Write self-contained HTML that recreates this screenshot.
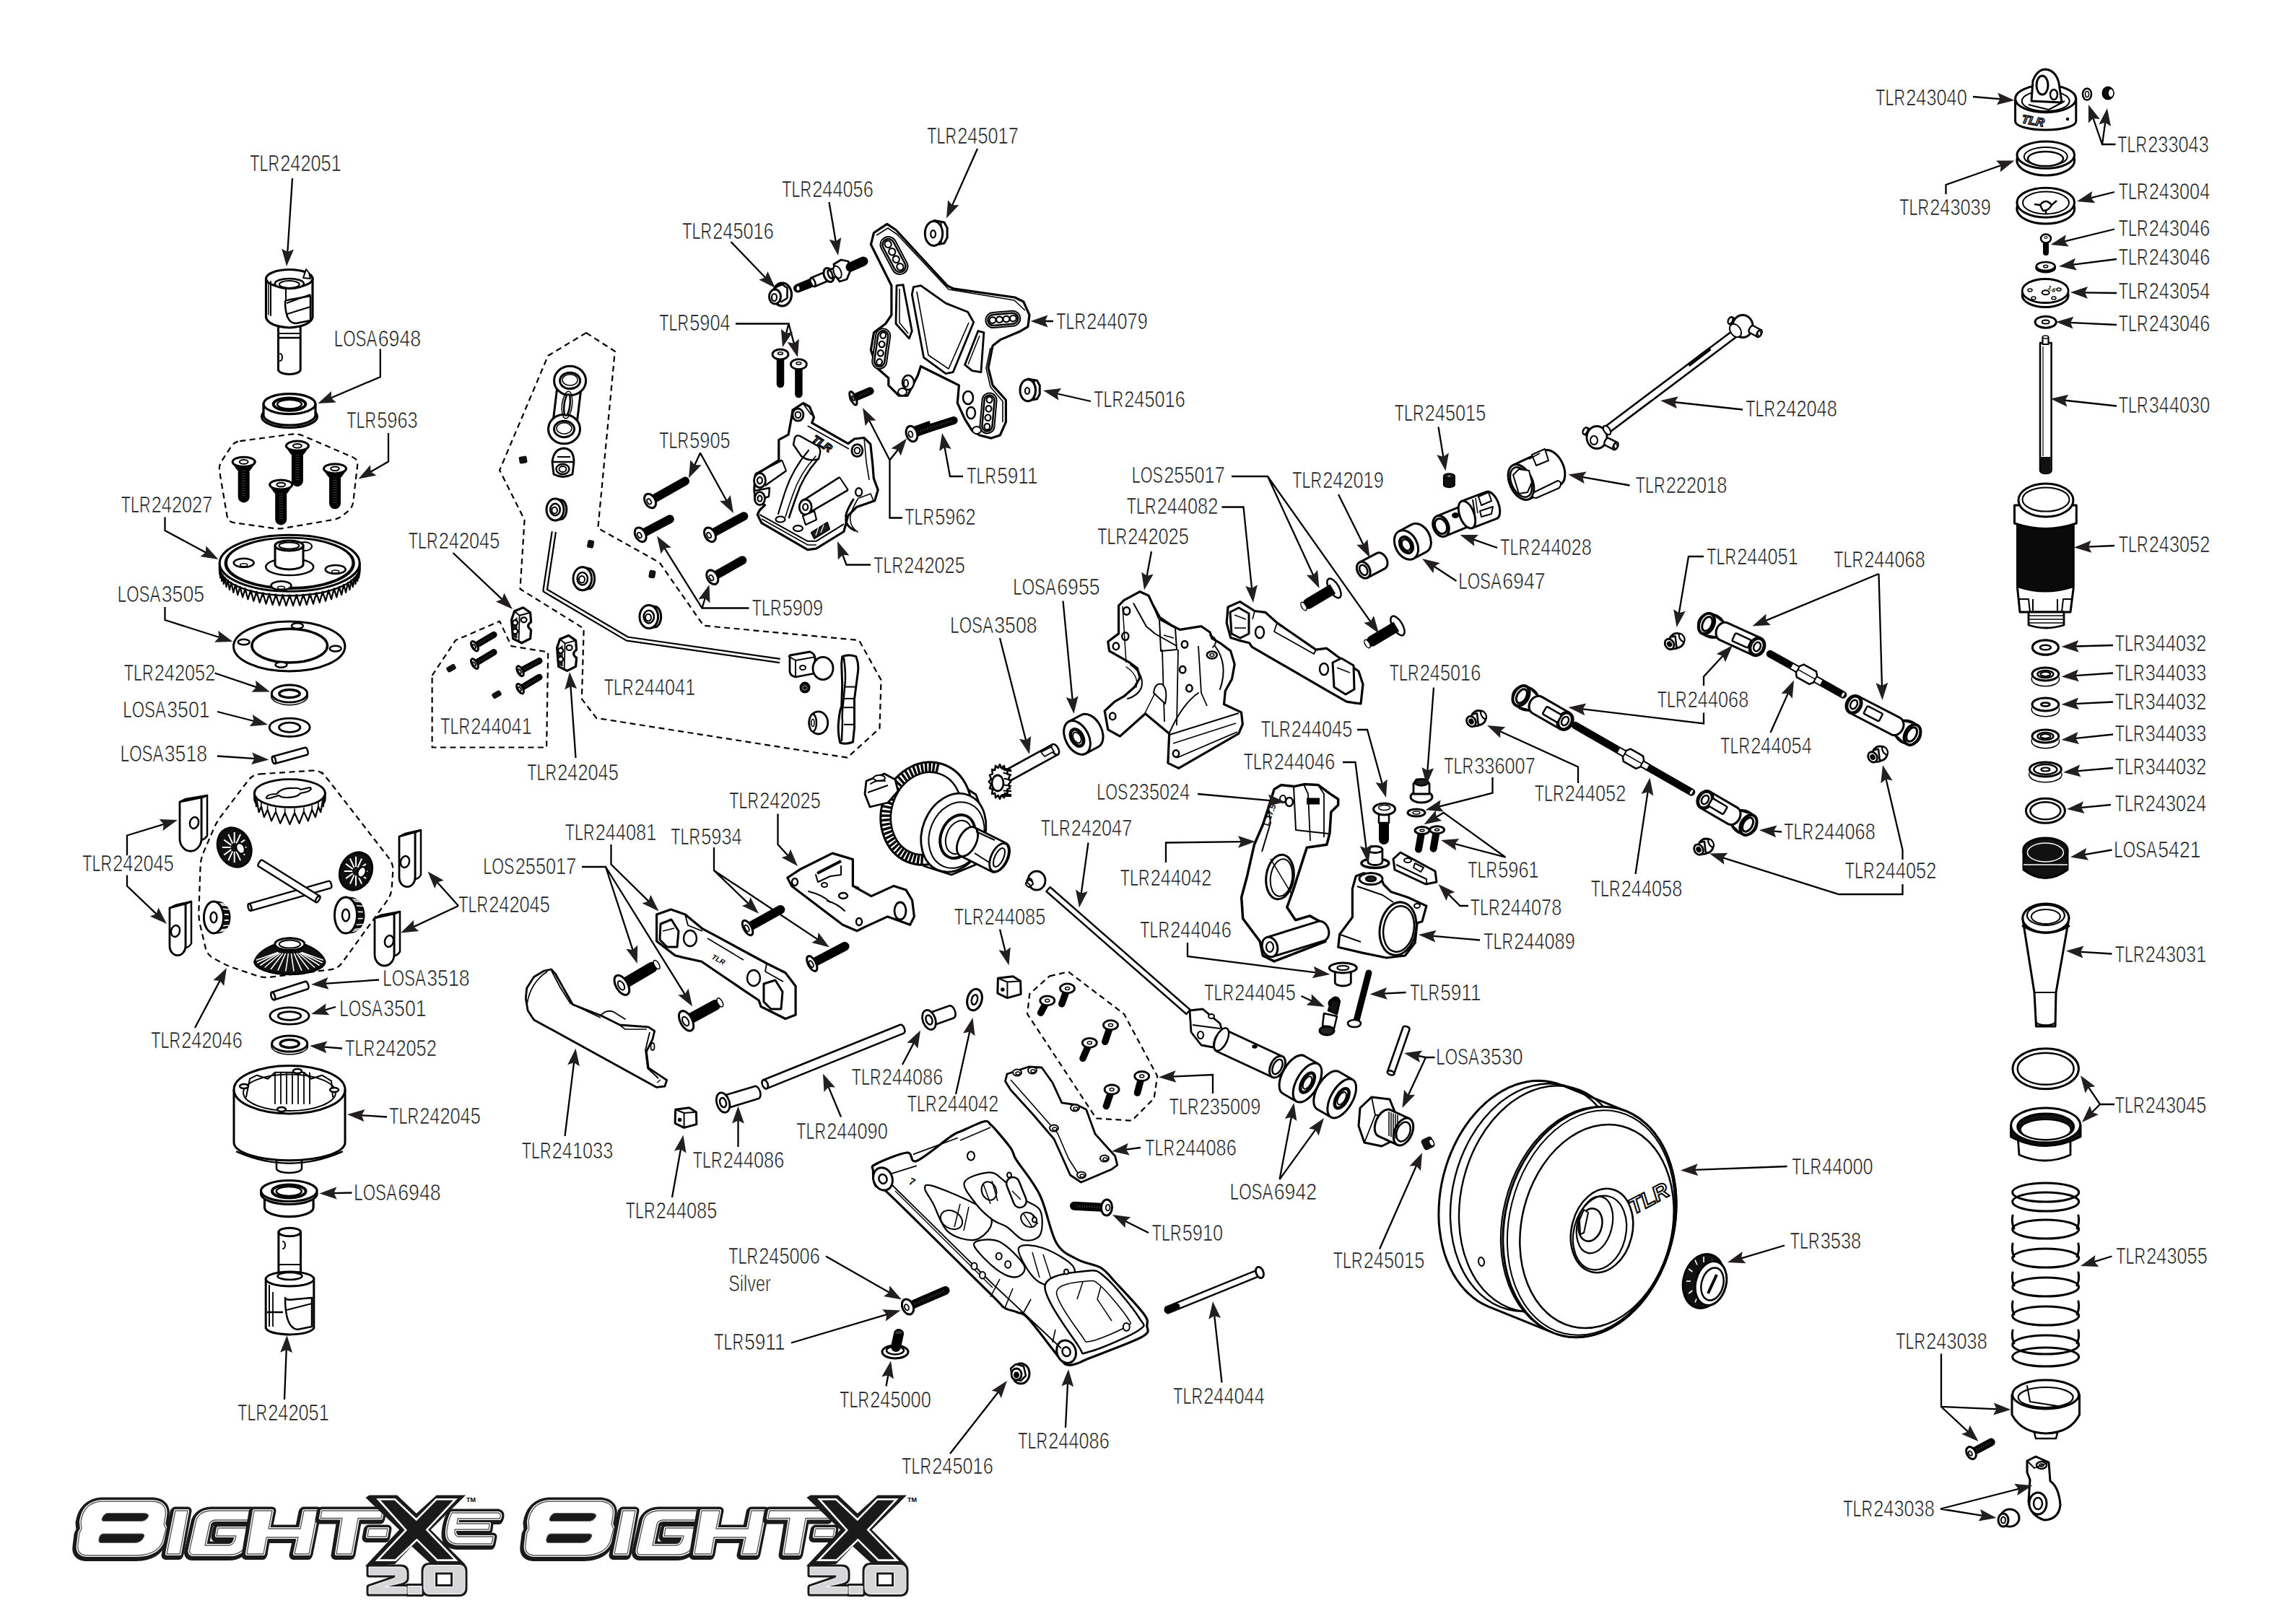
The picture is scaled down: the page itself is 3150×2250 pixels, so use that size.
<!DOCTYPE html><html><head><meta charset="utf-8"><style>html,body{margin:0;padding:0;background:#fff;}svg{display:block}</style></head><body>
<svg xmlns="http://www.w3.org/2000/svg" width="3150" height="2250" viewBox="0 0 3150 2250">
<rect width="3150" height="2250" fill="#fff"/>
<path d="M385.5,452L385.5,512A15.3,6.5 0 0 0 416.2,512L416.2,452Z" fill="#fff" stroke="#000" stroke-width="3" stroke-linejoin="round" stroke-linecap="round"/>
<path d="M386,462L416,462" fill="none" stroke="#000" stroke-width="2" stroke-linejoin="round" stroke-linecap="butt"/>
<path d="M386,468L416,468" fill="none" stroke="#000" stroke-width="2.5" stroke-linejoin="round" stroke-linecap="butt"/>
<path d="M388,490 a3,5 0 0 1 0,10" fill="none" stroke="#000" stroke-width="2" stroke-linejoin="round" stroke-linecap="round"/>
<path d="M368.5,386L368.5,440Q372,452 400.8,454Q429,452 433,440L433,386Z" fill="#fff" stroke="#000" stroke-width="3.2" stroke-linejoin="round" stroke-linecap="round"/>
<ellipse cx="400.8" cy="386" rx="32.3" ry="12.5" fill="#fff" stroke="#000" stroke-width="3.2"/>
<ellipse cx="400.8" cy="393" rx="20" ry="7" fill="#fff" stroke="#000" stroke-width="2.5"/>
<ellipse cx="400.8" cy="394" rx="14" ry="5" fill="#fff" stroke="#000" stroke-width="2"/>
<path d="M375,390L375,437" fill="none" stroke="#000" stroke-width="2" stroke-linejoin="round" stroke-linecap="round"/>
<path d="M372,391L372,436" fill="none" stroke="#000" stroke-width="1.5" stroke-linejoin="round" stroke-linecap="round"/>
<path d="M396,400L396,430" fill="none" stroke="#000" stroke-width="2" stroke-linejoin="round" stroke-linecap="round"/>
<path d="M395,417Q395,448 410,448L430,444L430,410L408,414Q395,416 395,417Z" fill="#fff" stroke="#000" stroke-width="2.5" stroke-linejoin="round" stroke-linecap="round"/>
<path d="M397,420L430,408" fill="none" stroke="#000" stroke-width="2" stroke-linejoin="round" stroke-linecap="butt"/>
<path d="M398,435L430,425" fill="none" stroke="#000" stroke-width="2" stroke-linejoin="round" stroke-linecap="butt"/>
<path d="M420,385L424,373L428,378L430,386Z" fill="#fff" stroke="#000" stroke-width="2" stroke-linejoin="round" stroke-linecap="round"/>
<ellipse cx="401" cy="577" rx="38.5" ry="15.5" fill="#fff" stroke="#000" stroke-width="3.2"/>
<path d="M365,559.6L365,575.0A36,14 0 0 0 437,575.0L437,559.6Z" fill="#fff" stroke="#000" stroke-width="3.2" stroke-linejoin="round" stroke-linecap="round"/>
<ellipse cx="401" cy="559.6" rx="36" ry="14" fill="#fff" stroke="#000" stroke-width="3.2"/>
<ellipse cx="401" cy="560.1" rx="22.3" ry="8.7" fill="#fff" stroke="#000" stroke-width="4"/>
<ellipse cx="401" cy="560.1" rx="16.9" ry="6.3" fill="#fff" stroke="#000" stroke-width="2.5"/>
<path d="M332.3,611.1L404,601.6Q411.9,600.5 419.3,603.6L488.7,633.4Q496.1,636.5 495.2,644.4L489.3,695.1Q488.4,703 482.2,708.1L475.7,713.5Q469.5,718.6 461.6,720L394.3,731.6Q386.4,733 378.5,731.9L323.9,724.1Q316,723 314.6,715.1L304.1,653.3Q302.7,645.4 307.1,638.7L320,618.9Q324.4,612.2 332.3,611.1" fill="none" stroke="#000" stroke-width="2.2" stroke-dasharray="8 5.5"/>
<line x1="411.9" y1="621.7" x2="411.9" y2="666.2" stroke="#000" stroke-width="16" stroke-linecap="round"/>
<line x1="411.9" y1="629.7" x2="411.9" y2="666.2" stroke="#333" stroke-width="5.6" stroke-dasharray="1.2 2.2"/>
<path d="M396.4,617.7L403.9,628.3L419.9,628.3L427.4,617.7Z" fill="#000" stroke="#000" stroke-width="3" stroke-linejoin="round" stroke-linecap="round"/>
<ellipse cx="411.9" cy="617.7" rx="15.5" ry="6.6" fill="#fff" stroke="#000" stroke-width="3"/>
<ellipse cx="411.9" cy="617.7" rx="5.9" ry="2.8" fill="#fff" stroke="#000" stroke-width="2"/>
<line x1="337.7" y1="643.9" x2="337.7" y2="688.4" stroke="#000" stroke-width="16" stroke-linecap="round"/>
<line x1="337.7" y1="651.9" x2="337.7" y2="688.4" stroke="#333" stroke-width="5.6" stroke-dasharray="1.2 2.2"/>
<path d="M322.2,639.9L329.7,650.5L345.7,650.5L353.2,639.9Z" fill="#000" stroke="#000" stroke-width="3" stroke-linejoin="round" stroke-linecap="round"/>
<ellipse cx="337.7" cy="639.9" rx="15.5" ry="6.6" fill="#fff" stroke="#000" stroke-width="3"/>
<ellipse cx="337.7" cy="639.9" rx="5.9" ry="2.8" fill="#fff" stroke="#000" stroke-width="2"/>
<line x1="464" y1="653.3" x2="464" y2="697.3" stroke="#000" stroke-width="16" stroke-linecap="round"/>
<line x1="464" y1="661.3" x2="464" y2="697.3" stroke="#333" stroke-width="5.6" stroke-dasharray="1.2 2.2"/>
<path d="M448.5,649.3L456,659.9L472,659.9L479.5,649.3Z" fill="#000" stroke="#000" stroke-width="3" stroke-linejoin="round" stroke-linecap="round"/>
<ellipse cx="464" cy="649.3" rx="15.5" ry="6.6" fill="#fff" stroke="#000" stroke-width="3"/>
<ellipse cx="464" cy="649.3" rx="5.9" ry="2.8" fill="#fff" stroke="#000" stroke-width="2"/>
<line x1="389.2" y1="675.5" x2="389.2" y2="719.4" stroke="#000" stroke-width="16" stroke-linecap="round"/>
<line x1="389.2" y1="683.5" x2="389.2" y2="719.4" stroke="#333" stroke-width="5.6" stroke-dasharray="1.2 2.2"/>
<path d="M373.7,671.5L381.2,682.1L397.2,682.1L404.7,671.5Z" fill="#000" stroke="#000" stroke-width="3" stroke-linejoin="round" stroke-linecap="round"/>
<ellipse cx="389.2" cy="671.5" rx="15.5" ry="6.6" fill="#fff" stroke="#000" stroke-width="3"/>
<ellipse cx="389.2" cy="671.5" rx="5.9" ry="2.8" fill="#fff" stroke="#000" stroke-width="2"/>
<path d="M304.2,780.3L304.2,789.3A97,39 0 0 0 498.2,789.3L498.2,780.3Z" fill="#fff" stroke="#000" stroke-width="3" stroke-linejoin="round" stroke-linecap="round"/>
<path d="M304.2,785.3L304.3,795.9L304.7,789.1L305.2,800.4L306.1,792.9L307.1,804.8L308.4,796.6L309.9,809.1L311.6,800.2L313.5,813.2L315.7,803.7L318.0,817.1L320.5,807.0L323.3,820.9L326.2,810.0L329.3,824.3L332.6,812.9L336.1,827.5L339.7,815.4L343.4,830.3L347.3,817.7L351.3,832.8L355.5,819.7L359.7,834.9L364.1,821.3L368.5,836.6L373.0,822.6L377.6,837.9L382.3,823.6L387.0,838.8L391.7,824.1L396.4,839.2L401.2,824.3L406.0,839.2L410.7,824.1L415.4,838.8L420.1,823.6L424.8,837.9L429.4,822.6L433.9,836.6L438.3,821.3L442.7,834.9L446.9,819.7L451.1,832.8L455.1,817.7L459.0,830.3L462.7,815.4L466.3,827.5L469.8,812.9L473.1,824.3L476.2,810.0L479.1,820.9L481.9,807.0L484.4,817.1L486.7,803.7L488.9,813.2L490.8,800.2L492.5,809.1L494.0,796.6L495.3,804.8L496.3,792.9L497.2,800.4L497.7,789.1L498.1,795.9L498.2,785.3L498.2,780.3L304.2,780.3Z" fill="#fff" stroke="#000" stroke-width="2.2" stroke-linejoin="round" stroke-linecap="round"/>
<path d="M304.2,786.3L304.3,788.2L304.7,790.1L305.2,792L306.1,793.9L307.1,795.8L308.4,797.6L309.9,799.4L311.6,801.2L313.5,803L315.7,804.7L318,806.4L320.5,808L323.3,809.5L326.2,811L329.3,812.5L332.6,813.9L336.1,815.2L339.7,816.4L343.4,817.6L347.3,818.7L351.3,819.8L355.5,820.7L359.7,821.6L364.1,822.3L368.5,823L373,823.6L377.6,824.1L382.3,824.6L387,824.9L391.7,825.1L396.4,825.3L401.2,825.3L406,825.3L410.7,825.1L415.4,824.9L420.1,824.6L424.8,824.1L429.4,823.6L433.9,823L438.3,822.3L442.7,821.6L446.9,820.7L451.1,819.8L455.1,818.7L459,817.6L462.7,816.4L466.3,815.2L469.8,813.9L473.1,812.5L476.2,811L479.1,809.5L481.9,808L484.4,806.4L486.7,804.7L488.9,803L490.8,801.2L492.5,799.4L494,797.6L495.3,795.8L496.3,793.9L497.2,792L497.7,790.1L498.1,788.2L498.2,786.3" fill="none" stroke="#000" stroke-width="2.5" stroke-linejoin="round" stroke-linecap="butt"/>
<ellipse cx="401.2" cy="780.3" rx="97" ry="39" fill="#fff" stroke="#000" stroke-width="3"/>
<ellipse cx="401.2" cy="780.3" rx="89" ry="35" fill="#fff" stroke="#000" stroke-width="3.2"/>
<ellipse cx="401.2" cy="779.8" rx="87" ry="34" fill="#fff" stroke="#000" stroke-width="1.5"/>
<ellipse cx="337.7" cy="779.8" rx="14" ry="6" fill="#fff" stroke="#000" stroke-width="2.5"/>
<ellipse cx="337.7" cy="782.8" rx="5" ry="2" fill="#fff" stroke="#000" stroke-width="1.5"/>
<ellipse cx="464.7" cy="788.9" rx="14" ry="6" fill="#fff" stroke="#000" stroke-width="2.5"/>
<ellipse cx="464.7" cy="791.9" rx="5" ry="2" fill="#fff" stroke="#000" stroke-width="1.5"/>
<ellipse cx="389.5" cy="811.3" rx="14" ry="6" fill="#fff" stroke="#000" stroke-width="2.5"/>
<ellipse cx="389.5" cy="814.3" rx="5" ry="2" fill="#fff" stroke="#000" stroke-width="1.5"/>
<ellipse cx="422" cy="757" rx="10" ry="6" fill="#fff" stroke="#000" stroke-width="2"/>
<ellipse cx="401.2" cy="785.4" rx="33" ry="11.7" fill="#fff" stroke="#000" stroke-width="2.5"/>
<path d="M381,756L381,782A19.5,7 0 0 0 420,782L420,756Z" fill="#fff" stroke="#000" stroke-width="3" stroke-linejoin="round" stroke-linecap="round"/>
<ellipse cx="400.5" cy="756" rx="19.5" ry="7" fill="#fff" stroke="#000" stroke-width="3.2"/>
<ellipse cx="400.5" cy="756" rx="14" ry="4.5" fill="#fff" stroke="#000" stroke-width="2"/>
<ellipse cx="400.7" cy="895.5" rx="77.2" ry="34.5" fill="#fff" stroke="#000" stroke-width="3"/>
<ellipse cx="401.2" cy="894.6" rx="52.3" ry="23.4" fill="#fff" stroke="#000" stroke-width="3.5"/>
<ellipse cx="411.9" cy="867.1" rx="8" ry="3.8" fill="#fff" stroke="#000" stroke-width="2.5"/>
<ellipse cx="337.7" cy="889.5" rx="8" ry="3.8" fill="#fff" stroke="#000" stroke-width="2.5"/>
<ellipse cx="464.7" cy="898.6" rx="8" ry="3.8" fill="#fff" stroke="#000" stroke-width="2.5"/>
<ellipse cx="389.5" cy="921" rx="8" ry="3.8" fill="#fff" stroke="#000" stroke-width="2.5"/>
<ellipse cx="401" cy="964" rx="24.7" ry="12" fill="#fff" stroke="#000" stroke-width="3"/>
<path d="M376.3,961L376.3,964A24.7,12 0 0 0 425.7,964L425.7,961Z" fill="#fff" stroke="none" stroke-width="0" stroke-linejoin="round" stroke-linecap="round"/>
<ellipse cx="401" cy="961" rx="24.7" ry="12" fill="#fff" stroke="#000" stroke-width="3"/>
<ellipse cx="401" cy="961" rx="14.2" ry="5.6" fill="#fff" stroke="#000" stroke-width="3.5"/>
<ellipse cx="401.2" cy="1007.8" rx="28" ry="12.7" fill="#fff" stroke="#000" stroke-width="2.8"/>
<ellipse cx="401.2" cy="1007.8" rx="14.7" ry="6.6" fill="#fff" stroke="#000" stroke-width="2.8"/>
<path d="M380.8,1058L425.5,1045.8A2.3,5.2 -15.3 0 0 422.7,1035.8L378,1048Z" fill="#fff" stroke="#000" stroke-width="2.5" stroke-linejoin="round" stroke-linecap="round"/>
<ellipse cx="379.4" cy="1053" rx="2.3" ry="5.2" fill="#fff" stroke="#000" stroke-width="2.5" transform="rotate(-15.265964014212235 379.4 1053)"/>
<path d="M360,1072.4L433,1067.6Q443,1067 449.7,1074.4L445.3,1069.6Q452,1077 458.1,1084.9L538.9,1189.1Q545,1197 544.3,1207L542.7,1230Q542,1240 536.1,1248.1L473.9,1333.9Q468,1342 458.1,1343.3L374.9,1353.7Q365,1355 355.5,1351.8L324.5,1341.2Q315,1338 306.2,1333.3L295.8,1327.7Q287,1323 284.7,1313.3L277.3,1281.7Q275,1272 275.4,1262L277.6,1200Q278,1190 282,1180.8L296,1148.2Q300,1139 306,1131L344,1081Q350,1073 360,1072.4" fill="none" stroke="#000" stroke-width="2.2" stroke-dasharray="8 5.5"/>
<path d="M279,1105L287,1102L287,1158.0A15.0,17.25 0 0 1 279,1164.0Z" fill="#fff" stroke="#000" stroke-width="2.5" stroke-linejoin="round" stroke-linecap="round"/>
<path d="M249,1111L257,1107L287,1102L279,1105Z" fill="#fff" stroke="#000" stroke-width="2.5" stroke-linejoin="round" stroke-linecap="round"/>
<path d="M249,1111L249,1162.0A15.0,17.25 0 0 0 279,1162.0L279,1105Z" fill="#fff" stroke="#000" stroke-width="2.8" stroke-linejoin="round" stroke-linecap="round"/>
<ellipse cx="269" cy="1140" rx="6" ry="8" fill="#fff" stroke="#000" stroke-width="2.5" transform="rotate(15 269 1140)"/>
<path d="M257,1252L265,1249L265,1307.0A11.0,12.649999999999999 0 0 1 257,1313.0Z" fill="#fff" stroke="#000" stroke-width="2.5" stroke-linejoin="round" stroke-linecap="round"/>
<path d="M235,1258L243,1254L265,1249L257,1252Z" fill="#fff" stroke="#000" stroke-width="2.5" stroke-linejoin="round" stroke-linecap="round"/>
<path d="M235,1258L235,1311.0A11.0,12.649999999999999 0 0 0 257,1311.0L257,1252Z" fill="#fff" stroke="#000" stroke-width="2.8" stroke-linejoin="round" stroke-linecap="round"/>
<ellipse cx="243" cy="1290" rx="6" ry="8" fill="#fff" stroke="#000" stroke-width="2.5" transform="rotate(15 243 1290)"/>
<path d="M575,1153L583,1150L583,1212.0A11.0,12.649999999999999 0 0 1 575,1218.0Z" fill="#fff" stroke="#000" stroke-width="2.5" stroke-linejoin="round" stroke-linecap="round"/>
<path d="M553,1159L561,1155L583,1150L575,1153Z" fill="#fff" stroke="#000" stroke-width="2.5" stroke-linejoin="round" stroke-linecap="round"/>
<path d="M553,1159L553,1216.0A11.0,12.649999999999999 0 0 0 575,1216.0L575,1153Z" fill="#fff" stroke="#000" stroke-width="2.8" stroke-linejoin="round" stroke-linecap="round"/>
<ellipse cx="561" cy="1194" rx="6" ry="8" fill="#fff" stroke="#000" stroke-width="2.5" transform="rotate(15 561 1194)"/>
<path d="M546,1266L554,1263L554,1318.5A13.5,15.524999999999999 0 0 1 546,1324.5Z" fill="#fff" stroke="#000" stroke-width="2.5" stroke-linejoin="round" stroke-linecap="round"/>
<path d="M519,1272L527,1268L554,1263L546,1266Z" fill="#fff" stroke="#000" stroke-width="2.5" stroke-linejoin="round" stroke-linecap="round"/>
<path d="M519,1272L519,1322.5A13.5,15.524999999999999 0 0 0 546,1322.5L546,1266Z" fill="#fff" stroke="#000" stroke-width="2.8" stroke-linejoin="round" stroke-linecap="round"/>
<ellipse cx="539" cy="1304" rx="6" ry="8" fill="#fff" stroke="#000" stroke-width="2.5" transform="rotate(15 539 1304)"/>
<path d="M352.4,1099L352.4,1107A49,19.4 0 0 0 450.4,1107L450.4,1099Z" fill="#fff" stroke="#000" stroke-width="2.5" stroke-linejoin="round" stroke-linecap="round"/>
<path d="M354.4,1107.0L354.9,1117.3L356.3,1112.5L358.6,1125.2L361.9,1117.5L365.9,1132.1L370.6,1121.7L376.0,1137.4L381.9,1124.6L388.2,1140.8L394.7,1126.2L401.4,1142.0L408.1,1126.2L414.6,1140.8L420.9,1124.6L426.8,1137.4L432.2,1121.7L436.9,1132.1L440.9,1117.5L444.2,1125.2L446.5,1112.5L447.9,1117.3L448.4,1107.0L450.4,1099L352.4,1099Z" fill="#fff" stroke="#000" stroke-width="2.2" stroke-linejoin="round" stroke-linecap="round"/>
<path d="M354.4,1101L354.4,1107" fill="none" stroke="#000" stroke-width="1.6" stroke-linejoin="round" stroke-linecap="butt"/>
<path d="M356.3,1106.5L356.3,1112.5" fill="none" stroke="#000" stroke-width="1.6" stroke-linejoin="round" stroke-linecap="butt"/>
<path d="M361.9,1111.5L361.9,1117.5" fill="none" stroke="#000" stroke-width="1.6" stroke-linejoin="round" stroke-linecap="butt"/>
<path d="M370.6,1115.7L370.6,1121.7" fill="none" stroke="#000" stroke-width="1.6" stroke-linejoin="round" stroke-linecap="butt"/>
<path d="M381.9,1118.6L381.9,1124.6" fill="none" stroke="#000" stroke-width="1.6" stroke-linejoin="round" stroke-linecap="butt"/>
<path d="M394.7,1120.2L394.7,1126.2" fill="none" stroke="#000" stroke-width="1.6" stroke-linejoin="round" stroke-linecap="butt"/>
<path d="M408.1,1120.2L408.1,1126.2" fill="none" stroke="#000" stroke-width="1.6" stroke-linejoin="round" stroke-linecap="butt"/>
<path d="M420.9,1118.6L420.9,1124.6" fill="none" stroke="#000" stroke-width="1.6" stroke-linejoin="round" stroke-linecap="butt"/>
<path d="M432.2,1115.7L432.2,1121.7" fill="none" stroke="#000" stroke-width="1.6" stroke-linejoin="round" stroke-linecap="butt"/>
<path d="M440.9,1111.5L440.9,1117.5" fill="none" stroke="#000" stroke-width="1.6" stroke-linejoin="round" stroke-linecap="butt"/>
<path d="M446.5,1106.5L446.5,1112.5" fill="none" stroke="#000" stroke-width="1.6" stroke-linejoin="round" stroke-linecap="butt"/>
<path d="M448.4,1101L448.4,1107" fill="none" stroke="#000" stroke-width="1.6" stroke-linejoin="round" stroke-linecap="butt"/>
<ellipse cx="401.4" cy="1099" rx="49" ry="19.4" fill="#fff" stroke="#000" stroke-width="2.8"/>
<path d="M369.4,1104Q371.4,1100 383.4,1100Q389.4,1091 406.4,1092Q413.4,1091 416.4,1094L429.4,1091Q433.4,1094 425.4,1097L416.4,1099Q411.4,1105 396.4,1105Q389.4,1105 386.4,1102L373.4,1106Q367.4,1107 369.4,1104Z" fill="#fff" stroke="#000" stroke-width="2.2" stroke-linejoin="round" stroke-linecap="round"/>
<ellipse cx="324.7" cy="1174" rx="22.4" ry="28" fill="#111" stroke="#000" stroke-width="3" transform="rotate(-25 324.7 1174)"/>
<path d="M329.7,1174L341.5,1174" fill="none" stroke="#fff" stroke-width="2" stroke-linejoin="round" stroke-linecap="butt"/>
<path d="M329.1,1177.1L339.2,1184.5" fill="none" stroke="#fff" stroke-width="2" stroke-linejoin="round" stroke-linecap="butt"/>
<path d="M327.2,1179.3L333.1,1192.2" fill="none" stroke="#fff" stroke-width="2" stroke-linejoin="round" stroke-linecap="butt"/>
<path d="M324.7,1180.2L324.7,1195" fill="none" stroke="#fff" stroke-width="2" stroke-linejoin="round" stroke-linecap="butt"/>
<path d="M322.2,1179.3L316.3,1192.2" fill="none" stroke="#fff" stroke-width="2" stroke-linejoin="round" stroke-linecap="butt"/>
<path d="M320.3,1177.1L310.2,1184.5" fill="none" stroke="#fff" stroke-width="2" stroke-linejoin="round" stroke-linecap="butt"/>
<path d="M319.7,1174L307.9,1174" fill="none" stroke="#fff" stroke-width="2" stroke-linejoin="round" stroke-linecap="butt"/>
<path d="M320.3,1170.9L310.2,1163.5" fill="none" stroke="#fff" stroke-width="2" stroke-linejoin="round" stroke-linecap="butt"/>
<path d="M322.2,1168.7L316.3,1155.8" fill="none" stroke="#fff" stroke-width="2" stroke-linejoin="round" stroke-linecap="butt"/>
<path d="M324.7,1167.8L324.7,1153" fill="none" stroke="#fff" stroke-width="2" stroke-linejoin="round" stroke-linecap="butt"/>
<path d="M327.2,1168.7L333.1,1155.8" fill="none" stroke="#fff" stroke-width="2" stroke-linejoin="round" stroke-linecap="butt"/>
<path d="M329.1,1170.9L339.2,1163.5" fill="none" stroke="#fff" stroke-width="2" stroke-linejoin="round" stroke-linecap="butt"/>
<ellipse cx="333.1" cy="1175.4" rx="5.6" ry="7.8" fill="#fff" stroke="#000" stroke-width="2.5" transform="rotate(-25 333.1 1175.4)"/>
<ellipse cx="493" cy="1207" rx="21.6" ry="27" fill="#111" stroke="#000" stroke-width="3" transform="rotate(25 493 1207)"/>
<path d="M497.9,1207L509.2,1207" fill="none" stroke="#fff" stroke-width="2" stroke-linejoin="round" stroke-linecap="butt"/>
<path d="M497.2,1210L507,1217.1" fill="none" stroke="#fff" stroke-width="2" stroke-linejoin="round" stroke-linecap="butt"/>
<path d="M495.4,1212.1L501.1,1224.5" fill="none" stroke="#fff" stroke-width="2" stroke-linejoin="round" stroke-linecap="butt"/>
<path d="M493,1212.9L493,1227.2" fill="none" stroke="#fff" stroke-width="2" stroke-linejoin="round" stroke-linecap="butt"/>
<path d="M490.6,1212.1L484.9,1224.5" fill="none" stroke="#fff" stroke-width="2" stroke-linejoin="round" stroke-linecap="butt"/>
<path d="M488.8,1210L479,1217.1" fill="none" stroke="#fff" stroke-width="2" stroke-linejoin="round" stroke-linecap="butt"/>
<path d="M488.1,1207L476.8,1207" fill="none" stroke="#fff" stroke-width="2" stroke-linejoin="round" stroke-linecap="butt"/>
<path d="M488.8,1204L479,1196.9" fill="none" stroke="#fff" stroke-width="2" stroke-linejoin="round" stroke-linecap="butt"/>
<path d="M490.6,1201.9L484.9,1189.5" fill="none" stroke="#fff" stroke-width="2" stroke-linejoin="round" stroke-linecap="butt"/>
<path d="M493,1201.1L493,1186.8" fill="none" stroke="#fff" stroke-width="2" stroke-linejoin="round" stroke-linecap="butt"/>
<path d="M495.4,1201.9L501.1,1189.5" fill="none" stroke="#fff" stroke-width="2" stroke-linejoin="round" stroke-linecap="butt"/>
<path d="M497.2,1204L507,1196.9" fill="none" stroke="#fff" stroke-width="2" stroke-linejoin="round" stroke-linecap="butt"/>
<ellipse cx="501.1" cy="1208.3" rx="5.4" ry="7.6" fill="#fff" stroke="#000" stroke-width="2.5" transform="rotate(25 501.1 1208.3)"/>
<ellipse cx="301.5" cy="1271" rx="16.5" ry="20.9" fill="#111" stroke="#000" stroke-width="3"/>
<path d="M302.6,1251.2L316.9,1253.4" fill="none" stroke="#fff" stroke-width="1.6" stroke-linejoin="round" stroke-linecap="butt"/>
<path d="M302.6,1253.2L316.9,1255.1" fill="none" stroke="#fff" stroke-width="1.6" stroke-linejoin="round" stroke-linecap="butt"/>
<path d="M302.6,1258.7L316.9,1260" fill="none" stroke="#fff" stroke-width="1.6" stroke-linejoin="round" stroke-linecap="butt"/>
<path d="M302.6,1266.6L316.9,1267.1" fill="none" stroke="#fff" stroke-width="1.6" stroke-linejoin="round" stroke-linecap="butt"/>
<path d="M302.6,1275.4L316.9,1274.9" fill="none" stroke="#fff" stroke-width="1.6" stroke-linejoin="round" stroke-linecap="butt"/>
<path d="M302.6,1283.3L316.9,1282" fill="none" stroke="#fff" stroke-width="1.6" stroke-linejoin="round" stroke-linecap="butt"/>
<path d="M302.6,1288.8L316.9,1286.9" fill="none" stroke="#fff" stroke-width="1.6" stroke-linejoin="round" stroke-linecap="butt"/>
<path d="M302.6,1290.8L316.9,1288.6" fill="none" stroke="#fff" stroke-width="1.6" stroke-linejoin="round" stroke-linecap="butt"/>
<ellipse cx="296" cy="1271" rx="13.6" ry="22" fill="#fff" stroke="#000" stroke-width="3"/>
<ellipse cx="296" cy="1271" rx="4.4" ry="7.3" fill="#fff" stroke="#000" stroke-width="2.5"/>
<ellipse cx="485.2" cy="1268" rx="18.8" ry="23.8" fill="#111" stroke="#000" stroke-width="3"/>
<path d="M486.5,1245.5L502.8,1248" fill="none" stroke="#fff" stroke-width="1.6" stroke-linejoin="round" stroke-linecap="butt"/>
<path d="M486.5,1247.7L502.8,1250" fill="none" stroke="#fff" stroke-width="1.6" stroke-linejoin="round" stroke-linecap="butt"/>
<path d="M486.5,1254L502.8,1255.5" fill="none" stroke="#fff" stroke-width="1.6" stroke-linejoin="round" stroke-linecap="butt"/>
<path d="M486.5,1263L502.8,1263.5" fill="none" stroke="#fff" stroke-width="1.6" stroke-linejoin="round" stroke-linecap="butt"/>
<path d="M486.5,1273L502.8,1272.5" fill="none" stroke="#fff" stroke-width="1.6" stroke-linejoin="round" stroke-linecap="butt"/>
<path d="M486.5,1282L502.8,1280.5" fill="none" stroke="#fff" stroke-width="1.6" stroke-linejoin="round" stroke-linecap="butt"/>
<path d="M486.5,1288.3L502.8,1286" fill="none" stroke="#fff" stroke-width="1.6" stroke-linejoin="round" stroke-linecap="butt"/>
<path d="M486.5,1290.5L502.8,1288" fill="none" stroke="#fff" stroke-width="1.6" stroke-linejoin="round" stroke-linecap="butt"/>
<ellipse cx="479" cy="1268" rx="15.5" ry="25" fill="#fff" stroke="#000" stroke-width="3"/>
<ellipse cx="479" cy="1268" rx="5" ry="8.2" fill="#fff" stroke="#000" stroke-width="2.5"/>
<path d="M352.4,1332.3Q357.29999999999995,1318 379.34999999999997,1309.2L423.45,1309.2Q445.5,1318 450.4,1332.3A49,17.6 0 0 1 352.4,1332.3Z" fill="#111" stroke="#000" stroke-width="2.5" stroke-linejoin="round" stroke-linecap="round"/>
<path d="M385.1,1319.4L354.8,1330.3" fill="none" stroke="#fff" stroke-width="1.6" stroke-linejoin="round" stroke-linecap="butt"/>
<path d="M385.6,1319.8L356.2,1334" fill="none" stroke="#fff" stroke-width="1.6" stroke-linejoin="round" stroke-linecap="butt"/>
<path d="M387,1320.1L360.2,1337.5" fill="none" stroke="#fff" stroke-width="1.6" stroke-linejoin="round" stroke-linecap="butt"/>
<path d="M389.2,1320.5L366.6,1340.5" fill="none" stroke="#fff" stroke-width="1.6" stroke-linejoin="round" stroke-linecap="butt"/>
<path d="M392.1,1320.7L375,1343" fill="none" stroke="#fff" stroke-width="1.6" stroke-linejoin="round" stroke-linecap="butt"/>
<path d="M395.6,1320.9L384.9,1344.7" fill="none" stroke="#fff" stroke-width="1.6" stroke-linejoin="round" stroke-linecap="butt"/>
<path d="M399.4,1321L395.8,1345.6" fill="none" stroke="#fff" stroke-width="1.6" stroke-linejoin="round" stroke-linecap="butt"/>
<path d="M403.4,1321L407,1345.6" fill="none" stroke="#fff" stroke-width="1.6" stroke-linejoin="round" stroke-linecap="butt"/>
<path d="M407.2,1320.9L417.9,1344.7" fill="none" stroke="#fff" stroke-width="1.6" stroke-linejoin="round" stroke-linecap="butt"/>
<path d="M410.7,1320.7L427.8,1343" fill="none" stroke="#fff" stroke-width="1.6" stroke-linejoin="round" stroke-linecap="butt"/>
<path d="M413.6,1320.5L436.2,1340.5" fill="none" stroke="#fff" stroke-width="1.6" stroke-linejoin="round" stroke-linecap="butt"/>
<path d="M415.8,1320.1L442.6,1337.5" fill="none" stroke="#fff" stroke-width="1.6" stroke-linejoin="round" stroke-linecap="butt"/>
<path d="M417.2,1319.8L446.6,1334" fill="none" stroke="#fff" stroke-width="1.6" stroke-linejoin="round" stroke-linecap="butt"/>
<path d="M417.7,1319.4L447.9,1330.3" fill="none" stroke="#fff" stroke-width="1.6" stroke-linejoin="round" stroke-linecap="butt"/>
<ellipse cx="401.4" cy="1308.1" rx="20.6" ry="8.4" fill="#fff" stroke="#000" stroke-width="3"/>
<ellipse cx="401.4" cy="1308.1" rx="14.7" ry="5.5" fill="#fff" stroke="#000" stroke-width="2"/>
<path d="M347.4,1261.8L458.2,1230.3A2.2,5 -15.9 0 0 455.4,1220.7L344.6,1252.2Z" fill="#fff" stroke="#000" stroke-width="2.4" stroke-linejoin="round" stroke-linecap="round"/>
<ellipse cx="346" cy="1257" rx="2.2" ry="5" fill="#fff" stroke="#000" stroke-width="2.4" transform="rotate(-15.870240497491375 346 1257)"/>
<path d="M442.9,1241.6L363.4,1191.8A2.2,5 -147.9 0 0 358,1200.2L437.5,1250Z" fill="#fff" stroke="#000" stroke-width="2.4" stroke-linejoin="round" stroke-linecap="round"/>
<ellipse cx="440.2" cy="1245.8" rx="2.2" ry="5" fill="#fff" stroke="#000" stroke-width="2.4" transform="rotate(-147.9363499175827 440.2 1245.8)"/>
<path d="M379.9,1385.2L426.5,1370.2A2.5,5.5 -17.8 0 0 423.1,1359.8L376.5,1374.8Z" fill="#fff" stroke="#000" stroke-width="2.5" stroke-linejoin="round" stroke-linecap="round"/>
<ellipse cx="378.2" cy="1380" rx="2.5" ry="5.5" fill="#fff" stroke="#000" stroke-width="2.5" transform="rotate(-17.842765470792994 378.2 1380)"/>
<ellipse cx="401" cy="1407.5" rx="27.1" ry="11.6" fill="#fff" stroke="#000" stroke-width="2.8"/>
<ellipse cx="401" cy="1407.5" rx="15.8" ry="5.8" fill="#fff" stroke="#000" stroke-width="2.8"/>
<ellipse cx="401.2" cy="1449" rx="24.6" ry="11" fill="#fff" stroke="#000" stroke-width="3"/>
<path d="M376.59999999999997,1446L376.59999999999997,1449A24.6,11 0 0 0 425.8,1449L425.8,1446Z" fill="#fff" stroke="none" stroke-width="0" stroke-linejoin="round" stroke-linecap="round"/>
<ellipse cx="401.2" cy="1446" rx="24.6" ry="11" fill="#fff" stroke="#000" stroke-width="3"/>
<ellipse cx="401.2" cy="1446" rx="13" ry="5.5" fill="#fff" stroke="#000" stroke-width="3.5"/>
<path d="M383,1600L383,1619A17.5,6 0 0 0 418,1619L418,1600Z" fill="#fff" stroke="#000" stroke-width="2.5" stroke-linejoin="round" stroke-linecap="round"/>
<path d="M324,1509.7L324,1582.7A77,24.974999999999998 0 0 0 478,1582.7L478,1509.7Z" fill="#fff" stroke="#000" stroke-width="3" stroke-linejoin="round" stroke-linecap="round"/>
<path d="M328,1595.7Q401,1627.7 474,1595.7" fill="none" stroke="#000" stroke-width="2.5" stroke-linejoin="round" stroke-linecap="round"/>
<ellipse cx="401" cy="1509.7" rx="77" ry="33.3" fill="#fff" stroke="#000" stroke-width="3"/>
<ellipse cx="401" cy="1513.7" rx="64" ry="25.3" fill="#fff" stroke="#000" stroke-width="2"/>
<path d="M341,1519.7L346,1494.7L356,1489.7L371,1494.7L381,1485.7L421,1485.7L431,1494.7L446,1489.7L459,1497.7L461,1519.7" fill="none" stroke="#000" stroke-width="2" stroke-linejoin="round" stroke-linecap="round"/>
<path d="M381,1485.7L381,1529.7" fill="none" stroke="#000" stroke-width="1.8" stroke-linejoin="round" stroke-linecap="butt"/>
<path d="M389,1485.7L389,1529.7" fill="none" stroke="#000" stroke-width="1.8" stroke-linejoin="round" stroke-linecap="butt"/>
<path d="M397,1485.7L397,1529.7" fill="none" stroke="#000" stroke-width="1.8" stroke-linejoin="round" stroke-linecap="butt"/>
<path d="M405,1485.7L405,1529.7" fill="none" stroke="#000" stroke-width="1.8" stroke-linejoin="round" stroke-linecap="butt"/>
<path d="M413,1485.7L413,1529.7" fill="none" stroke="#000" stroke-width="1.8" stroke-linejoin="round" stroke-linecap="butt"/>
<path d="M421,1485.7L421,1529.7" fill="none" stroke="#000" stroke-width="1.8" stroke-linejoin="round" stroke-linecap="butt"/>
<path d="M429,1485.7L429,1529.7" fill="none" stroke="#000" stroke-width="1.8" stroke-linejoin="round" stroke-linecap="butt"/>
<ellipse cx="338" cy="1505" rx="6" ry="3" fill="#fff" stroke="#000" stroke-width="2.5"/>
<ellipse cx="463" cy="1510" rx="6" ry="3" fill="#fff" stroke="#000" stroke-width="2.5"/>
<ellipse cx="412" cy="1484" rx="6" ry="3" fill="#fff" stroke="#000" stroke-width="2.5"/>
<ellipse cx="390" cy="1537" rx="6" ry="3" fill="#fff" stroke="#000" stroke-width="2.5"/>
<path d="M366.5,1650L366.5,1673.3A33.8,12.325 0 0 0 434.1,1673.3L434.1,1650Z" fill="#fff" stroke="#000" stroke-width="3.2" stroke-linejoin="round" stroke-linecap="round"/>
<ellipse cx="400.3" cy="1654" rx="38.8" ry="14.5" fill="#fff" stroke="#000" stroke-width="3.2"/>
<ellipse cx="400.3" cy="1650" rx="38.8" ry="14.5" fill="#fff" stroke="#000" stroke-width="3.2"/>
<ellipse cx="400.3" cy="1650.5" rx="23.3" ry="9" fill="#fff" stroke="#000" stroke-width="4"/>
<ellipse cx="400.3" cy="1650.5" rx="17.5" ry="6.5" fill="#fff" stroke="#000" stroke-width="2.5"/>
<path d="M385.9,1707L385.9,1762A15.3,5.8 0 0 0 416.5,1762L416.5,1707Z" fill="#fff" stroke="#000" stroke-width="3" stroke-linejoin="round" stroke-linecap="round"/>
<ellipse cx="401.2" cy="1707" rx="15.3" ry="5.8" fill="#fff" stroke="#000" stroke-width="3"/>
<path d="M386,1752L416,1752" fill="none" stroke="#000" stroke-width="2" stroke-linejoin="round" stroke-linecap="butt"/>
<path d="M392,1720 a3,5 0 0 1 0,10" fill="none" stroke="#000" stroke-width="2" stroke-linejoin="round" stroke-linecap="round"/>
<path d="M368.2,1772L368.2,1840Q372,1848 401,1849Q430,1848 434.8,1840L434.8,1772Z" fill="#fff" stroke="#000" stroke-width="3" stroke-linejoin="round" stroke-linecap="round"/>
<ellipse cx="401.5" cy="1772" rx="33.3" ry="10" fill="#fff" stroke="#000" stroke-width="3"/>
<ellipse cx="401.5" cy="1768" rx="17" ry="5" fill="#fff" stroke="#000" stroke-width="2.5"/>
<path d="M373,1780L373,1838" fill="none" stroke="#000" stroke-width="2" stroke-linejoin="round" stroke-linecap="butt"/>
<path d="M378,1790L378,1838" fill="none" stroke="#000" stroke-width="1.8" stroke-linejoin="round" stroke-linecap="butt"/>
<path d="M395,1798Q395,1840 412,1842L432,1838L432,1798L410,1800Q395,1802 395,1798Z" fill="#fff" stroke="#000" stroke-width="2.5" stroke-linejoin="round" stroke-linecap="round"/>
<path d="M397,1815L432,1806" fill="none" stroke="#000" stroke-width="2" stroke-linejoin="round" stroke-linecap="butt"/>
<path d="M370,1818L392,1818" fill="none" stroke="#000" stroke-width="2.5" stroke-linejoin="round" stroke-linecap="butt"/>
<path d="M812,461.1L851.8,486.7L828.3,731.8L913.6,779.4L974.6,866.8L1190,887.1L1220.5,942L1218.5,1009L1173.7,1049.7L826.2,994.8L805.9,968.4L808.7,870.8L720.5,816L726.6,720.4L692.1,651.4L759.2,492.8Z" fill="none" stroke="#000" stroke-width="2.2" stroke-linejoin="round" stroke-linecap="butt" stroke-dasharray="8 5.5"/>
<path d="M598.6,935.9L631.1,887.1L692.1,860.7L708.4,895.2L759.2,903.4L757.1,1035.5L598.6,1035.5Z" fill="none" stroke="#000" stroke-width="2.2" stroke-linejoin="round" stroke-linecap="butt" stroke-dasharray="8 5.5"/>
<path d="M773.2,525.4L765.1,592.5L797.9,596.5L806.0,529.4Z" fill="#fff" stroke="#000" stroke-width="3" stroke-linejoin="round" stroke-linecap="round"/>
<ellipse cx="789.6" cy="527.4" rx="22" ry="20.2" fill="#fff" stroke="#000" stroke-width="3"/>
<ellipse cx="789.6" cy="527.4" rx="14" ry="11.2" fill="#fff" stroke="#000" stroke-width="3"/>
<ellipse cx="789.6" cy="526.4" rx="10.5" ry="7.7" fill="#fff" stroke="#000" stroke-width="1.5"/>
<ellipse cx="781.5" cy="594.5" rx="22" ry="20.2" fill="#fff" stroke="#000" stroke-width="3"/>
<ellipse cx="781.5" cy="594.5" rx="14" ry="11.2" fill="#fff" stroke="#000" stroke-width="3"/>
<ellipse cx="781.5" cy="593.5" rx="10.5" ry="7.7" fill="#fff" stroke="#000" stroke-width="1.5"/>
<ellipse cx="785.5" cy="561" rx="4" ry="14.9" fill="#fff" stroke="#000" stroke-width="2.5" transform="rotate(6.883174707742214 785.5 561)"/>
<ellipse cx="785.5" cy="561" rx="7" ry="18.9" fill="none" stroke="#000" stroke-width="1.5" transform="rotate(6.883174707742214 785.5 561)"/>
<rect x="719.1" y="632.1" width="11" height="10" rx="2.5" fill="#111" transform="rotate(-10 724.6 637.1)"/>
<path d="M765,640Q767,622 781,621Q795,622 795,640L793,657Q780,664 767,657Z" fill="#fff" stroke="#000" stroke-width="2.8" stroke-linejoin="round" stroke-linecap="round"/>
<path d="M766,640L794,640" fill="none" stroke="#000" stroke-width="2.5" stroke-linejoin="round" stroke-linecap="butt"/>
<path d="M772,633L790,633" fill="none" stroke="#000" stroke-width="2" stroke-linejoin="round" stroke-linecap="butt"/>
<ellipse cx="779.5" cy="650" rx="9" ry="7" fill="#fff" stroke="#000" stroke-width="2.5"/>
<ellipse cx="779.5" cy="650" rx="5" ry="4" fill="#fff" stroke="#000" stroke-width="2"/>
<path d="M769.0,691L779.5,693.25A11.25,15 0 0 1 779.5,718.75L769.0,721Z" fill="#fff" stroke="#000" stroke-width="3" stroke-linejoin="round" stroke-linecap="round"/>
<ellipse cx="769" cy="706" rx="12" ry="15" fill="#fff" stroke="#000" stroke-width="3"/>
<ellipse cx="769" cy="706" rx="6.8" ry="8.2" fill="#fff" stroke="#000" stroke-width="2.5"/>
<ellipse cx="768.2" cy="707" rx="3.8" ry="4.5" fill="#fff" stroke="#000" stroke-width="2"/>
<path d="M767.3,736.7L755.1,818L868.9,885.1L1080.3,915.5" fill="none" stroke="#000" stroke-width="7.5" stroke-linejoin="round" stroke-linecap="butt"/>
<path d="M767.3,736.7L755.1,818L868.9,885.1L1080.3,915.5" fill="none" stroke="#fff" stroke-width="3" stroke-linejoin="round" stroke-linecap="butt"/>
<rect x="813.6" y="748.3" width="9" height="11" rx="2.5" fill="#111" transform="rotate(10 818.1 753.8)"/>
<rect x="898.9" y="790.1" width="9" height="11" rx="2.5" fill="#111" transform="rotate(10 903.4 795.6)"/>
<path d="M806.8,785.7L818.0,788.1A12.0,16 0 0 1 818.0,815.3000000000001L806.8,817.7Z" fill="#fff" stroke="#000" stroke-width="3" stroke-linejoin="round" stroke-linecap="round"/>
<ellipse cx="806.8" cy="801.7" rx="12.8" ry="16" fill="#fff" stroke="#000" stroke-width="3"/>
<ellipse cx="806.8" cy="801.7" rx="7.2" ry="8.8" fill="#fff" stroke="#000" stroke-width="2.5"/>
<ellipse cx="806" cy="802.7" rx="4" ry="4.8" fill="#fff" stroke="#000" stroke-width="2"/>
<path d="M898.8,838.6L910.0,841.0A12.0,16 0 0 1 910.0,868.2L898.8,870.6Z" fill="#fff" stroke="#000" stroke-width="3" stroke-linejoin="round" stroke-linecap="round"/>
<ellipse cx="898.8" cy="854.6" rx="12.8" ry="16" fill="#fff" stroke="#000" stroke-width="3"/>
<ellipse cx="898.8" cy="854.6" rx="7.2" ry="8.8" fill="#fff" stroke="#000" stroke-width="2.5"/>
<ellipse cx="898" cy="855.6" rx="4" ry="4.8" fill="#fff" stroke="#000" stroke-width="2"/>
<path d="M1094,908L1122,903Q1130,906 1129,915L1128,933L1102,938Q1094,936 1094,930Z" fill="#fff" stroke="#000" stroke-width="2.8" stroke-linejoin="round" stroke-linecap="round"/>
<path d="M1092,909L1102,915L1130,910" fill="none" stroke="#000" stroke-width="2" stroke-linejoin="round" stroke-linecap="butt"/>
<path d="M1102,915L1102,939" fill="none" stroke="#000" stroke-width="2" stroke-linejoin="round" stroke-linecap="butt"/>
<ellipse cx="1112" cy="925" rx="4" ry="3" fill="#fff" stroke="#000" stroke-width="2"/>
<ellipse cx="1140" cy="926" rx="14" ry="15.6" fill="#fff" stroke="#000" stroke-width="2.8"/>
<ellipse cx="1115" cy="952.6" rx="6.5" ry="7" fill="#111" stroke="#000" stroke-width="2"/>
<ellipse cx="1115" cy="953" rx="3" ry="3" fill="none" stroke="#888" stroke-width="1"/>
<ellipse cx="1133.7" cy="1001.4" rx="13" ry="15.6" fill="#fff" stroke="#000" stroke-width="2.8"/>
<ellipse cx="1126" cy="1001.4" rx="5" ry="12" fill="#fff" stroke="#000" stroke-width="2.5"/>
<ellipse cx="1126" cy="1001.4" rx="2" ry="5" fill="#fff" stroke="#000" stroke-width="1.5"/>
<path d="M1166.7,909.7Q1176,906 1185.9,909.7Q1190,920 1188.4,931.4L1183.5,968.8L1183.5,1008.3L1181.5,1028Q1172,1032 1163.8,1029Q1160,1015 1161.8,998.4Q1163,985 1165.7,978.7L1166.7,949.1L1165.7,919.6Z" fill="#fff" stroke="#000" stroke-width="3" stroke-linejoin="round" stroke-linecap="round"/>
<path d="M1169,912Q1172,935 1170.5,948L1168,975Q1166,990 1167,1000L1166,1026" fill="none" stroke="#000" stroke-width="2.5" stroke-linejoin="round" stroke-linecap="round"/>
<path d="M1169,951.6L1185,951.6" fill="none" stroke="#000" stroke-width="2" stroke-linejoin="round" stroke-linecap="butt"/>
<path d="M1169,967.9L1185,967.9" fill="none" stroke="#000" stroke-width="2" stroke-linejoin="round" stroke-linecap="butt"/>
<path d="M1169,980.2L1185,980.2" fill="none" stroke="#000" stroke-width="2" stroke-linejoin="round" stroke-linecap="butt"/>
<path d="M1169,1003.8L1185,1003.8" fill="none" stroke="#000" stroke-width="2" stroke-linejoin="round" stroke-linecap="butt"/>
<path d="M712.6,846.8L724.6,841.8L734.6,848.8L735.6,861.8Q727.6,866.8 735.6,872.8L734.6,884.8L722.6,890.8L710.6,884.8L708.6,858.8Z" fill="#fff" stroke="#000" stroke-width="3.2" stroke-linejoin="round" stroke-linecap="round"/>
<path d="M712.6,846.8L719.6,852.8L734.6,848.8" fill="none" stroke="#000" stroke-width="2" stroke-linejoin="round" stroke-linecap="round"/>
<path d="M719.6,852.8L718.6,888.8" fill="none" stroke="#000" stroke-width="1.8" stroke-linejoin="round" stroke-linecap="round"/>
<path d="M709.6,860.8L716.6,854.8L716.6,884.8L710.6,882.8Z" fill="#222"/>
<ellipse cx="713.6" cy="862.8" rx="3.5" ry="3.5" fill="#fff" stroke="#000" stroke-width="2.2"/>
<ellipse cx="713.6" cy="874.8" rx="3.5" ry="3.5" fill="#fff" stroke="#000" stroke-width="2.2"/>
<ellipse cx="725.6" cy="858.8" rx="4" ry="3.5" fill="#fff" stroke="#000" stroke-width="2.2"/>
<path d="M775.6,885.4L787.6,880.4L797.6,887.4L798.6,900.4Q790.6,905.4 798.6,911.4L797.6,923.4L785.6,929.4L773.6,923.4L771.6,897.4Z" fill="#fff" stroke="#000" stroke-width="3.2" stroke-linejoin="round" stroke-linecap="round"/>
<path d="M775.6,885.4L782.6,891.4L797.6,887.4" fill="none" stroke="#000" stroke-width="2" stroke-linejoin="round" stroke-linecap="round"/>
<path d="M782.6,891.4L781.6,927.4" fill="none" stroke="#000" stroke-width="1.8" stroke-linejoin="round" stroke-linecap="round"/>
<path d="M772.6,899.4L779.6,893.4L779.6,923.4L773.6,921.4Z" fill="#222"/>
<ellipse cx="776.6" cy="901.4" rx="3.5" ry="3.5" fill="#fff" stroke="#000" stroke-width="2.2"/>
<ellipse cx="776.6" cy="913.4" rx="3.5" ry="3.5" fill="#fff" stroke="#000" stroke-width="2.2"/>
<ellipse cx="788.6" cy="897.4" rx="4" ry="3.5" fill="#fff" stroke="#000" stroke-width="2.2"/>
<line x1="657.5" y1="895.2" x2="684.1" y2="879.3" stroke="#000" stroke-width="9" stroke-linecap="round"/>
<line x1="663.7" y1="891.5" x2="683.4" y2="879.8" stroke="#3a3a3a" stroke-width="2.7" stroke-dasharray="1.2 2.2"/>
<ellipse cx="657.5" cy="895.2" rx="3.6" ry="7.6" fill="#fff" stroke="#000" stroke-width="3" transform="rotate(-30.825428023644267 657.5 895.2)"/>
<ellipse cx="656.8" cy="895.6" rx="1.6" ry="3.2" fill="#fff" stroke="#000" stroke-width="1.8" transform="rotate(-30.825428023644267 656.8 895.6)"/>
<line x1="657.5" y1="919.6" x2="684.1" y2="903.6" stroke="#000" stroke-width="9" stroke-linecap="round"/>
<line x1="663.7" y1="915.9" x2="683.4" y2="904.1" stroke="#3a3a3a" stroke-width="2.7" stroke-dasharray="1.2 2.2"/>
<ellipse cx="657.5" cy="919.6" rx="3.6" ry="7.6" fill="#fff" stroke="#000" stroke-width="3" transform="rotate(-30.963756532073617 657.5 919.6)"/>
<ellipse cx="656.8" cy="920" rx="1.6" ry="3.2" fill="#fff" stroke="#000" stroke-width="1.8" transform="rotate(-30.963756532073617 656.8 920)"/>
<line x1="720.5" y1="929.8" x2="747" y2="915.6" stroke="#000" stroke-width="9" stroke-linecap="round"/>
<line x1="726.9" y1="926.4" x2="746.2" y2="916" stroke="#3a3a3a" stroke-width="2.7" stroke-dasharray="1.2 2.2"/>
<ellipse cx="720.5" cy="929.8" rx="3.6" ry="7.6" fill="#fff" stroke="#000" stroke-width="3" transform="rotate(-28.121216112327303 720.5 929.8)"/>
<ellipse cx="719.8" cy="930.2" rx="1.6" ry="3.2" fill="#fff" stroke="#000" stroke-width="1.8" transform="rotate(-28.121216112327303 719.8 930.2)"/>
<line x1="720.5" y1="954.2" x2="747.1" y2="938.2" stroke="#000" stroke-width="9" stroke-linecap="round"/>
<line x1="726.7" y1="950.5" x2="746.4" y2="938.7" stroke="#3a3a3a" stroke-width="2.7" stroke-dasharray="1.2 2.2"/>
<ellipse cx="720.5" cy="954.2" rx="3.6" ry="7.6" fill="#fff" stroke="#000" stroke-width="3" transform="rotate(-30.963756532073617 720.5 954.2)"/>
<ellipse cx="719.8" cy="954.6" rx="1.6" ry="3.2" fill="#fff" stroke="#000" stroke-width="1.8" transform="rotate(-30.963756532073617 719.8 954.6)"/>
<rect x="618.5" y="921.7" width="13" height="8" rx="2.5" fill="#111" transform="rotate(-30 625 925.7)"/>
<rect x="681.5" y="958.3" width="13" height="8" rx="2.5" fill="#111" transform="rotate(-30 688 962.3)"/>
<path d="M1210.5,322.5L1228.8,310.3L1241.0,318.5L1312.1,395.7L1320.2,399.8L1405.6,412.0L1417.8,418.0L1426.0,436.3L1423.9,452.6L1413.7,458.7L1385.3,470.9L1375.1,479.0L1369.0,509.5L1375.1,533.9L1393.4,554.2L1393.4,584.7L1385.3,603.0L1373.1,607.1L1356.8,603.0L1346.7,596.9L1336.5,580.7L1326.3,558.3L1328.4,533.9L1320.2,529.8L1275.5,507.5L1271.5,519.7L1257.2,548.1L1245.0,548.1L1230.8,533.9L1230.8,523.7L1214.6,509.5L1206.4,485.1L1210.5,460.7L1226.7,448.5L1234.9,436.3L1234.9,395.7L1206.4,338.8Z" fill="#fff" stroke="#000" stroke-width="3.2" stroke-linejoin="round" stroke-linecap="round"/>
<path d="M1214,326L1230,316L1243,325L1314,401L1405,416L1420,430" fill="none" stroke="#000" stroke-width="1.6" stroke-linejoin="round" stroke-linecap="butt"/>
<path d="M1372,482L1366,510L1372,536L1389,556L1389,585" fill="none" stroke="#000" stroke-width="1.6" stroke-linejoin="round" stroke-linecap="butt"/>
<path d="M1265.4,397.7L1275.5,395.7L1310.1,420.1L1340.6,432.3L1348.7,446.5L1320.2,515.6L1310.1,517.6L1279.6,495.3L1263.3,407.9Z" fill="#fff" stroke="#000" stroke-width="2.8" stroke-linejoin="round" stroke-linecap="round"/>
<path d="M1270,404L1286,492L1314,511L1342,447" fill="none" stroke="#000" stroke-width="1.6" stroke-linejoin="round" stroke-linecap="butt"/>
<path d="M1242.0,395.7L1251.1,394.7L1263.3,458.7L1259.3,468.9L1241.0,448.5Z" fill="#fff" stroke="#000" stroke-width="2.8" stroke-linejoin="round" stroke-linecap="round"/>
<path d="M1246,400L1246,447L1258,462" fill="none" stroke="#000" stroke-width="1.5" stroke-linejoin="round" stroke-linecap="butt"/>
<path d="M1354.8,458.7L1362.9,460.7L1358.9,515.6L1346.7,513.6L1336.5,505.4Z" fill="#fff" stroke="#000" stroke-width="2.8" stroke-linejoin="round" stroke-linecap="round"/>
<path d="M1357,465L1341,505" fill="none" stroke="#000" stroke-width="1.5" stroke-linejoin="round" stroke-linecap="butt"/>
<g transform="rotate(-28 1238.5 354)">
<rect x="1227.5" y="326.0" width="22.0" height="56.0" rx="11.0" fill="#fff" stroke="#000" stroke-width="2"/>
<rect x="1230.5" y="329.0" width="16.0" height="50.0" rx="8.0" fill="#fff" stroke="#000" stroke-width="2.5"/>
<ellipse cx="1238.5" cy="336.2" rx="4.5" ry="4.8" fill="#fff" stroke="#000" stroke-width="2.2"/>
<ellipse cx="1238.5" cy="348.1" rx="4.5" ry="4.8" fill="#fff" stroke="#000" stroke-width="2.2"/>
<ellipse cx="1238.5" cy="359.9" rx="4.5" ry="4.8" fill="#fff" stroke="#000" stroke-width="2.2"/>
<ellipse cx="1238.5" cy="371.8" rx="4.5" ry="4.8" fill="#fff" stroke="#000" stroke-width="2.2"/>
</g>
<g transform="rotate(8 1220.7 483.1)">
<rect x="1210.7" y="455.1" width="20.0" height="56.0" rx="10.0" fill="#fff" stroke="#000" stroke-width="2"/>
<rect x="1213.7" y="458.1" width="14.0" height="50.0" rx="7.0" fill="#fff" stroke="#000" stroke-width="2.5"/>
<ellipse cx="1220.7" cy="464.4" rx="3.9" ry="4.2" fill="#fff" stroke="#000" stroke-width="2.2"/>
<ellipse cx="1220.7" cy="476.9" rx="3.9" ry="4.2" fill="#fff" stroke="#000" stroke-width="2.2"/>
<ellipse cx="1220.7" cy="489.3" rx="3.9" ry="4.2" fill="#fff" stroke="#000" stroke-width="2.2"/>
<ellipse cx="1220.7" cy="501.8" rx="3.9" ry="4.2" fill="#fff" stroke="#000" stroke-width="2.2"/>
</g>
<g transform="rotate(-95 1389.3 442.4)">
<rect x="1378.8" y="418.4" width="21.0" height="48.0" rx="10.5" fill="#fff" stroke="#000" stroke-width="2"/>
<rect x="1381.8" y="421.4" width="15.0" height="42.0" rx="7.5" fill="#fff" stroke="#000" stroke-width="2.5"/>
<ellipse cx="1389.3" cy="428.1" rx="4.2" ry="4.5" fill="#fff" stroke="#000" stroke-width="2.2"/>
<ellipse cx="1389.3" cy="437.6" rx="4.2" ry="4.5" fill="#fff" stroke="#000" stroke-width="2.2"/>
<ellipse cx="1389.3" cy="447.1" rx="4.2" ry="4.5" fill="#fff" stroke="#000" stroke-width="2.2"/>
<ellipse cx="1389.3" cy="456.6" rx="4.2" ry="4.5" fill="#fff" stroke="#000" stroke-width="2.2"/>
</g>
<g transform="rotate(5 1369 572.5)">
<rect x="1359.0" y="544.5" width="20.0" height="56.0" rx="10.0" fill="#fff" stroke="#000" stroke-width="2"/>
<rect x="1362.0" y="547.5" width="14.0" height="50.0" rx="7.0" fill="#fff" stroke="#000" stroke-width="2.5"/>
<ellipse cx="1369.0" cy="553.8" rx="3.9" ry="4.2" fill="#fff" stroke="#000" stroke-width="2.2"/>
<ellipse cx="1369.0" cy="566.3" rx="3.9" ry="4.2" fill="#fff" stroke="#000" stroke-width="2.2"/>
<ellipse cx="1369.0" cy="578.7" rx="3.9" ry="4.2" fill="#fff" stroke="#000" stroke-width="2.2"/>
<ellipse cx="1369.0" cy="591.2" rx="3.9" ry="4.2" fill="#fff" stroke="#000" stroke-width="2.2"/>
</g>
<ellipse cx="1258" cy="530" rx="8" ry="10" fill="#fff" stroke="#000" stroke-width="2.5"/>
<ellipse cx="1255" cy="531" rx="3" ry="5" fill="#fff" stroke="#000" stroke-width="2"/>
<ellipse cx="1250" cy="543" rx="6" ry="5" fill="#fff" stroke="#000" stroke-width="2"/>
<ellipse cx="1341" cy="551" rx="7" ry="9" fill="#fff" stroke="#000" stroke-width="2.5"/>
<ellipse cx="1345" cy="572" rx="6" ry="8" fill="#fff" stroke="#000" stroke-width="2.5"/>
<ellipse cx="1353" cy="596" rx="6" ry="5" fill="#fff" stroke="#000" stroke-width="2"/>
<path d="M1294,305.5L1307.9,308.05L1312.15,315.7L1312.15,329.3L1307.9,336.95L1294,339.5Z" fill="#fff" stroke="#000" stroke-width="3" stroke-linejoin="round" stroke-linecap="round"/>
<path d="M1303.7,307.2L1303.7,337.8" fill="none" stroke="#000" stroke-width="1.8" stroke-linejoin="round" stroke-linecap="butt"/>
<ellipse cx="1293.5" cy="323.4" rx="12.2" ry="17" fill="#fff" stroke="#000" stroke-width="3"/>
<ellipse cx="1292.6" cy="324.2" rx="3.4" ry="5.1" fill="#fff" stroke="#000" stroke-width="2.2"/>
<path d="M1424,525L1436.5,527.25L1440.25,534.0L1440.25,546.0L1436.5,552.75L1424,555Z" fill="#fff" stroke="#000" stroke-width="3" stroke-linejoin="round" stroke-linecap="round"/>
<path d="M1432.8,526.5L1432.8,553.5" fill="none" stroke="#000" stroke-width="1.8" stroke-linejoin="round" stroke-linecap="butt"/>
<ellipse cx="1423.8" cy="540.8" rx="10.8" ry="15" fill="#fff" stroke="#000" stroke-width="3"/>
<ellipse cx="1423" cy="541.5" rx="3" ry="4.5" fill="#fff" stroke="#000" stroke-width="2.2"/>
<path d="M1098.0,568.1L1112.7,558.5L1121.6,563.6L1127.5,578.4L1124.6,585.8L1174.8,614.6L1183.7,608.0L1197.0,606.5L1205.8,615.4L1208.8,643.4L1210.3,662.6L1216.2,678.9L1211.7,693.7L1186.6,702.5L1174.8,714.4L1168.9,736.5L1130.5,760.2L1118.7,761.6L1055.1,724.7L1049.2,712.9L1052.2,707.0L1059.6,699.6L1046.3,693.7L1044.8,677.4L1046.3,658.2L1078.8,637.5L1078.8,609.4L1092.1,602.1L1096.5,578.4Z" fill="#fff" stroke="#000" stroke-width="3.2" stroke-linejoin="round" stroke-linecap="round"/>
<ellipse cx="1105.4" cy="574.7" rx="7.5" ry="8.5" fill="#fff" stroke="#000" stroke-width="2.8"/>
<ellipse cx="1105.4" cy="574.7" rx="3.8" ry="4.3" fill="#fff" stroke="#000" stroke-width="2"/>
<ellipse cx="1187.4" cy="624.2" rx="7.5" ry="8.5" fill="#fff" stroke="#000" stroke-width="2.8"/>
<ellipse cx="1187.4" cy="624.2" rx="3.8" ry="4.3" fill="#fff" stroke="#000" stroke-width="2"/>
<path d="M1113,560L1124,575" fill="none" stroke="#000" stroke-width="1.6" stroke-linejoin="round" stroke-linecap="butt"/>
<path d="M1118.7,590L1176,622" fill="none" stroke="#000" stroke-width="1.8" stroke-linejoin="round" stroke-linecap="butt"/>
<path d="M1197,607L1200,640L1204,665" fill="none" stroke="#000" stroke-width="1.6" stroke-linejoin="round" stroke-linecap="butt"/>
<path d="M1101,606.5Q1103,602 1108,604L1133,618Q1137,622 1136,628L1134,636Q1120,640 1110,632L1099,616Z" fill="#fff" stroke="#000" stroke-width="2.4" stroke-linejoin="round" stroke-linecap="round"/>
<path d="M1133,636Q1112,660 1103,688Q1097,705 1093,717" fill="none" stroke="#000" stroke-width="2.6" stroke-linejoin="round" stroke-linecap="round"/>
<path d="M1130,632Q1108,656 1098,686Q1092,703 1088,716" fill="none" stroke="#000" stroke-width="1.6" stroke-linejoin="round" stroke-linecap="round"/>
<path d="M1120,624Q1098,650 1088,680Q1080,705 1078,712" fill="none" stroke="#000" stroke-width="2.2" stroke-linejoin="round" stroke-linecap="round"/>
<path d="M1046.3,656.7L1083.2,637.5" fill="none" stroke="#000" stroke-width="2.6" stroke-linejoin="round" stroke-linecap="butt"/>
<path d="M1059.6,673L1089.1,652.3" fill="none" stroke="#000" stroke-width="2.6" stroke-linejoin="round" stroke-linecap="butt"/>
<path d="M1083.2,637.5L1089.1,652.3" fill="none" stroke="#000" stroke-width="2" stroke-linejoin="round" stroke-linecap="butt"/>
<ellipse cx="1052.5" cy="665.6" rx="8" ry="10" fill="#fff" stroke="#000" stroke-width="2.8"/>
<ellipse cx="1052.5" cy="665.6" rx="3.5" ry="4.5" fill="#fff" stroke="#000" stroke-width="2.2"/>
<path d="M1045,680L1066,676L1065,688L1046,694Z" fill="#fff" stroke="#000" stroke-width="2.4" stroke-linejoin="round" stroke-linecap="round"/>
<ellipse cx="1052.5" cy="690.7" rx="7" ry="9" fill="#fff" stroke="#000" stroke-width="2.8"/>
<ellipse cx="1052.5" cy="690.7" rx="3" ry="4" fill="#fff" stroke="#000" stroke-width="2.2"/>
<path d="M1109.8,695.1L1163,661.2" fill="none" stroke="#000" stroke-width="2.6" stroke-linejoin="round" stroke-linecap="butt"/>
<path d="M1121.6,709.9L1174.8,678.9" fill="none" stroke="#000" stroke-width="2.6" stroke-linejoin="round" stroke-linecap="butt"/>
<path d="M1163,661.2L1174.8,678.9" fill="none" stroke="#000" stroke-width="2" stroke-linejoin="round" stroke-linecap="butt"/>
<ellipse cx="1115.7" cy="702.5" rx="8.5" ry="10.5" fill="#fff" stroke="#000" stroke-width="2.8"/>
<ellipse cx="1115.7" cy="702.5" rx="3.5" ry="4.5" fill="#fff" stroke="#000" stroke-width="2.2"/>
<path d="M1112,715L1128,708L1131,720L1116,727Z" fill="#fff" stroke="#000" stroke-width="2.2" stroke-linejoin="round" stroke-linecap="round"/>
<path d="M1182,692Q1170,712 1172,717Q1170,728 1184,735" fill="none" stroke="#000" stroke-width="3" stroke-linejoin="round" stroke-linecap="round"/>
<path d="M1189,690Q1176,712 1178,720Q1178,730 1188,737" fill="none" stroke="#000" stroke-width="1.6" stroke-linejoin="round" stroke-linecap="round"/>
<ellipse cx="1189.6" cy="681.8" rx="4.5" ry="5.5" fill="#fff" stroke="#000" stroke-width="2.4"/>
<path d="M1190,690L1206,684L1210,694" fill="none" stroke="#000" stroke-width="1.6" stroke-linejoin="round" stroke-linecap="butt"/>
<path d="M1052.2,712.9L1118.7,749.8L1130.5,749.8L1168.9,726.2" fill="none" stroke="#000" stroke-width="2" stroke-linejoin="round" stroke-linecap="butt"/>
<path d="M1055,719L1119,755L1131,755" fill="none" stroke="#000" stroke-width="1.5" stroke-linejoin="round" stroke-linecap="butt"/>
<ellipse cx="1081" cy="719.5" rx="6.5" ry="4" fill="#fff" stroke="#000" stroke-width="2.2"/>
<ellipse cx="1105.4" cy="732.1" rx="6.5" ry="4" fill="#fff" stroke="#000" stroke-width="2.2"/>
<path d="M1124,738L1146,724L1149,733L1128,746Z" fill="#222" stroke="#000" stroke-width="2.2" stroke-linejoin="round" stroke-linecap="round"/>
<path d="M1130,742L1134,730" fill="none" stroke="#fff" stroke-width="1.2" stroke-linejoin="round" stroke-linecap="butt"/>
<path d="M1137,738L1141,727" fill="none" stroke="#fff" stroke-width="1.2" stroke-linejoin="round" stroke-linecap="butt"/>
<text x="1124" y="611" font-family="Liberation Sans" font-weight="bold" font-style="italic" font-size="15" transform="rotate(33 1124 611)" fill="#fff" stroke="#000" stroke-width="1.6">TLR</text>
<line x1="1106" y1="399" x2="1121.4" y2="393.1" stroke="#000" stroke-width="12" stroke-linecap="round"/>
<line x1="1105" y1="399.5" x2="1125" y2="391" stroke="#000" stroke-width="12" stroke-linecap="round"/>
<path d="M1128.5,397L1147.5,389A2.9,6.5 -22.8 0 0 1142.5,377L1123.5,385Z" fill="#fff" stroke="#000" stroke-width="2.5" stroke-linejoin="round" stroke-linecap="round"/>
<ellipse cx="1126" cy="391" rx="2.9" ry="6.5" fill="#fff" stroke="#000" stroke-width="2.5" transform="rotate(-22.833654177917545 1126 391)"/>
<ellipse cx="1148" cy="381" rx="6.5" ry="10" fill="#fff" stroke="#000" stroke-width="3" transform="rotate(-22 1148 381)"/>
<path d="M1152.3,385.5L1164.3,380.5A2.7,6 -22.6 0 0 1159.7,369.5L1147.7,374.5Z" fill="#fff" stroke="#000" stroke-width="2.5" stroke-linejoin="round" stroke-linecap="round"/>
<ellipse cx="1150" cy="380" rx="2.7" ry="6" fill="#fff" stroke="#000" stroke-width="2.5" transform="rotate(-22.619864948040426 1150 380)"/>
<path d="M1155,366L1165,360L1175,362L1178,375L1173,387L1163,390L1158,383Z" fill="#fff" stroke="#000" stroke-width="2.8" stroke-linejoin="round" stroke-linecap="round"/>
<ellipse cx="1160" cy="377" rx="5" ry="9" fill="#fff" stroke="#000" stroke-width="2" transform="rotate(-22 1160 377)"/>
<line x1="1178" y1="370" x2="1196" y2="362" stroke="#000" stroke-width="13" stroke-linecap="round"/>
<ellipse cx="1105.5" cy="399.5" rx="2" ry="3" fill="#fff"/>
<ellipse cx="1083.5" cy="408" rx="13" ry="16" fill="#fff" stroke="#000" stroke-width="3.2"/>
<path d="M1074.5,398L1083.5,394L1090.5,399L1090.5,413L1082.5,418L1074.5,414Z" fill="#fff" stroke="#000" stroke-width="2.5" stroke-linejoin="round" stroke-linecap="round"/>
<ellipse cx="1073.5" cy="411" rx="8" ry="10" fill="#fff" stroke="#000" stroke-width="3"/>
<ellipse cx="1072.5" cy="412" rx="3.5" ry="5" fill="#fff" stroke="#000" stroke-width="2.2"/>
<line x1="1081" y1="491" x2="1081" y2="532" stroke="#000" stroke-width="10.5" stroke-linecap="round"/>
<ellipse cx="1081" cy="491" rx="11" ry="7" fill="#fff" stroke="#000" stroke-width="2.8"/>
<ellipse cx="1081" cy="489.5" rx="3.5" ry="1.8" fill="#fff" stroke="#000" stroke-width="1.5"/>
<line x1="1106.4" y1="504.7" x2="1106.4" y2="546" stroke="#000" stroke-width="10.5" stroke-linecap="round"/>
<ellipse cx="1106.4" cy="504.7" rx="11" ry="7" fill="#fff" stroke="#000" stroke-width="2.8"/>
<ellipse cx="1106.4" cy="503.2" rx="3.5" ry="1.8" fill="#fff" stroke="#000" stroke-width="1.5"/>
<line x1="1181.9" y1="551.8" x2="1205.2" y2="541.8" stroke="#000" stroke-width="11" stroke-linecap="round"/>
<line x1="1190" y1="548.3" x2="1204.2" y2="542.2" stroke="#3a3a3a" stroke-width="3.3" stroke-dasharray="1.2 2.2"/>
<ellipse cx="1181.9" cy="551.8" rx="3.6" ry="9.9" fill="#fff" stroke="#000" stroke-width="3" transform="rotate(-23.24727000874313 1181.9 551.8)"/>
<ellipse cx="1181.9" cy="551.8" rx="1.3" ry="3.6" fill="#fff" stroke="#000" stroke-width="1.8" transform="rotate(-23.24727000874313 1181.9 551.8)"/>
<line x1="1265" y1="599" x2="1290" y2="590" stroke="#000" stroke-width="15"/>
<line x1="1263" y1="601" x2="1321.1" y2="582.4" stroke="#000" stroke-width="11" stroke-linecap="round"/>
<line x1="1271.4" y1="598.3" x2="1320" y2="582.7" stroke="#3a3a3a" stroke-width="3.3" stroke-dasharray="1.2 2.2"/>
<ellipse cx="1263" cy="601" rx="7.5" ry="11" fill="#fff" stroke="#000" stroke-width="3" transform="rotate(-17.780791373532647 1263 601)"/>
<ellipse cx="1261.4" cy="601.5" rx="2.8" ry="4.2" fill="#fff" stroke="#000" stroke-width="1.8" transform="rotate(-17.780791373532647 1261.4 601.5)"/>
<line x1="900.6" y1="694" x2="949.1" y2="666.6" stroke="#000" stroke-width="12" stroke-linecap="round"/>
<ellipse cx="900.6" cy="694" rx="7.1" ry="10.5" fill="#fff" stroke="#000" stroke-width="3" transform="rotate(-29.514547745747315 900.6 694)"/>
<ellipse cx="899.2" cy="694.8" rx="2.6" ry="4" fill="#fff" stroke="#000" stroke-width="1.8" transform="rotate(-29.514547745747315 899.2 694.8)"/>
<line x1="887.2" y1="740.8" x2="927.8" y2="719.2" stroke="#000" stroke-width="12" stroke-linecap="round"/>
<ellipse cx="887.2" cy="740.8" rx="7.1" ry="10.5" fill="#fff" stroke="#000" stroke-width="3" transform="rotate(-27.99468350351712 887.2 740.8)"/>
<ellipse cx="885.8" cy="741.5" rx="2.6" ry="4" fill="#fff" stroke="#000" stroke-width="1.8" transform="rotate(-27.99468350351712 885.8 741.5)"/>
<line x1="983.5" y1="740.8" x2="1030.3" y2="715.2" stroke="#000" stroke-width="12" stroke-linecap="round"/>
<ellipse cx="983.5" cy="740.8" rx="7.1" ry="10.5" fill="#fff" stroke="#000" stroke-width="3" transform="rotate(-28.679759728343903 983.5 740.8)"/>
<ellipse cx="982.1" cy="741.6" rx="2.6" ry="4" fill="#fff" stroke="#000" stroke-width="1.8" transform="rotate(-28.679759728343903 982.1 741.6)"/>
<line x1="986.8" y1="799.7" x2="1028.3" y2="776.3" stroke="#000" stroke-width="12" stroke-linecap="round"/>
<ellipse cx="986.8" cy="799.7" rx="7.1" ry="10.5" fill="#fff" stroke="#000" stroke-width="3" transform="rotate(-29.47993160392442 986.8 799.7)"/>
<ellipse cx="985.4" cy="800.5" rx="2.6" ry="4" fill="#fff" stroke="#000" stroke-width="1.8" transform="rotate(-29.47993160392442 985.4 800.5)"/>
<path d="M1549.6,839.1L1556.9,831.7L1579.1,819.7L1591.1,825.3L1597.6,839.1L1606.8,855.7L1623.4,866.8L1634.5,872.4L1664.1,867.7L1676.1,876.0L1678.8,884.4L1689.9,890.8L1704.7,901.9L1710.2,920.4L1706.5,940.7L1697.3,957.3L1695.5,975.8L1719.5,986.9L1721.3,1003.5L1715.8,1016.4L1632.7,1064.4L1617.9,1057.1L1619.7,1016.4L1586.5,988.7L1551.4,1020.1L1534.8,1010.9L1530.2,985.0L1544.0,972.1L1557.0,964.7L1571.7,951.8L1579.1,938.8L1575.4,925.9L1564.3,917.6L1536.6,901.9L1534.8,889.0L1549.6,877.9Z" fill="#fff" stroke="#000" stroke-width="3.2" stroke-linejoin="round" stroke-linecap="round"/>
<ellipse cx="1560.6" cy="846.5" rx="4.6" ry="5.3" fill="#fff" stroke="#000" stroke-width="2.5"/>
<ellipse cx="1558.8" cy="881.6" rx="4.6" ry="5.3" fill="#fff" stroke="#000" stroke-width="2.5"/>
<ellipse cx="1545.9" cy="895.4" rx="4.2" ry="4.8" fill="#fff" stroke="#000" stroke-width="2.5"/>
<ellipse cx="1641" cy="892.7" rx="4.2" ry="4.8" fill="#fff" stroke="#000" stroke-width="2.5"/>
<ellipse cx="1638.2" cy="927.8" rx="4.2" ry="4.8" fill="#fff" stroke="#000" stroke-width="2.5"/>
<ellipse cx="1647.4" cy="953.6" rx="4.2" ry="4.8" fill="#fff" stroke="#000" stroke-width="2.5"/>
<ellipse cx="1541.2" cy="992.4" rx="4.2" ry="4.8" fill="#fff" stroke="#000" stroke-width="2.5"/>
<ellipse cx="1629" cy="1044.1" rx="4.2" ry="4.8" fill="#fff" stroke="#000" stroke-width="2.5"/>
<ellipse cx="1678.8" cy="907.4" rx="7" ry="5" fill="#fff" stroke="#000" stroke-width="2.5"/>
<ellipse cx="1678.8" cy="907.4" rx="3" ry="2" fill="#fff" stroke="#000" stroke-width="1.5"/>
<path d="M1569.9,835.4L1588,868L1600,878L1630,895" fill="none" stroke="#000" stroke-width="2" stroke-linejoin="round" stroke-linecap="butt"/>
<path d="M1592,826L1605,858" fill="none" stroke="#000" stroke-width="1.6" stroke-linejoin="round" stroke-linecap="butt"/>
<path d="M1555,840L1560,918" fill="none" stroke="#000" stroke-width="1.5" stroke-linejoin="round" stroke-linecap="butt"/>
<path d="M1566,921Q1586,935 1581,953Q1576,964 1562,968" fill="none" stroke="#000" stroke-width="2" stroke-linejoin="round" stroke-linecap="round"/>
<path d="M1560,924Q1578,936 1574,952" fill="none" stroke="#000" stroke-width="1.4" stroke-linejoin="round" stroke-linecap="round"/>
<path d="M1606,858L1628,870L1630,900L1608,902L1606,858" fill="none" stroke="#000" stroke-width="2" stroke-linejoin="round" stroke-linecap="butt"/>
<path d="M1612,880L1626,884" fill="none" stroke="#000" stroke-width="1.6" stroke-linejoin="round" stroke-linecap="butt"/>
<path d="M1610,900L1613,1000" fill="none" stroke="#000" stroke-width="1.8" stroke-linejoin="round" stroke-linecap="butt"/>
<path d="M1632,900L1630,1005" fill="none" stroke="#000" stroke-width="1.8" stroke-linejoin="round" stroke-linecap="butt"/>
<path d="M1683,895Q1702,920 1690,955" fill="none" stroke="#000" stroke-width="2" stroke-linejoin="round" stroke-linecap="round"/>
<path d="M1676,880Q1690,885 1680,897" fill="none" stroke="#000" stroke-width="1.8" stroke-linejoin="round" stroke-linecap="round"/>
<path d="M1660,895L1664,960L1672,978" fill="none" stroke="#000" stroke-width="1.8" stroke-linejoin="round" stroke-linecap="butt"/>
<path d="M1620,1018L1716,988" fill="none" stroke="#000" stroke-width="2" stroke-linejoin="round" stroke-linecap="butt"/>
<path d="M1625,1030L1712,1002" fill="none" stroke="#000" stroke-width="1.6" stroke-linejoin="round" stroke-linecap="butt"/>
<path d="M1630,1050L1714,1014" fill="none" stroke="#000" stroke-width="1.8" stroke-linejoin="round" stroke-linecap="butt"/>
<path d="M1620,1015Q1638,975 1660,960" fill="none" stroke="#000" stroke-width="2" stroke-linejoin="round" stroke-linecap="round"/>
<path d="M1598,960Q1600,945 1610,948Q1618,955 1614,975Z" fill="#fff" stroke="#000" stroke-width="2" stroke-linejoin="round" stroke-linecap="round"/>
<path d="M1586,988L1600,960" fill="none" stroke="#000" stroke-width="1.6" stroke-linejoin="round" stroke-linecap="butt"/>
<path d="M1701.0,841.0L1717.6,833.6L1738.0,846.5L1752.7,848.3L1769.3,863.1L1822.9,900.1L1837.7,898.2L1852.5,909.3L1882.0,930.0L1888.0,948.0L1885.0,975.0L1876.5,973.9L1865.4,972.1L1839.5,957.3L1734.3,896.4L1730.6,890.8L1715.8,887.1L1704.7,883.4L1699.2,863.1Z" fill="#fff" stroke="#000" stroke-width="3.2" stroke-linejoin="round" stroke-linecap="round"/>
<path d="M1704,848L1716,842L1730,850L1730,878L1718,884L1706,878Z" fill="#fff" stroke="#000" stroke-width="3" stroke-linejoin="round" stroke-linecap="round"/>
<path d="M1710,852L1726,858" fill="none" stroke="#000" stroke-width="1.6" stroke-linejoin="round" stroke-linecap="butt"/>
<path d="M1710,870L1726,870" fill="none" stroke="#000" stroke-width="1.6" stroke-linejoin="round" stroke-linecap="butt"/>
<path d="M1846,918L1858,912L1875,922L1876,955L1864,962L1848,952Z" fill="#fff" stroke="#000" stroke-width="3" stroke-linejoin="round" stroke-linecap="round"/>
<path d="M1852,925L1870,932" fill="none" stroke="#000" stroke-width="1.6" stroke-linejoin="round" stroke-linecap="butt"/>
<ellipse cx="1745" cy="876" rx="6" ry="8" fill="#fff" stroke="#000" stroke-width="2.5"/>
<ellipse cx="1834" cy="927" rx="6" ry="8" fill="#fff" stroke="#000" stroke-width="2.5"/>
<path d="M1769,863L1765,875L1820,906L1823,900" fill="none" stroke="#000" stroke-width="1.8" stroke-linejoin="round" stroke-linecap="butt"/>
<path d="M1738,846.5L1735,858" fill="none" stroke="#000" stroke-width="1.6" stroke-linejoin="round" stroke-linecap="butt"/>
<line x1="1848.0" y1="815.0" x2="1812.4" y2="836.2" stroke="#000" stroke-width="15" stroke-linecap="round"/>
<ellipse cx="1806" cy="840" rx="3" ry="6.3" fill="#fff" stroke="#000" stroke-width="1.5" transform="rotate(149.2372804657611 1806 840)"/>
<ellipse cx="1848" cy="815" rx="6.8" ry="15" fill="#fff" stroke="#000" stroke-width="2.5" transform="rotate(149.2372804657611 1848 815)"/>
<line x1="1846.3" y1="816.0" x2="1840.3" y2="819.6" stroke="#000" stroke-width="15"/>
<line x1="1936.0" y1="867.0" x2="1900.4" y2="888.2" stroke="#000" stroke-width="15" stroke-linecap="round"/>
<ellipse cx="1894" cy="892" rx="3" ry="6.3" fill="#fff" stroke="#000" stroke-width="1.5" transform="rotate(149.2372804657611 1894 892)"/>
<ellipse cx="1936" cy="867" rx="6.8" ry="15" fill="#fff" stroke="#000" stroke-width="2.5" transform="rotate(149.2372804657611 1936 867)"/>
<line x1="1934.3" y1="868.0" x2="1928.3" y2="871.6" stroke="#000" stroke-width="15"/>
<path d="M1999.9,659.7L1999.9,671.7A7.5,3.5 0 0 0 2014.9,671.7L2014.9,659.7Z" fill="#111" stroke="#000" stroke-width="2" stroke-linejoin="round" stroke-linecap="round"/>
<ellipse cx="2007.4" cy="659.7" rx="7.5" ry="3.5" fill="#222" stroke="#000" stroke-width="2"/>
<ellipse cx="2007.4" cy="659.7" rx="2" ry="1.2" fill="#fff" stroke="#000" stroke-width="1"/>
<path d="M1894.4,800.3L1918.6,787.6A8.6,12 -27.7 0 0 1907.4,766.4L1883.2,779.1Z" fill="#fff" stroke="#000" stroke-width="3" stroke-linejoin="round" stroke-linecap="round"/>
<ellipse cx="1888.8" cy="789.7" rx="8.6" ry="12" fill="#fff" stroke="#000" stroke-width="3" transform="rotate(-27.690191884913876 1888.8 789.7)"/>
<ellipse cx="1888.8" cy="789.7" rx="5" ry="7.5" fill="#fff" stroke="#000" stroke-width="2.5" transform="rotate(-28 1888.8 789.7)"/>
<path d="M1958.1,774L1975.8,764.6A15,21.5 -28 0 0 1955.6,726.6L1937.9,736Z" fill="#fff" stroke="#000" stroke-width="3" stroke-linejoin="round" stroke-linecap="round"/>
<ellipse cx="1948" cy="755" rx="15" ry="21.5" fill="#fff" stroke="#000" stroke-width="3" transform="rotate(-27.99999999999982 1948 755)"/>
<ellipse cx="1948" cy="755" rx="8.2" ry="11.8" fill="#fff" stroke="#000" stroke-width="4" transform="rotate(-28 1948 755)"/>
<ellipse cx="1948" cy="755" rx="5.7" ry="8.2" fill="#fff" stroke="#000" stroke-width="2.5" transform="rotate(-28 1948 755)"/>
<path d="M2001.7,742.9L2045.7,724.9A10.5,15 -22.2 0 0 2034.3,697.1L1990.3,715.1Z" fill="#fff" stroke="#000" stroke-width="3" stroke-linejoin="round" stroke-linecap="round"/>
<ellipse cx="1996" cy="729" rx="10.5" ry="15" fill="#fff" stroke="#000" stroke-width="3" transform="rotate(-22.249023657212366 1996 729)"/>
<ellipse cx="1996" cy="729" rx="8" ry="11" fill="#fff" stroke="#000" stroke-width="3" transform="rotate(-25 1996 729)"/>
<path d="M2039.1,731.7L2073.1,718.7A10,20 -20.9 0 0 2058.9,681.3L2024.9,694.3Z" fill="#fff" stroke="#000" stroke-width="3" stroke-linejoin="round" stroke-linecap="round"/>
<ellipse cx="2032" cy="713" rx="10" ry="20" fill="#fff" stroke="#000" stroke-width="3" transform="rotate(-20.924501744921166 2032 713)"/>
<path d="M2040,692L2043,712" fill="none" stroke="#000" stroke-width="2" stroke-linejoin="round" stroke-linecap="butt"/>
<path d="M2044,690L2047,711" fill="none" stroke="#000" stroke-width="1.6" stroke-linejoin="round" stroke-linecap="butt"/>
<path d="M2048,688L2062,682L2066,694L2052,700Z" fill="#fff" stroke="#000" stroke-width="2" stroke-linejoin="round" stroke-linecap="round"/>
<path d="M2050,708L2068,702L2066,712L2052,716Z" fill="#fff" stroke="#000" stroke-width="2" stroke-linejoin="round" stroke-linecap="round"/>
<ellipse cx="2016" cy="714" rx="4" ry="3" fill="#000" stroke="#000" stroke-width="2"/>
<path d="M2118,691.6L2161,671.6A15.6,26 -24.9 0 0 2139,624.4L2096,644.4Z" fill="#fff" stroke="#000" stroke-width="3" stroke-linejoin="round" stroke-linecap="round"/>
<ellipse cx="2107" cy="668" rx="15.6" ry="26" fill="#fff" stroke="#000" stroke-width="3" transform="rotate(-24.94390526342458 2107 668)"/>
<ellipse cx="2107" cy="668" rx="13" ry="22" fill="#fff" stroke="#000" stroke-width="2.5" transform="rotate(-25 2107 668)"/>
<path d="M2096,658L2104,650L2118,652L2122,668L2116,682L2104,684Z" fill="#fff" stroke="#000" stroke-width="2" stroke-linejoin="round" stroke-linecap="round"/>
<path d="M2122,630L2140,622L2145,638L2128,645Z" fill="#fff" stroke="#000" stroke-width="2" stroke-linejoin="round" stroke-linecap="round"/>
<path d="M2125,682Q2120,690 2128,690L2160,676Q2165,668 2158,666Z" fill="#fff" stroke="#000" stroke-width="2" stroke-linejoin="round" stroke-linecap="round"/>
<path d="M2118,636L2133,628" fill="none" stroke="#000" stroke-width="1.5" stroke-linejoin="round" stroke-linecap="butt"/>
<path d="M2229.9,598.7L2404.6,467.3L2398.6,459.3L2223.9,590.7Z" fill="#fff" stroke="#000" stroke-width="2.6" stroke-linejoin="round" stroke-linecap="round"/>
<line x1="2339" y1="506" x2="2369" y2="483" stroke="#000" stroke-width="5"/>
<path d="M2193.8,601.5L2203.8,606.5A3,5 26.6 0 0 2208.2,597.5L2198.2,592.5Z" fill="#fff" stroke="#000" stroke-width="2.4" stroke-linejoin="round" stroke-linecap="round"/>
<ellipse cx="2196" cy="597" rx="3" ry="5" fill="#fff" stroke="#000" stroke-width="2.4" transform="rotate(26.56505117707799 2196 597)"/>
<ellipse cx="2212" cy="606" rx="14" ry="15.5" fill="#fff" stroke="#000" stroke-width="2.8"/>
<ellipse cx="2208" cy="610" rx="5" ry="6" fill="#fff" stroke="#000" stroke-width="2"/>
<path d="M2240.5,613.1L2228.5,607.1A3,5.5 -153.4 0 0 2223.5,616.9L2235.5,622.9Z" fill="#fff" stroke="#000" stroke-width="2.4" stroke-linejoin="round" stroke-linecap="round"/>
<ellipse cx="2238" cy="618" rx="3" ry="5.5" fill="#fff" stroke="#000" stroke-width="2.4" transform="rotate(-153.434948822922 2238 618)"/>
<ellipse cx="2238" cy="618" rx="2.2" ry="3.5" fill="#fff" stroke="#000" stroke-width="1.5"/>
<ellipse cx="2226" cy="596" rx="4" ry="7" fill="#fff" stroke="#000" stroke-width="2.2" transform="rotate(-35 2226 596)"/>
<path d="M2395,448.6L2404,452.6A3,5 24 0 0 2408,443.4L2399,439.4Z" fill="#fff" stroke="#000" stroke-width="2.4" stroke-linejoin="round" stroke-linecap="round"/>
<ellipse cx="2397" cy="444" rx="3" ry="5" fill="#fff" stroke="#000" stroke-width="2.4" transform="rotate(23.962488974578186 2397 444)"/>
<ellipse cx="2414" cy="452" rx="14" ry="15.5" fill="#fff" stroke="#000" stroke-width="2.8"/>
<ellipse cx="2404" cy="458" rx="7" ry="10" fill="#fff" stroke="#000" stroke-width="2" transform="rotate(-35 2404 458)"/>
<path d="M2439.6,457.2L2428.6,451.2A3,5.5 -151.4 0 0 2423.4,460.8L2434.4,466.8Z" fill="#fff" stroke="#000" stroke-width="2.4" stroke-linejoin="round" stroke-linecap="round"/>
<ellipse cx="2437" cy="462" rx="3" ry="5.5" fill="#fff" stroke="#000" stroke-width="2.4" transform="rotate(-151.3895403340348 2437 462)"/>
<ellipse cx="2437" cy="462" rx="2.2" ry="3.5" fill="#fff" stroke="#000" stroke-width="1.5"/>
<ellipse cx="2370.8" cy="867.1" rx="18.8" ry="15.8" fill="#fff" stroke="#000" stroke-width="3" transform="rotate(24.567171320601314 2370.8 867.1)"/>
<path d="M2365.2,879.4L2382.9,884.1L2391.5,865.1L2376.4,854.8Z" fill="#fff" stroke="none" stroke-width="0" stroke-linejoin="round" stroke-linecap="round"/>
<path d="M2364.6,880.8L2382.9,884.1" fill="none" stroke="#000" stroke-width="3" stroke-linejoin="round" stroke-linecap="butt"/>
<path d="M2377.1,853.5L2391.5,865.1" fill="none" stroke="#000" stroke-width="3" stroke-linejoin="round" stroke-linecap="butt"/>
<ellipse cx="2364" cy="864" rx="10.2" ry="15" fill="#fff" stroke="#000" stroke-width="4" transform="rotate(24.567171320601314 2364 864)"/>
<ellipse cx="2364.9" cy="864.4" rx="6.3" ry="10.5" fill="#fff" stroke="#000" stroke-width="3" transform="rotate(24.567171320601314 2364.9 864.4)"/>
<path d="M2439.4,884.2L2392.6,862.8A10.4,13 -155.4 0 0 2381.8,886.4L2428.6,907.8Z" fill="#fff" stroke="#000" stroke-width="3" stroke-linejoin="round" stroke-linecap="round"/>
<ellipse cx="2434" cy="896" rx="10.4" ry="13" fill="#fff" stroke="#000" stroke-width="3" transform="rotate(-155.43282867939882 2434 896)"/>
<ellipse cx="2434" cy="896" rx="8.1" ry="11" fill="#fff" stroke="#000" stroke-width="2" transform="rotate(24.567171320601314 2434 896)"/>
<ellipse cx="2434" cy="896" rx="4.5" ry="6.5" fill="#fff" stroke="#000" stroke-width="2.5" transform="rotate(24.567171320601314 2434 896)"/>
<rect x="2400.9" y="881.4" width="24" height="12" rx="2" fill="#fff" stroke="#000" stroke-width="2.5" transform="rotate(24.6 2412.9 886.4)"/>
<line x1="2452" y1="906" x2="2553" y2="962.5" stroke="#000" stroke-width="10.5" stroke-linecap="round"/>
<g transform="rotate(29.2 2502.5 934.2)"><path d="M2488.5,929.25L2492.5,924.25L2512.5,924.25L2516.5,929.25L2516.5,939.25L2512.5,944.25L2492.5,944.25L2488.5,939.25Z" fill="#fff" stroke="#000" stroke-width="2.5"/><line x1="2488.5" y1="934.25" x2="2516.5" y2="934.25" stroke="#000" stroke-width="1.5"/><rect x="2516.5" y="930.2" width="10" height="8" fill="#fff" stroke="#000" stroke-width="1.5"/><rect x="2478.5" y="930.2" width="10" height="8" fill="#fff" stroke="#000" stroke-width="1.5"/></g>
<ellipse cx="2553" cy="962.5" rx="2.2" ry="4" fill="#fff" stroke="#000" stroke-width="1.2" transform="rotate(29.222908464590517 2553 962.5)"/>
<ellipse cx="2642.3" cy="1014.5" rx="18.8" ry="15.8" fill="#fff" stroke="#000" stroke-width="3" transform="rotate(-152.5924245621816 2642.3 1014.5)"/>
<path d="M2648.6,1002.6L2631.1,997.0L2621.6,1015.5L2636.1,1026.5Z" fill="#fff" stroke="none" stroke-width="0" stroke-linejoin="round" stroke-linecap="round"/>
<path d="M2649.2,1001.2L2631.1,997" fill="none" stroke="#000" stroke-width="3" stroke-linejoin="round" stroke-linecap="butt"/>
<path d="M2635.4,1027.9L2621.6,1015.5" fill="none" stroke="#000" stroke-width="3" stroke-linejoin="round" stroke-linecap="butt"/>
<ellipse cx="2649" cy="1018" rx="10.2" ry="15" fill="#fff" stroke="#000" stroke-width="4" transform="rotate(-152.5924245621816 2649 1018)"/>
<ellipse cx="2648.1" cy="1017.5" rx="6.3" ry="10.5" fill="#fff" stroke="#000" stroke-width="3" transform="rotate(-152.5924245621816 2648.1 1017.5)"/>
<path d="M2562,987.5L2620.4,1017.8A10.4,13 27.4 0 0 2632.3,994.7L2574,964.5Z" fill="#fff" stroke="#000" stroke-width="3" stroke-linejoin="round" stroke-linecap="round"/>
<ellipse cx="2568" cy="976" rx="10.4" ry="13" fill="#fff" stroke="#000" stroke-width="3" transform="rotate(27.407575437818455 2568 976)"/>
<ellipse cx="2568" cy="976" rx="8.1" ry="11" fill="#fff" stroke="#000" stroke-width="2" transform="rotate(-152.5924245621816 2568 976)"/>
<ellipse cx="2568" cy="976" rx="4.5" ry="6.5" fill="#fff" stroke="#000" stroke-width="2.5" transform="rotate(-152.5924245621816 2568 976)"/>
<rect x="2582.3" y="984.6" width="24" height="12" rx="2" fill="#fff" stroke="#000" stroke-width="2.5" transform="rotate(-152.6 2594.3 989.6)"/>
<ellipse cx="2322.8" cy="887.4" rx="10" ry="10" fill="#fff" stroke="#000" stroke-width="2.8"/>
<ellipse cx="2329.7" cy="883.4" rx="3" ry="6" fill="#fff" stroke="#000" stroke-width="2.2" transform="rotate(-30 2329.7 883.4)"/>
<path d="M2313.6,882.4L2320.6,881.4L2322.6,898.4L2314.6,899.4Z" fill="#fff" stroke="#000" stroke-width="2.5" stroke-linejoin="round" stroke-linecap="round"/>
<ellipse cx="2312.6" cy="892.4" rx="6" ry="7.5" fill="#fff" stroke="#000" stroke-width="2.8" transform="rotate(-30 2312.6 892.4)"/>
<ellipse cx="2312.6" cy="892.4" rx="2.5" ry="3.2" fill="#000" stroke="#000" stroke-width="2" transform="rotate(-30 2312.6 892.4)"/>
<ellipse cx="2604.2" cy="1043.9" rx="10" ry="10" fill="#fff" stroke="#000" stroke-width="2.8"/>
<ellipse cx="2611.1" cy="1039.9" rx="3" ry="6" fill="#fff" stroke="#000" stroke-width="2.2" transform="rotate(-30 2611.1 1039.9)"/>
<path d="M2595,1038.9L2602,1037.9L2604,1054.9L2596,1055.9Z" fill="#fff" stroke="#000" stroke-width="2.5" stroke-linejoin="round" stroke-linecap="round"/>
<ellipse cx="2594" cy="1048.9" rx="6" ry="7.5" fill="#fff" stroke="#000" stroke-width="2.8" transform="rotate(-30 2594 1048.9)"/>
<ellipse cx="2594" cy="1048.9" rx="2.5" ry="3.2" fill="#000" stroke="#000" stroke-width="2" transform="rotate(-30 2594 1048.9)"/>
<ellipse cx="2113.5" cy="967.7" rx="18.8" ry="15.8" fill="#fff" stroke="#000" stroke-width="3" transform="rotate(29.8459319496874 2113.5 967.7)"/>
<path d="M2106.8,979.4L2123.9,985.7L2134.3,967.7L2120.2,956.0Z" fill="#fff" stroke="none" stroke-width="0" stroke-linejoin="round" stroke-linecap="round"/>
<path d="M2106,980.7L2123.9,985.7" fill="none" stroke="#000" stroke-width="3" stroke-linejoin="round" stroke-linecap="butt"/>
<path d="M2121,954.7L2134.3,967.7" fill="none" stroke="#000" stroke-width="3" stroke-linejoin="round" stroke-linecap="butt"/>
<ellipse cx="2107" cy="964" rx="10.2" ry="15" fill="#fff" stroke="#000" stroke-width="4" transform="rotate(29.8459319496874 2107 964)"/>
<ellipse cx="2107.9" cy="964.5" rx="6.3" ry="10.5" fill="#fff" stroke="#000" stroke-width="3" transform="rotate(29.8459319496874 2107.9 964.5)"/>
<path d="M2174.5,987.7L2135.6,965.4A10.4,13 -150.2 0 0 2122.6,988L2161.5,1010.3Z" fill="#fff" stroke="#000" stroke-width="3" stroke-linejoin="round" stroke-linecap="round"/>
<ellipse cx="2168" cy="999" rx="10.4" ry="13" fill="#fff" stroke="#000" stroke-width="3" transform="rotate(-150.15406805031245 2168 999)"/>
<ellipse cx="2168" cy="999" rx="8.1" ry="11" fill="#fff" stroke="#000" stroke-width="2" transform="rotate(29.8459319496874 2168 999)"/>
<ellipse cx="2168" cy="999" rx="4.5" ry="6.5" fill="#fff" stroke="#000" stroke-width="2.5" transform="rotate(29.8459319496874 2168 999)"/>
<rect x="2138.5" y="984.0" width="24" height="12" rx="2" fill="#fff" stroke="#000" stroke-width="2.5" transform="rotate(29.8 2150.5 989.0)"/>
<line x1="2182" y1="1005" x2="2343" y2="1097.5" stroke="#000" stroke-width="10.5" stroke-linecap="round"/>
<g transform="rotate(29.9 2262.5 1051.2)"><path d="M2248.5,1046.25L2252.5,1041.25L2272.5,1041.25L2276.5,1046.25L2276.5,1056.25L2272.5,1061.25L2252.5,1061.25L2248.5,1056.25Z" fill="#fff" stroke="#000" stroke-width="2.5"/><line x1="2248.5" y1="1051.25" x2="2276.5" y2="1051.25" stroke="#000" stroke-width="1.5"/><rect x="2276.5" y="1047.2" width="10" height="8" fill="#fff" stroke="#000" stroke-width="1.5"/><rect x="2238.5" y="1047.2" width="10" height="8" fill="#fff" stroke="#000" stroke-width="1.5"/></g>
<ellipse cx="2343" cy="1097.5" rx="2.2" ry="4" fill="#fff" stroke="#000" stroke-width="1.2" transform="rotate(29.878839121192435 2343 1097.5)"/>
<ellipse cx="2415.5" cy="1139.2" rx="18.8" ry="15.8" fill="#fff" stroke="#000" stroke-width="3" transform="rotate(-149.74356283647072 2415.5 1139.2)"/>
<path d="M2422.3,1127.6L2405.2,1121.2L2394.7,1139.1L2408.7,1150.9Z" fill="#fff" stroke="none" stroke-width="0" stroke-linejoin="round" stroke-linecap="round"/>
<path d="M2423.1,1126.3L2405.2,1121.2" fill="none" stroke="#000" stroke-width="3" stroke-linejoin="round" stroke-linecap="butt"/>
<path d="M2408,1152.2L2394.7,1139.1" fill="none" stroke="#000" stroke-width="3" stroke-linejoin="round" stroke-linecap="butt"/>
<ellipse cx="2422" cy="1143" rx="10.2" ry="15" fill="#fff" stroke="#000" stroke-width="4" transform="rotate(-149.74356283647072 2422 1143)"/>
<ellipse cx="2421.1" cy="1142.5" rx="6.3" ry="10.5" fill="#fff" stroke="#000" stroke-width="3" transform="rotate(-149.74356283647072 2421.1 1142.5)"/>
<path d="M2355.4,1119.2L2393.4,1141.4A10.4,13 30.3 0 0 2406.5,1118.9L2368.6,1096.8Z" fill="#fff" stroke="#000" stroke-width="3" stroke-linejoin="round" stroke-linecap="round"/>
<ellipse cx="2362" cy="1108" rx="10.4" ry="13" fill="#fff" stroke="#000" stroke-width="3" transform="rotate(30.25643716352922 2362 1108)"/>
<ellipse cx="2362" cy="1108" rx="8.1" ry="11" fill="#fff" stroke="#000" stroke-width="2" transform="rotate(-149.74356283647072 2362 1108)"/>
<ellipse cx="2362" cy="1108" rx="4.5" ry="6.5" fill="#fff" stroke="#000" stroke-width="2.5" transform="rotate(-149.74356283647072 2362 1108)"/>
<rect x="2367.1" y="1113.0" width="24" height="12" rx="2" fill="#fff" stroke="#000" stroke-width="2.5" transform="rotate(-149.7 2379.1 1118.0)"/>
<ellipse cx="2048.2" cy="994.5" rx="10" ry="10" fill="#fff" stroke="#000" stroke-width="2.8"/>
<ellipse cx="2055.1" cy="990.5" rx="3" ry="6" fill="#fff" stroke="#000" stroke-width="2.2" transform="rotate(-30 2055.1 990.5)"/>
<path d="M2039,989.5L2046,988.5L2048,1005.5L2040,1006.5Z" fill="#fff" stroke="#000" stroke-width="2.5" stroke-linejoin="round" stroke-linecap="round"/>
<ellipse cx="2038" cy="999.5" rx="6" ry="7.5" fill="#fff" stroke="#000" stroke-width="2.8" transform="rotate(-30 2038 999.5)"/>
<ellipse cx="2038" cy="999.5" rx="2.5" ry="3.2" fill="#000" stroke="#000" stroke-width="2" transform="rotate(-30 2038 999.5)"/>
<ellipse cx="2363.2" cy="1172" rx="10" ry="10" fill="#fff" stroke="#000" stroke-width="2.8"/>
<ellipse cx="2370.1" cy="1168" rx="3" ry="6" fill="#fff" stroke="#000" stroke-width="2.2" transform="rotate(-30 2370.1 1168)"/>
<path d="M2354,1167L2361,1166L2363,1183L2355,1184Z" fill="#fff" stroke="#000" stroke-width="2.5" stroke-linejoin="round" stroke-linecap="round"/>
<ellipse cx="2353" cy="1177" rx="6" ry="7.5" fill="#fff" stroke="#000" stroke-width="2.8" transform="rotate(-30 2353 1177)"/>
<ellipse cx="2353" cy="1177" rx="2.5" ry="3.2" fill="#000" stroke="#000" stroke-width="2" transform="rotate(-30 2353 1177)"/>
<path d="M1765.0,1093.5L1774.9,1087.6L1792.6,1089.6L1806.4,1086.6L1826.1,1087.6L1841.9,1099.4L1853.7,1107.3L1853.7,1115.2L1843.8,1125.0L1841.9,1154.6L1837.9,1170.3L1810.3,1174.3L1806.4,1186.1L1792.6,1229.5L1782.8,1257.0L1794.6,1274.8L1814.3,1268.9L1836.0,1280.7L1836.0,1304.3L1765.0,1331.9L1749.3,1324.0L1745.3,1304.3L1721.7,1272.8L1719.7,1243.3L1727.6,1213.7L1737.4,1170.3L1749.3,1142.8L1757.1,1119.1Z" fill="#fff" stroke="#000" stroke-width="3.5" stroke-linejoin="round" stroke-linecap="round"/>
<ellipse cx="1773" cy="1215" rx="19" ry="31" fill="#fff" stroke="#000" stroke-width="3" transform="rotate(8 1773 1215)"/>
<ellipse cx="1775" cy="1216" rx="15" ry="26" fill="#fff" stroke="#000" stroke-width="2" transform="rotate(8 1775 1216)"/>
<path d="M1760,1190L1790,1240" fill="none" stroke="#000" stroke-width="1.5" stroke-linejoin="round" stroke-linecap="butt"/>
<ellipse cx="1786" cy="1111" rx="5" ry="6" fill="#fff" stroke="#000" stroke-width="2.5"/>
<ellipse cx="1777" cy="1107" rx="4" ry="5" fill="#fff" stroke="#000" stroke-width="2"/>
<path d="M1792,1089L1795,1150L1840,1155" fill="none" stroke="#000" stroke-width="2" stroke-linejoin="round" stroke-linecap="butt"/>
<path d="M1806,1087L1812,1100L1815,1165" fill="none" stroke="#000" stroke-width="1.8" stroke-linejoin="round" stroke-linecap="butt"/>
<path d="M1826,1088L1834,1100L1834,1160" fill="none" stroke="#000" stroke-width="1.8" stroke-linejoin="round" stroke-linecap="butt"/>
<line x1="1810" y1="1110" x2="1828" y2="1110" stroke="#000" stroke-width="9"/>
<path d="M1763.1,1325.4L1834.1,1303.4A10.5,14 -17.2 0 0 1825.9,1276.6L1754.9,1298.6Z" fill="#fff" stroke="#000" stroke-width="3" stroke-linejoin="round" stroke-linecap="round"/>
<ellipse cx="1759" cy="1312" rx="10.5" ry="14" fill="#fff" stroke="#000" stroke-width="3" transform="rotate(-17.216073587790714 1759 1312)"/>
<ellipse cx="1759" cy="1312" rx="5" ry="7" fill="#fff" stroke="#000" stroke-width="2.2"/>
<path d="M1757,1119L1760,1140L1748,1180" fill="none" stroke="#000" stroke-width="2" stroke-linejoin="round" stroke-linecap="butt"/>
<text x="1757" y="1145" font-family="Liberation Sans" font-weight="bold" font-size="11" transform="rotate(-70 1757 1145)">L 17.5</text>
<path d="M1878.3,1213.7L1889.2,1209.8L1912.8,1215.7L1916.7,1225.5L1926.6,1235.4L1950.2,1243.3L1975.9,1255.1L1970.0,1276.7L1963.1,1278.7L1960.1,1306.3L1946.3,1324.0L1920.7,1327.0L1887.2,1320.1L1853.7,1312.2L1855.7,1294.5L1873.4,1270.8L1873.4,1231.4Z" fill="#fff" stroke="#000" stroke-width="3.2" stroke-linejoin="round" stroke-linecap="round"/>
<ellipse cx="1936.5" cy="1286.6" rx="25" ry="37" fill="#fff" stroke="#000" stroke-width="3" transform="rotate(10 1936.5 1286.6)"/>
<ellipse cx="1937.5" cy="1287" rx="21" ry="32" fill="#fff" stroke="#000" stroke-width="2.5" transform="rotate(10 1937.5 1287)"/>
<ellipse cx="1899" cy="1217.6" rx="16" ry="8" fill="#fff" stroke="#000" stroke-width="3"/>
<ellipse cx="1899" cy="1217.6" rx="7" ry="3.5" fill="#222" stroke="#000" stroke-width="2.5"/>
<path d="M1880,1228L1915,1240L1930,1250" fill="none" stroke="#000" stroke-width="2" stroke-linejoin="round" stroke-linecap="butt"/>
<path d="M1857,1295L1885,1305" fill="none" stroke="#000" stroke-width="2" stroke-linejoin="round" stroke-linecap="butt"/>
<ellipse cx="1963" cy="1255" rx="4" ry="3" fill="#fff" stroke="#000" stroke-width="2"/>
<line x1="1917" y1="1140" x2="1917" y2="1163" stroke="#000" stroke-width="14" stroke-linecap="round"/>
<path d="M1910,1122L1910,1140L1924,1140L1924,1122Z" fill="#fff" stroke="#000" stroke-width="2.5" stroke-linejoin="round" stroke-linecap="round"/>
<ellipse cx="1917.6" cy="1121" rx="15" ry="8" fill="#fff" stroke="#000" stroke-width="3"/>
<ellipse cx="1917.6" cy="1119" rx="8" ry="3.5" fill="#fff" stroke="#000" stroke-width="1.5"/>
<ellipse cx="1904.9" cy="1196" rx="19" ry="6.5" fill="#fff" stroke="#000" stroke-width="3.5"/>
<path d="M1894.9,1177L1894.9,1194A10,4.5 0 0 0 1914.9,1194L1914.9,1177Z" fill="#fff" stroke="#000" stroke-width="2.8" stroke-linejoin="round" stroke-linecap="round"/>
<ellipse cx="1904.9" cy="1177" rx="10" ry="4.5" fill="#fff" stroke="#000" stroke-width="2.8"/>
<ellipse cx="1969" cy="1104" rx="15" ry="8" fill="#fff" stroke="#000" stroke-width="3"/>
<path d="M1958,1086L1962,1080L1976,1080L1980,1086L1980,1100L1958,1100Z" fill="#fff" stroke="#000" stroke-width="2.8" stroke-linejoin="round" stroke-linecap="round"/>
<ellipse cx="1969" cy="1084" rx="9" ry="4.5" fill="#222" stroke="#000" stroke-width="2.5"/>
<ellipse cx="1962" cy="1126" rx="12" ry="5" fill="#fff" stroke="#000" stroke-width="3"/>
<ellipse cx="1962" cy="1126" rx="5" ry="2" fill="#fff" stroke="#000" stroke-width="1.5"/>
<line x1="1969" y1="1153.6" x2="1965" y2="1176.6" stroke="#000" stroke-width="10" stroke-linecap="round"/>
<ellipse cx="1970" cy="1150.6" rx="10" ry="5" fill="#fff" stroke="#000" stroke-width="3"/>
<ellipse cx="1970" cy="1150.6" rx="3" ry="1.5" fill="#fff" stroke="#000" stroke-width="1.5"/>
<line x1="1989.6" y1="1152.7" x2="1985.6" y2="1175.7" stroke="#000" stroke-width="10" stroke-linecap="round"/>
<ellipse cx="1990.6" cy="1149.7" rx="10" ry="5" fill="#fff" stroke="#000" stroke-width="3"/>
<ellipse cx="1990.6" cy="1149.7" rx="3" ry="1.5" fill="#fff" stroke="#000" stroke-width="1.5"/>
<path d="M1930,1190L1940,1181L1988,1207L1990,1222L1975,1225L1932,1205Z" fill="#fff" stroke="#000" stroke-width="3" stroke-linejoin="round" stroke-linecap="round"/>
<path d="M1934,1198L1976,1218L1976,1224" fill="none" stroke="#000" stroke-width="2" stroke-linejoin="round" stroke-linecap="butt"/>
<ellipse cx="1950" cy="1192" rx="5" ry="3" fill="#fff" stroke="#000" stroke-width="2"/>
<path d="M1960,1196L1972,1202L1968,1208L1958,1202Z" fill="#fff" stroke="#000" stroke-width="2" stroke-linejoin="round" stroke-linecap="round"/>
<path d="M1849.3,1342L1849.3,1361A11,5 0 0 0 1871.3,1361L1871.3,1342Z" fill="#fff" stroke="#000" stroke-width="2.8" stroke-linejoin="round" stroke-linecap="round"/>
<ellipse cx="1860.3" cy="1342" rx="11" ry="5" fill="#fff" stroke="#000" stroke-width="2.8"/>
<ellipse cx="1860.3" cy="1341" rx="19" ry="7" fill="#fff" stroke="#000" stroke-width="3"/>
<ellipse cx="1860.3" cy="1341" rx="8" ry="3" fill="#fff" stroke="#000" stroke-width="2"/>
<line x1="1846" y1="1390" x2="1850" y2="1387" stroke="#000" stroke-width="13" stroke-linecap="round"/>
<path d="M1840,1400L1845,1384L1856,1387L1852,1405Z" fill="#111" stroke="#000" stroke-width="2.5" stroke-linejoin="round" stroke-linecap="round"/>
<path d="M1834,1404L1852,1408L1848,1425L1832,1421Z" fill="#fff" stroke="#000" stroke-width="2.5" stroke-linejoin="round" stroke-linecap="round"/>
<ellipse cx="1838" cy="1428" rx="10" ry="6" fill="#222" stroke="#000" stroke-width="3"/>
<line x1="1896" y1="1348" x2="1879" y2="1414" stroke="#000" stroke-width="9" stroke-linecap="round"/>
<ellipse cx="1876" cy="1418" rx="9" ry="5" fill="#fff" stroke="#000" stroke-width="2.5"/>
<path d="M1290,1062L1326,1084L1352,1101Q1372,1150 1356,1196L1318,1212L1280,1200Z" fill="#fff" stroke="#000" stroke-width="2.8" stroke-linejoin="round" stroke-linecap="round"/>
<ellipse cx="1283" cy="1127" rx="62" ry="72" fill="#fff" stroke="#000" stroke-width="3" transform="rotate(18 1283 1127)"/>
<line x1="1300.0" y1="1057.1" x2="1296.9" y2="1070.8" stroke="#000" stroke-width="3.4"/>
<line x1="1294.2" y1="1056.2" x2="1292.4" y2="1070.1" stroke="#000" stroke-width="3.4"/>
<line x1="1288.3" y1="1055.9" x2="1287.8" y2="1069.9" stroke="#000" stroke-width="3.4"/>
<line x1="1282.3" y1="1056.2" x2="1283.1" y2="1070.2" stroke="#000" stroke-width="3.4"/>
<line x1="1276.4" y1="1057.2" x2="1278.5" y2="1071.1" stroke="#000" stroke-width="3.4"/>
<line x1="1270.5" y1="1058.8" x2="1273.9" y2="1072.4" stroke="#000" stroke-width="3.4"/>
<line x1="1264.7" y1="1061.0" x2="1269.4" y2="1074.2" stroke="#000" stroke-width="3.4"/>
<line x1="1259.1" y1="1063.9" x2="1265.0" y2="1076.5" stroke="#000" stroke-width="3.4"/>
<line x1="1253.6" y1="1067.2" x2="1260.7" y2="1079.3" stroke="#000" stroke-width="3.4"/>
<line x1="1248.5" y1="1071.1" x2="1256.7" y2="1082.5" stroke="#000" stroke-width="3.4"/>
<line x1="1243.7" y1="1075.6" x2="1252.9" y2="1086.1" stroke="#000" stroke-width="3.4"/>
<line x1="1239.2" y1="1080.4" x2="1249.4" y2="1090.0" stroke="#000" stroke-width="3.4"/>
<line x1="1235.1" y1="1085.7" x2="1246.2" y2="1094.3" stroke="#000" stroke-width="3.4"/>
<line x1="1231.4" y1="1091.4" x2="1243.3" y2="1098.9" stroke="#000" stroke-width="3.4"/>
<line x1="1228.2" y1="1097.4" x2="1240.7" y2="1103.7" stroke="#000" stroke-width="3.4"/>
<line x1="1225.5" y1="1103.6" x2="1238.6" y2="1108.8" stroke="#000" stroke-width="3.4"/>
<line x1="1223.3" y1="1110.1" x2="1236.8" y2="1114.0" stroke="#000" stroke-width="3.4"/>
<line x1="1221.7" y1="1116.7" x2="1235.4" y2="1119.3" stroke="#000" stroke-width="3.4"/>
<line x1="1220.6" y1="1123.4" x2="1234.5" y2="1124.7" stroke="#000" stroke-width="3.4"/>
<line x1="1220.0" y1="1130.1" x2="1234.0" y2="1130.1" stroke="#000" stroke-width="3.4"/>
<line x1="1220.1" y1="1136.8" x2="1234.0" y2="1135.5" stroke="#000" stroke-width="3.4"/>
<line x1="1220.6" y1="1143.4" x2="1234.4" y2="1140.8" stroke="#000" stroke-width="3.4"/>
<line x1="1221.8" y1="1149.9" x2="1235.2" y2="1146.0" stroke="#000" stroke-width="3.4"/>
<line x1="1223.5" y1="1156.2" x2="1236.5" y2="1151.0" stroke="#000" stroke-width="3.4"/>
<line x1="1225.7" y1="1162.2" x2="1238.1" y2="1155.8" stroke="#000" stroke-width="3.4"/>
<line x1="1228.4" y1="1167.9" x2="1240.2" y2="1160.3" stroke="#000" stroke-width="3.4"/>
<line x1="1231.7" y1="1173.2" x2="1242.7" y2="1164.5" stroke="#000" stroke-width="3.4"/>
<line x1="1235.4" y1="1178.1" x2="1245.5" y2="1168.4" stroke="#000" stroke-width="3.4"/>
<line x1="1239.5" y1="1182.5" x2="1248.7" y2="1172.0" stroke="#000" stroke-width="3.4"/>
<line x1="1244.0" y1="1186.5" x2="1252.1" y2="1175.1" stroke="#000" stroke-width="3.4"/>
<line x1="1248.8" y1="1189.9" x2="1255.9" y2="1177.8" stroke="#000" stroke-width="3.4"/>
<line x1="1254.0" y1="1192.8" x2="1259.9" y2="1180.0" stroke="#000" stroke-width="3.4"/>
<line x1="1259.4" y1="1195.0" x2="1264.1" y2="1181.8" stroke="#000" stroke-width="3.4"/>
<line x1="1265.1" y1="1196.7" x2="1268.4" y2="1183.1" stroke="#000" stroke-width="3.4"/>
<line x1="1270.9" y1="1197.7" x2="1272.9" y2="1183.9" stroke="#000" stroke-width="3.4"/>
<line x1="1276.8" y1="1198.1" x2="1277.5" y2="1184.1" stroke="#000" stroke-width="3.4"/>
<ellipse cx="1283" cy="1127" rx="48" ry="58" fill="#fff" stroke="#000" stroke-width="2.5" transform="rotate(18 1283 1127)"/>
<ellipse cx="1320.8" cy="1153.7" rx="43" ry="56" fill="#fff" stroke="#000" stroke-width="2.8" transform="rotate(22 1320.8 1153.7)"/>
<ellipse cx="1325" cy="1157" rx="37" ry="47" fill="none" stroke="#000" stroke-width="2" transform="rotate(22 1325 1157)"/>
<ellipse cx="1326.5" cy="1159" rx="23" ry="31" fill="#fff" stroke="#000" stroke-width="4" transform="rotate(22 1326.5 1159)"/>
<ellipse cx="1328" cy="1160" rx="17" ry="24" fill="none" stroke="#000" stroke-width="2" transform="rotate(22 1328 1160)"/>
<path d="M1330.2,1185.7L1374.2,1207.7A12.1,22 26.6 0 0 1393.8,1168.3L1349.8,1146.3Z" fill="#fff" stroke="#000" stroke-width="2.8" stroke-linejoin="round" stroke-linecap="round"/>
<ellipse cx="1340" cy="1166" rx="12.1" ry="22" fill="#fff" stroke="#000" stroke-width="2.8" transform="rotate(26.56505117707799 1340 1166)"/>
<ellipse cx="1384" cy="1188" rx="11" ry="21" fill="#fff" stroke="#000" stroke-width="2.8" transform="rotate(25 1384 1188)"/>
<path d="M1352,1152L1378,1164" fill="none" stroke="#000" stroke-width="2" stroke-linejoin="round" stroke-linecap="butt"/>
<path d="M1350,1182L1372,1196" fill="none" stroke="#000" stroke-width="2" stroke-linejoin="round" stroke-linecap="butt"/>
<ellipse cx="1384" cy="1188" rx="6" ry="14" fill="#fff" stroke="#000" stroke-width="2" transform="rotate(25 1384 1188)"/>
<path d="M1200,1082L1225,1072L1240,1080L1244,1096L1230,1112L1205,1118L1198,1100Z" fill="#fff" stroke="#000" stroke-width="2.8" stroke-linejoin="round" stroke-linecap="round"/>
<path d="M1202,1098L1230,1088" fill="none" stroke="#000" stroke-width="2" stroke-linejoin="round" stroke-linecap="butt"/>
<ellipse cx="1218" cy="1078" rx="8" ry="4" fill="#fff" stroke="#000" stroke-width="2"/>
<path d="M1206,1086Q1214,1080 1226,1082" fill="none" stroke="#000" stroke-width="2" stroke-linejoin="round" stroke-linecap="round"/>
<path d="M1457.9,1031.4L1391.2,1068A4.4,8 151.2 0 0 1398.8,1082L1465.5,1045.4Z" fill="#fff" stroke="#000" stroke-width="2.6" stroke-linejoin="round" stroke-linecap="round"/>
<ellipse cx="1461.7" cy="1038.4" rx="4.4" ry="8" fill="#fff" stroke="#000" stroke-width="2.6" transform="rotate(151.24529447196355 1461.7 1038.4)"/>
<path d="M1442,1042L1456,1035L1460,1041L1447,1048Z" fill="#fff" stroke="#000" stroke-width="1.8" stroke-linejoin="round" stroke-linecap="round"/>
<path d="M1400.3,1083.0L1397.0,1086.7L1399.1,1092.2L1395.2,1093.7L1395.8,1100.0L1391.8,1099.0L1390.9,1105.2L1387.4,1101.8L1385.0,1107.0L1382.6,1101.8L1379.1,1105.2L1378.2,1099.0L1374.2,1100.0L1374.8,1093.7L1370.9,1092.2L1373.0,1086.7L1369.7,1083.0L1373.0,1079.3L1370.9,1073.8L1374.8,1072.3L1374.2,1066.0L1378.2,1067.0L1379.1,1060.8L1382.6,1064.2L1385.0,1059.0L1387.4,1064.2L1390.9,1060.8L1391.8,1067.0L1395.8,1066.0L1395.2,1072.3L1399.1,1073.8L1397.0,1079.3Z" fill="#fff" stroke="#000" stroke-width="2.5" stroke-linejoin="round" stroke-linecap="round"/>
<path d="M1385,1063L1401,1067" fill="none" stroke="#000" stroke-width="2.2" stroke-linejoin="round" stroke-linecap="butt"/>
<path d="M1387.6,1065L1401,1068.8" fill="none" stroke="#000" stroke-width="2.2" stroke-linejoin="round" stroke-linecap="butt"/>
<path d="M1389.7,1070.5L1401,1073.8" fill="none" stroke="#000" stroke-width="2.2" stroke-linejoin="round" stroke-linecap="butt"/>
<path d="M1390.8,1078.5L1401,1081" fill="none" stroke="#000" stroke-width="2.2" stroke-linejoin="round" stroke-linecap="butt"/>
<path d="M1390.8,1087.5L1401,1089" fill="none" stroke="#000" stroke-width="2.2" stroke-linejoin="round" stroke-linecap="butt"/>
<path d="M1389.7,1095.5L1401,1096.2" fill="none" stroke="#000" stroke-width="2.2" stroke-linejoin="round" stroke-linecap="butt"/>
<path d="M1387.6,1101L1401,1101.2" fill="none" stroke="#000" stroke-width="2.2" stroke-linejoin="round" stroke-linecap="butt"/>
<path d="M1385,1103L1401,1103" fill="none" stroke="#000" stroke-width="2.2" stroke-linejoin="round" stroke-linecap="butt"/>
<ellipse cx="1382" cy="1085" rx="8" ry="11" fill="#fff" stroke="#000" stroke-width="2.8"/>
<path d="M1503.7,1044.1L1521.4,1034.7A16,25 -28 0 0 1497.9,990.5L1480.3,999.9Z" fill="#fff" stroke="#000" stroke-width="3" stroke-linejoin="round" stroke-linecap="round"/>
<ellipse cx="1492" cy="1022" rx="16" ry="25" fill="#fff" stroke="#000" stroke-width="3" transform="rotate(-27.99999999999982 1492 1022)"/>
<ellipse cx="1492" cy="1022" rx="8" ry="12.5" fill="#fff" stroke="#000" stroke-width="4.5" transform="rotate(-28 1492 1022)"/>
<ellipse cx="1492" cy="1022" rx="5.1" ry="8" fill="#fff" stroke="#000" stroke-width="2" transform="rotate(-28 1492 1022)"/>
<path d="M909.6,1267.1L929.4,1260.0L949.2,1267.1L973.3,1286.9L994.5,1298.2L1062.5,1335.0L1088.0,1347.8L1102.1,1366.2L1102.1,1405.9L1088.0,1411.5L1054.0,1394.5L1051.2,1386.0L1034.2,1374.7L971.9,1332.2L946.4,1326.6L935.1,1323.7L909.6,1303.9Z" fill="#fff" stroke="#000" stroke-width="3.2" stroke-linejoin="round" stroke-linecap="round"/>
<path d="M915,1280L930,1274L940,1290L938,1312L924,1312L914,1302Z" fill="#fff" stroke="#000" stroke-width="3" stroke-linejoin="round" stroke-linecap="round"/>
<path d="M918,1290L934,1286" fill="none" stroke="#000" stroke-width="1.6" stroke-linejoin="round" stroke-linecap="butt"/>
<path d="M1058,1363L1074,1358L1084,1374L1082,1398L1068,1398L1058,1388Z" fill="#fff" stroke="#000" stroke-width="3" stroke-linejoin="round" stroke-linecap="round"/>
<ellipse cx="956" cy="1300" rx="9" ry="11" fill="#fff" stroke="#000" stroke-width="2.5"/>
<ellipse cx="1044" cy="1355" rx="9" ry="11" fill="#fff" stroke="#000" stroke-width="2.5"/>
<path d="M949,1267L953,1282L973,1290" fill="none" stroke="#000" stroke-width="1.8" stroke-linejoin="round" stroke-linecap="butt"/>
<path d="M1062,1335L1060,1346L1085,1360" fill="none" stroke="#000" stroke-width="1.8" stroke-linejoin="round" stroke-linecap="butt"/>
<path d="M980,1300L1030,1330" fill="none" stroke="#000" stroke-width="1.6" stroke-linejoin="round" stroke-linecap="butt"/>
<text x="985" y="1328" font-family="Liberation Sans" font-weight="bold" font-style="italic" font-size="10" transform="rotate(28 985 1328)">TLR</text>
<path d="M1090.8,1216.1L1107.8,1204.8L1153.1,1182.1L1181.4,1190.6L1181.4,1227.4L1206.9,1241.6L1238.1,1227.4L1255.1,1233.1L1263.6,1247.3L1266.4,1269.9L1260.7,1281.3L1229.6,1269.9L1198.4,1284.1L1187.1,1289.7L1167.3,1281.3L1096.5,1227.4Z" fill="#fff" stroke="#000" stroke-width="3.2" stroke-linejoin="round" stroke-linecap="round"/>
<ellipse cx="1101" cy="1222" rx="4" ry="5" fill="#fff" stroke="#000" stroke-width="2.5"/>
<ellipse cx="1190" cy="1277" rx="4" ry="5" fill="#fff" stroke="#000" stroke-width="2.5"/>
<path d="M1132,1210L1165,1193" fill="none" stroke="#000" stroke-width="4" stroke-linejoin="round" stroke-linecap="butt"/>
<path d="M1130,1212L1133,1222L1150,1214L1165,1212L1165,1200" fill="none" stroke="#000" stroke-width="2" stroke-linejoin="round" stroke-linecap="round"/>
<ellipse cx="1142" cy="1226" rx="4" ry="3" fill="#fff" stroke="#000" stroke-width="2"/>
<ellipse cx="1168" cy="1241" rx="6" ry="4" fill="#fff" stroke="#000" stroke-width="2.5"/>
<path d="M1120,1235Q1140,1240 1150,1250" fill="none" stroke="#000" stroke-width="2" stroke-linejoin="round" stroke-linecap="round"/>
<path d="M1146,1248Q1160,1252 1170,1262" fill="none" stroke="#000" stroke-width="2" stroke-linejoin="round" stroke-linecap="round"/>
<path d="M1181,1227L1190,1230" fill="none" stroke="#000" stroke-width="2" stroke-linejoin="round" stroke-linecap="butt"/>
<ellipse cx="1247" cy="1262" rx="8" ry="12" fill="#fff" stroke="#000" stroke-width="2.8"/>
<path d="M728.3,1383.2L729.7,1369.0L739.6,1353.5L753.8,1345.0L763.7,1343.0L769.4,1349.2L782.1,1371.9L793.5,1391.7L833.1,1407.3L858.6,1420.0L898.2,1422.9L906.7,1428.5L903.9,1439.8L895.4,1456.8L898.2,1479.5L915.2,1490.8L923.7,1496.5L920.9,1505.0L909.6,1506.4L739.6,1412.9L731.2,1400.2Z" fill="#fff" stroke="#000" stroke-width="2.8" stroke-linejoin="round" stroke-linecap="round"/>
<path d="M730,1392Q734,1362 758,1346" fill="none" stroke="#000" stroke-width="1.6" stroke-linejoin="round" stroke-linecap="round"/>
<path d="M764,1345L776,1368L790,1390L832,1410" fill="none" stroke="#000" stroke-width="1.8" stroke-linejoin="round" stroke-linecap="butt"/>
<path d="M832,1407Q840,1398 850,1402L866,1412" fill="none" stroke="#000" stroke-width="1.8" stroke-linejoin="round" stroke-linecap="round"/>
<path d="M858,1420L866,1426L896,1426" fill="none" stroke="#000" stroke-width="1.6" stroke-linejoin="round" stroke-linecap="butt"/>
<path d="M900,1430L894,1455L897,1480L912,1494" fill="none" stroke="#000" stroke-width="1.8" stroke-linejoin="round" stroke-linecap="butt"/>
<ellipse cx="904" cy="1450" rx="2.5" ry="5" fill="#fff" stroke="#000" stroke-width="1.8"/>
<path d="M910,1500L915,1496" fill="none" stroke="#000" stroke-width="1.5" stroke-linejoin="round" stroke-linecap="butt"/>
<line x1="864.8" y1="1362.8" x2="903.1" y2="1340.3" stroke="#000" stroke-width="15" stroke-linecap="round"/>
<ellipse cx="909.6" cy="1336.5" rx="3.3" ry="6.8" fill="#fff" stroke="#000" stroke-width="1.5" transform="rotate(-30.41876862219447 909.6 1336.5)"/>
<ellipse cx="861.4" cy="1364.8" rx="8.2" ry="15" fill="#fff" stroke="#000" stroke-width="3" transform="rotate(-30.41876862219447 861.4 1364.8)"/>
<ellipse cx="860.5" cy="1365.3" rx="3.8" ry="6.8" fill="#fff" stroke="#000" stroke-width="2" transform="rotate(-30.41876862219447 860.5 1365.3)"/>
<line x1="954.1" y1="1412.5" x2="990.8" y2="1392.5" stroke="#000" stroke-width="15" stroke-linecap="round"/>
<ellipse cx="997.4" cy="1388.9" rx="3.3" ry="6.8" fill="#fff" stroke="#000" stroke-width="1.5" transform="rotate(-28.58472032380049 997.4 1388.9)"/>
<ellipse cx="950.6" cy="1414.4" rx="8.2" ry="15" fill="#fff" stroke="#000" stroke-width="3" transform="rotate(-28.58472032380049 950.6 1414.4)"/>
<ellipse cx="949.7" cy="1414.9" rx="3.8" ry="6.8" fill="#fff" stroke="#000" stroke-width="2" transform="rotate(-28.58472032380049 949.7 1414.9)"/>
<line x1="1035.6" y1="1285.5" x2="1081.1" y2="1260.2" stroke="#000" stroke-width="12.5" stroke-linecap="round"/>
<ellipse cx="1035.6" cy="1285.5" rx="5.4" ry="11.4" fill="#fff" stroke="#000" stroke-width="3" transform="rotate(-29.025980065065596 1035.6 1285.5)"/>
<ellipse cx="1034.6" cy="1286.1" rx="2.4" ry="4.8" fill="#fff" stroke="#000" stroke-width="1.8" transform="rotate(-29.025980065065596 1034.6 1286.1)"/>
<line x1="1124.8" y1="1335" x2="1170.3" y2="1311.1" stroke="#000" stroke-width="12.5" stroke-linecap="round"/>
<ellipse cx="1124.8" cy="1335" rx="5.4" ry="11.4" fill="#fff" stroke="#000" stroke-width="3" transform="rotate(-27.721485938796437 1124.8 1335)"/>
<ellipse cx="1123.7" cy="1335.6" rx="2.4" ry="4.8" fill="#fff" stroke="#000" stroke-width="1.8" transform="rotate(-27.721485938796437 1123.7 1335.6)"/>
<path d="M1062.1,1508.1L1251.8,1431.6A3.8,6.4 -22 0 0 1247,1419.8L1057.3,1496.3Z" fill="#fff" stroke="#000" stroke-width="2.6" stroke-linejoin="round" stroke-linecap="round"/>
<ellipse cx="1059.7" cy="1502.2" rx="3.8" ry="6.4" fill="#fff" stroke="#000" stroke-width="2.6" transform="rotate(-21.962659098292427 1059.7 1502.2)"/>
<path d="M1004.2,1536.2L1050.9,1522.1A5,9 -16.8 0 0 1045.7,1504.9L999,1519Z" fill="#fff" stroke="#000" stroke-width="2.6" stroke-linejoin="round" stroke-linecap="round"/>
<ellipse cx="1001.6" cy="1527.6" rx="5" ry="9" fill="#fff" stroke="#000" stroke-width="2.6" transform="rotate(-16.8004932971895 1001.6 1527.6)"/>
<ellipse cx="1001.6" cy="1527.6" rx="8.7" ry="14" fill="#fff" stroke="#000" stroke-width="2.8" transform="rotate(-16.8004932971895 1001.6 1527.6)"/>
<ellipse cx="1001.6" cy="1527.6" rx="4.2" ry="6.7" fill="#fff" stroke="#000" stroke-width="2.5" transform="rotate(-16.8004932971895 1001.6 1527.6)"/>
<path d="M1290,1421.5L1321,1410.5A5,9 -19.5 0 0 1315,1393.5L1284,1404.5Z" fill="#fff" stroke="#000" stroke-width="2.6" stroke-linejoin="round" stroke-linecap="round"/>
<ellipse cx="1287" cy="1413" rx="5" ry="9" fill="#fff" stroke="#000" stroke-width="2.6" transform="rotate(-19.536654938128386 1287 1413)"/>
<ellipse cx="1287" cy="1413" rx="8.7" ry="14" fill="#fff" stroke="#000" stroke-width="2.8" transform="rotate(-19.536654938128386 1287 1413)"/>
<ellipse cx="1287" cy="1413" rx="4.2" ry="6.7" fill="#fff" stroke="#000" stroke-width="2.5" transform="rotate(-19.536654938128386 1287 1413)"/>
<ellipse cx="1350" cy="1385" rx="10" ry="15" fill="#fff" stroke="#000" stroke-width="3" transform="rotate(15 1350 1385)"/>
<ellipse cx="1350" cy="1385" rx="4" ry="7" fill="#fff" stroke="#000" stroke-width="2.5" transform="rotate(15 1350 1385)"/>
<path d="M935.6,1537.2L954.8,1534.8L964.4,1540.8L964.88,1557.6L947.6,1562.4L935.12,1556.4Z" fill="#fff" stroke="#000" stroke-width="3" stroke-linejoin="round" stroke-linecap="round"/>
<path d="M935.6,1537.2L947.6,1542L964.4,1540.8" fill="none" stroke="#000" stroke-width="2" stroke-linejoin="round" stroke-linecap="butt"/>
<path d="M947.6,1542L947.6,1562.4" fill="none" stroke="#000" stroke-width="2" stroke-linejoin="round" stroke-linecap="butt"/>
<ellipse cx="941.6" cy="1551.6" rx="2" ry="2" fill="#000" stroke="#000" stroke-width="1.5"/>
<path d="M1382.4,1355.3L1403.2,1352.7L1413.6,1359.2L1414.12,1377.4L1395.4,1382.6L1381.88,1376.1Z" fill="#fff" stroke="#000" stroke-width="3" stroke-linejoin="round" stroke-linecap="round"/>
<path d="M1382.4,1355.3L1395.4,1360.5L1413.6,1359.2" fill="none" stroke="#000" stroke-width="2" stroke-linejoin="round" stroke-linecap="butt"/>
<path d="M1395.4,1360.5L1395.4,1382.6" fill="none" stroke="#000" stroke-width="2" stroke-linejoin="round" stroke-linecap="butt"/>
<ellipse cx="1388.9" cy="1370.9" rx="2" ry="2" fill="#000" stroke="#000" stroke-width="1.5"/>
<path d="M1212.8,1613.0C1220.6,1608.8 1246.6,1597.8 1256.1,1597.0C1265.6,1596.2 1259.5,1612.2 1269.8,1608.4C1280.0,1604.6 1307.3,1581.1 1317.6,1574.2C1327.8,1567.3 1323.7,1570.7 1331.3,1567.3C1338.9,1563.9 1356.4,1555.2 1363.2,1553.7C1370.0,1552.2 1369.6,1556.3 1372.3,1558.2C1375.0,1560.1 1374.6,1559.8 1379.2,1565.1C1383.8,1570.4 1395.5,1584.4 1399.7,1590.1C1403.9,1595.8 1402.7,1596.2 1404.2,1599.3C1405.7,1602.3 1402.7,1598.9 1408.8,1608.4C1414.9,1617.9 1431.6,1637.2 1440.7,1656.2C1449.8,1675.2 1454.8,1707.5 1463.5,1722.3C1472.2,1737.1 1482.8,1739.4 1493.1,1745.1C1503.3,1750.8 1516.3,1751.2 1525.0,1756.5C1533.7,1761.8 1535.6,1766.4 1545.5,1777.0C1555.4,1787.6 1577.1,1810.4 1584.3,1820.3C1591.5,1830.2 1589.2,1831.0 1588.8,1836.3C1588.4,1841.6 1595.3,1844.6 1582.0,1852.2C1568.7,1859.8 1523.8,1875.7 1509.0,1881.8C1494.2,1887.9 1498.0,1887.2 1493.1,1888.7C1488.2,1890.2 1483.6,1892.2 1479.4,1891.0C1475.2,1889.8 1477.1,1892.5 1468.0,1881.8C1458.9,1871.1 1434.6,1837.7 1424.7,1827.1C1414.8,1816.5 1414.5,1820.7 1408.8,1818.0C1403.1,1815.3 1397.0,1815.8 1390.5,1811.2C1384.0,1806.7 1397.0,1817.3 1370.0,1790.7C1343.0,1764.1 1254.9,1676.4 1228.7,1651.7C1202.5,1627.0 1216.0,1647.5 1212.8,1642.6C1209.6,1637.6 1209.4,1626.9 1209.4,1622.0C1209.4,1617.1 1205.0,1617.2 1212.8,1613.0Z" fill="#fff" stroke="#000" stroke-width="3.2" stroke-linejoin="round" stroke-linecap="round"/>
<ellipse cx="1223" cy="1633.4" rx="13" ry="16" fill="#fff" stroke="#000" stroke-width="3" transform="rotate(-20 1223 1633.4)"/>
<ellipse cx="1223" cy="1633.4" rx="5.5" ry="6.5" fill="#fff" stroke="#000" stroke-width="2.5" transform="rotate(-20 1223 1633.4)"/>
<ellipse cx="1477.1" cy="1872.7" rx="13" ry="16" fill="#fff" stroke="#000" stroke-width="3" transform="rotate(-20 1477.1 1872.7)"/>
<ellipse cx="1477.1" cy="1872.7" rx="5.5" ry="6.5" fill="#fff" stroke="#000" stroke-width="2.5" transform="rotate(-20 1477.1 1872.7)"/>
<path d="M1233,1626.6L1269.8,1615.2" fill="none" stroke="#000" stroke-width="1.8" stroke-linejoin="round" stroke-linecap="butt"/>
<path d="M1265,1599.3L1326.7,1576.5" fill="none" stroke="#000" stroke-width="1.8" stroke-linejoin="round" stroke-linecap="butt"/>
<path d="M1330,1580L1372,1562" fill="none" stroke="#000" stroke-width="1.6" stroke-linejoin="round" stroke-linecap="butt"/>
<path d="M1236,1642L1372,1776L1470,1868" fill="none" stroke="#000" stroke-width="1.8" stroke-linejoin="round" stroke-linecap="butt"/>
<path d="M1240,1650L1375,1784" fill="none" stroke="#000" stroke-width="1.4" stroke-linejoin="round" stroke-linecap="butt"/>
<path d="M1281.2,1647.1C1280.8,1642.9 1281.2,1640.3 1290.3,1642.6C1299.4,1644.9 1323.0,1654.7 1335.9,1660.8C1348.8,1666.9 1361.7,1672.5 1367.8,1679.0C1373.9,1685.5 1375.3,1693.0 1372.3,1699.5C1369.2,1706.0 1359.4,1716.6 1349.5,1717.8C1339.6,1719.0 1322.6,1714.8 1313.1,1706.4C1303.6,1698.0 1297.9,1677.5 1292.6,1667.6C1287.3,1657.7 1281.6,1651.3 1281.2,1647.1Z" fill="#fff" stroke="#000" stroke-width="2.2" stroke-linejoin="round" stroke-linecap="round"/>
<ellipse cx="1318" cy="1690" rx="16" ry="12" fill="none" stroke="#000" stroke-width="2" transform="rotate(30 1318 1690)"/>
<path d="M1330,1668L1322,1700" fill="none" stroke="#000" stroke-width="1.5" stroke-linejoin="round" stroke-linecap="butt"/>
<path d="M1342,1672L1335,1705" fill="none" stroke="#000" stroke-width="1.5" stroke-linejoin="round" stroke-linecap="butt"/>
<path d="M1335.9,1638.0C1338.9,1630.7 1360.9,1624.7 1370.0,1624.3C1379.1,1623.9 1383.0,1629.8 1390.5,1635.7C1398.0,1641.7 1406.6,1653.2 1415.0,1660.0C1423.4,1666.8 1436.4,1668.2 1440.7,1676.7C1445.0,1685.2 1444.5,1704.0 1440.7,1710.9C1436.9,1717.8 1425.6,1719.8 1418.0,1718.0C1410.4,1716.2 1402.2,1704.7 1395.0,1700.0C1387.8,1695.3 1382.2,1695.3 1375.0,1690.0C1367.8,1684.7 1358.5,1676.7 1352.0,1668.0C1345.5,1659.3 1332.9,1645.3 1335.9,1638.0Z" fill="#fff" stroke="#000" stroke-width="2.2" stroke-linejoin="round" stroke-linecap="round"/>
<ellipse cx="1370" cy="1650" rx="10" ry="13" fill="none" stroke="#000" stroke-width="2" transform="rotate(-20 1370 1650)"/>
<path d="M1362,1640L1372,1668" fill="none" stroke="#000" stroke-width="1.5" stroke-linejoin="round" stroke-linecap="butt"/>
<path d="M1374,1636L1382,1664" fill="none" stroke="#000" stroke-width="1.5" stroke-linejoin="round" stroke-linecap="butt"/>
<rect x="1399" y="1630" width="18" height="44" rx="9" fill="#fff" stroke="#000" stroke-width="2.5" transform="rotate(-22 1408 1652)"/>
<path d="M1402,1650L1414,1662" fill="none" stroke="#000" stroke-width="1.4" stroke-linejoin="round" stroke-linecap="butt"/>
<ellipse cx="1425" cy="1690" rx="12" ry="9" fill="none" stroke="#000" stroke-width="2" transform="rotate(40 1425 1690)"/>
<path d="M1418,1682L1430,1700" fill="none" stroke="#000" stroke-width="1.4" stroke-linejoin="round" stroke-linecap="butt"/>
<path d="M1428,1680L1438,1696" fill="none" stroke="#000" stroke-width="1.4" stroke-linejoin="round" stroke-linecap="butt"/>
<path d="M1349.5,1722.3C1352.6,1718.1 1372.3,1715.0 1383.7,1720.0C1395.1,1725.0 1413.2,1744.0 1417.9,1752.0C1422.6,1760.0 1416.3,1765.7 1412.0,1768.0C1407.7,1770.3 1399.8,1769.8 1392.0,1766.0C1384.2,1762.2 1372.1,1752.3 1365.0,1745.0C1357.9,1737.7 1346.4,1726.5 1349.5,1722.3Z" fill="#fff" stroke="#000" stroke-width="2.2" stroke-linejoin="round" stroke-linecap="round"/>
<path d="M1411.0,1729.2C1413.5,1722.7 1432.7,1725.0 1445.2,1729.2C1457.8,1733.4 1480.2,1746.2 1486.3,1754.2C1492.4,1762.2 1486.9,1772.4 1481.7,1777.0C1476.5,1781.6 1463.6,1783.5 1455.0,1782.0C1446.4,1780.5 1437.3,1776.8 1430.0,1768.0C1422.7,1759.2 1408.5,1735.7 1411.0,1729.2Z" fill="#fff" stroke="#000" stroke-width="2.2" stroke-linejoin="round" stroke-linecap="round"/>
<path d="M1430,1735L1440,1770" fill="none" stroke="#000" stroke-width="1.5" stroke-linejoin="round" stroke-linecap="butt"/>
<path d="M1445,1738L1456,1772" fill="none" stroke="#000" stroke-width="1.5" stroke-linejoin="round" stroke-linecap="butt"/>
<path d="M1447.5,1781.6C1449.4,1764.5 1490.5,1762.9 1504.5,1761.0C1518.5,1759.1 1519.6,1759.5 1531.8,1770.2C1544.0,1780.9 1569.8,1812.8 1577.4,1824.9C1585.0,1837.1 1588.8,1835.1 1577.4,1843.1C1566.0,1851.1 1523.0,1869.3 1509.0,1872.7C1495.0,1876.1 1503.3,1878.8 1493.1,1863.6C1482.8,1848.4 1445.6,1798.7 1447.5,1781.6Z" fill="#fff" stroke="#000" stroke-width="2.5" stroke-linejoin="round" stroke-linecap="round"/>
<path d="M1463.5,1790.0C1464.7,1777.5 1494.8,1776.3 1505.0,1775.0C1515.2,1773.7 1515.5,1773.5 1525.0,1782.0C1534.5,1790.5 1556.2,1816.7 1562.0,1826.0C1567.8,1835.3 1568.3,1832.7 1560.0,1838.0C1551.7,1843.3 1522.3,1856.0 1512.0,1858.0C1501.7,1860.0 1506.1,1861.3 1498.0,1850.0C1489.9,1838.7 1462.3,1802.5 1463.5,1790.0Z" fill="none" stroke="#000" stroke-width="1.6" stroke-linejoin="round" stroke-linecap="round"/>
<path d="M1525,1782L1520,1800L1540,1830" fill="none" stroke="#000" stroke-width="1.5" stroke-linejoin="round" stroke-linecap="butt"/>
<path d="M1500,1776L1492,1800" fill="none" stroke="#000" stroke-width="1.5" stroke-linejoin="round" stroke-linecap="butt"/>
<ellipse cx="1349.5" cy="1754.2" rx="4" ry="4.8" fill="#fff" stroke="#000" stroke-width="2"/>
<ellipse cx="1360.9" cy="1766.8" rx="4" ry="4.8" fill="#fff" stroke="#000" stroke-width="2"/>
<ellipse cx="1383.7" cy="1740.5" rx="4" ry="4.8" fill="#fff" stroke="#000" stroke-width="2"/>
<ellipse cx="1396.2" cy="1751.9" rx="4" ry="4.8" fill="#fff" stroke="#000" stroke-width="2"/>
<ellipse cx="1345" cy="1601.5" rx="5" ry="6" fill="#fff" stroke="#000" stroke-width="2"/>
<ellipse cx="1560.3" cy="1838.5" rx="4.5" ry="5.4" fill="#fff" stroke="#000" stroke-width="2"/>
<ellipse cx="1398" cy="1628" rx="3" ry="3.6" fill="#fff" stroke="#000" stroke-width="2"/>
<ellipse cx="1433" cy="1690" rx="3" ry="3.6" fill="#fff" stroke="#000" stroke-width="2"/>
<ellipse cx="1477" cy="1762" rx="3" ry="3.6" fill="#fff" stroke="#000" stroke-width="2"/>
<path d="M1372,1797L1385,1772" fill="none" stroke="#000" stroke-width="1.6" stroke-linejoin="round" stroke-linecap="butt"/>
<path d="M1392,1812L1403,1785" fill="none" stroke="#000" stroke-width="1.6" stroke-linejoin="round" stroke-linecap="butt"/>
<path d="M1416,1822L1428,1800" fill="none" stroke="#000" stroke-width="1.6" stroke-linejoin="round" stroke-linecap="butt"/>
<path d="M1458,1860L1462,1842" fill="none" stroke="#000" stroke-width="1.6" stroke-linejoin="round" stroke-linecap="butt"/>
<text x="1258" y="1640" font-family="Liberation Sans" font-weight="bold" font-size="14" transform="rotate(25 1258 1640)">7</text>
<path d="M1395.0,1488.0L1425.0,1478.0L1443.0,1479.0L1458.0,1500.0L1470.8,1527.9L1492.4,1531.0L1504.7,1537.2L1517.0,1571.0L1544.7,1601.8L1547.8,1614.1L1540.0,1620.0L1497.5,1638.0L1482.5,1628.0L1470.0,1600.0L1460.0,1578.0L1430.0,1543.0L1400.0,1510.0L1392.5,1498.0Z" fill="#fff" stroke="#000" stroke-width="2.8" stroke-linejoin="round" stroke-linecap="round"/>
<path d="M1400,1496L1430,1530L1465,1570L1480,1605L1496,1630" fill="none" stroke="#000" stroke-width="1.6" stroke-linejoin="round" stroke-linecap="butt"/>
<ellipse cx="1409" cy="1486" rx="6" ry="4.5" fill="#fff" stroke="#000" stroke-width="2"/>
<ellipse cx="1410" cy="1487" rx="3" ry="2" fill="#fff" stroke="#000" stroke-width="1.5"/>
<ellipse cx="1430" cy="1483" rx="6" ry="4.5" fill="#fff" stroke="#000" stroke-width="2"/>
<ellipse cx="1431" cy="1484" rx="3" ry="2" fill="#fff" stroke="#000" stroke-width="1.5"/>
<ellipse cx="1489" cy="1535" rx="6" ry="4.5" fill="#fff" stroke="#000" stroke-width="2"/>
<ellipse cx="1490" cy="1536" rx="3" ry="2" fill="#fff" stroke="#000" stroke-width="1.5"/>
<ellipse cx="1460" cy="1563" rx="6" ry="4.5" fill="#fff" stroke="#000" stroke-width="2"/>
<ellipse cx="1461" cy="1564" rx="3" ry="2" fill="#fff" stroke="#000" stroke-width="1.5"/>
<ellipse cx="1530" cy="1605" rx="6" ry="4.5" fill="#fff" stroke="#000" stroke-width="2"/>
<ellipse cx="1531" cy="1606" rx="3" ry="2" fill="#fff" stroke="#000" stroke-width="1.5"/>
<ellipse cx="1498" cy="1628" rx="6" ry="4.5" fill="#fff" stroke="#000" stroke-width="2"/>
<ellipse cx="1499" cy="1629" rx="3" ry="2" fill="#fff" stroke="#000" stroke-width="1.5"/>
<path d="M1453.9,1352.4L1480,1346.3L1557,1404.8L1603.2,1491L1598.6,1521.8L1567.8,1552.6L1518.5,1549.5L1423.1,1404.8L1426.2,1377.1Z" fill="none" stroke="#000" stroke-width="2.2" stroke-linejoin="round" stroke-linecap="butt" stroke-dasharray="8 5.5"/>
<line x1="1450.8" y1="1386.3" x2="1441.6" y2="1403.2" stroke="#000" stroke-width="9.5" stroke-linecap="round"/>
<ellipse cx="1450.8" cy="1386.3" rx="10" ry="6.5" fill="#fff" stroke="#000" stroke-width="2.8"/>
<ellipse cx="1450.8" cy="1386.3" rx="3" ry="2" fill="#fff" stroke="#000" stroke-width="1.5"/>
<line x1="1478.5" y1="1369.4" x2="1470.8" y2="1390.9" stroke="#000" stroke-width="9.5" stroke-linecap="round"/>
<ellipse cx="1478.5" cy="1369.4" rx="10" ry="6.5" fill="#fff" stroke="#000" stroke-width="2.8"/>
<ellipse cx="1478.5" cy="1369.4" rx="3" ry="2" fill="#fff" stroke="#000" stroke-width="1.5"/>
<line x1="1538.5" y1="1420.2" x2="1530.8" y2="1443.3" stroke="#000" stroke-width="9.5" stroke-linecap="round"/>
<ellipse cx="1538.5" cy="1420.2" rx="10" ry="6.5" fill="#fff" stroke="#000" stroke-width="2.8"/>
<ellipse cx="1538.5" cy="1420.2" rx="3" ry="2" fill="#fff" stroke="#000" stroke-width="1.5"/>
<line x1="1509.3" y1="1444.8" x2="1500" y2="1466.4" stroke="#000" stroke-width="9.5" stroke-linecap="round"/>
<ellipse cx="1509.3" cy="1444.8" rx="10" ry="6.5" fill="#fff" stroke="#000" stroke-width="2.8"/>
<ellipse cx="1509.3" cy="1444.8" rx="3" ry="2" fill="#fff" stroke="#000" stroke-width="1.5"/>
<line x1="1581.7" y1="1491" x2="1575.5" y2="1514.1" stroke="#000" stroke-width="9.5" stroke-linecap="round"/>
<ellipse cx="1581.7" cy="1491" rx="10" ry="6.5" fill="#fff" stroke="#000" stroke-width="2.8"/>
<ellipse cx="1581.7" cy="1491" rx="3" ry="2" fill="#fff" stroke="#000" stroke-width="1.5"/>
<line x1="1540.1" y1="1509.5" x2="1532.4" y2="1532.5" stroke="#000" stroke-width="9.5" stroke-linecap="round"/>
<ellipse cx="1540.1" cy="1509.5" rx="10" ry="6.5" fill="#fff" stroke="#000" stroke-width="2.8"/>
<ellipse cx="1540.1" cy="1509.5" rx="3" ry="2" fill="#fff" stroke="#000" stroke-width="1.5"/>
<path d="M1449.4,1235.0L1643.4,1405.0L1648.6,1399.0L1454.6,1229.0Z" fill="#fff" stroke="#000" stroke-width="2.4" stroke-linejoin="round" stroke-linecap="round"/>
<ellipse cx="1436" cy="1220" rx="12" ry="13" fill="#fff" stroke="#000" stroke-width="2.8"/>
<ellipse cx="1426" cy="1222" rx="4" ry="5" fill="#fff" stroke="#000" stroke-width="2"/>
<path d="M1426.8,1228.8L1430.8,1224.8A1.8,4 -45 0 0 1425.2,1219.2L1421.2,1223.2Z" fill="#fff" stroke="#000" stroke-width="2" stroke-linejoin="round" stroke-linecap="round"/>
<ellipse cx="1424" cy="1226" rx="1.8" ry="4" fill="#fff" stroke="#000" stroke-width="2" transform="rotate(-45.0 1424 1226)"/>
<path d="M1648,1400L1666,1398L1690,1418L1696,1440L1686,1452L1664,1448L1650,1430Z" fill="#fff" stroke="#000" stroke-width="2.8" stroke-linejoin="round" stroke-linecap="round"/>
<ellipse cx="1663" cy="1434" rx="4" ry="5" fill="#fff" stroke="#000" stroke-width="2.2"/>
<ellipse cx="1678" cy="1408" rx="4" ry="3" fill="#fff" stroke="#000" stroke-width="2"/>
<path d="M1652,1420L1690,1425" fill="none" stroke="#000" stroke-width="1.8" stroke-linejoin="round" stroke-linecap="butt"/>
<path d="M1776.2,1463.5L1698.7,1427.5A9.6,16 -155.1 0 0 1685.3,1456.5L1762.8,1492.5Z" fill="#fff" stroke="#000" stroke-width="3" stroke-linejoin="round" stroke-linecap="round"/>
<ellipse cx="1769.5" cy="1478" rx="9.6" ry="16" fill="#fff" stroke="#000" stroke-width="3" transform="rotate(-155.08437149159647 1769.5 1478)"/>
<ellipse cx="1769.5" cy="1478" rx="6" ry="11" fill="#fff" stroke="#000" stroke-width="2.5" transform="rotate(25 1769.5 1478)"/>
<ellipse cx="1738" cy="1450" rx="3" ry="2" fill="#000" stroke="#000" stroke-width="1.5"/>
<ellipse cx="1692" cy="1440" rx="8" ry="17" fill="#fff" stroke="#000" stroke-width="2.5" transform="rotate(25 1692 1440)"/>
<path d="M1826,1474L1806.9,1463A15,30 -150 0 0 1776.9,1515L1796,1526Z" fill="#fff" stroke="#000" stroke-width="3" stroke-linejoin="round" stroke-linecap="round"/>
<ellipse cx="1811" cy="1500" rx="15" ry="30" fill="#fff" stroke="#000" stroke-width="3" transform="rotate(-150.00000000000006 1811 1500)"/>
<ellipse cx="1811" cy="1500" rx="7.5" ry="15" fill="#fff" stroke="#000" stroke-width="4.5" transform="rotate(-150 1811 1500)"/>
<ellipse cx="1811" cy="1500" rx="4.8" ry="9.6" fill="#fff" stroke="#000" stroke-width="2" transform="rotate(-150 1811 1500)"/>
<path d="M1873.7,1495.8L1854.6,1484.8A15,30 -150 0 0 1824.6,1536.8L1843.7,1547.8Z" fill="#fff" stroke="#000" stroke-width="3" stroke-linejoin="round" stroke-linecap="round"/>
<ellipse cx="1858.7" cy="1521.8" rx="15" ry="30" fill="#fff" stroke="#000" stroke-width="3" transform="rotate(-150.00000000000006 1858.7 1521.8)"/>
<ellipse cx="1858.7" cy="1521.8" rx="7.5" ry="15" fill="#fff" stroke="#000" stroke-width="4.5" transform="rotate(-150 1858.7 1521.8)"/>
<ellipse cx="1858.7" cy="1521.8" rx="4.8" ry="9.6" fill="#fff" stroke="#000" stroke-width="2" transform="rotate(-150 1858.7 1521.8)"/>
<path d="M1884,1535L1900,1520L1925,1523L1934,1545L1930,1580L1914,1588L1890,1583L1882,1560Z" fill="#fff" stroke="#000" stroke-width="3" stroke-linejoin="round" stroke-linecap="round"/>
<path d="M1900,1520L1905,1545L1934,1545" fill="none" stroke="#000" stroke-width="1.8" stroke-linejoin="round" stroke-linecap="butt"/>
<path d="M1905,1545L1890,1583" fill="none" stroke="#000" stroke-width="1.8" stroke-linejoin="round" stroke-linecap="butt"/>
<path d="M1952.4,1549.8L1926.4,1537.8A12,20 -155.2 0 0 1909.6,1574.2L1935.6,1586.2Z" fill="#fff" stroke="#000" stroke-width="3" stroke-linejoin="round" stroke-linecap="round"/>
<ellipse cx="1944" cy="1568" rx="12" ry="20" fill="#fff" stroke="#000" stroke-width="3" transform="rotate(-155.22485943116808 1944 1568)"/>
<path d="M1924,1540L1924,1574" fill="none" stroke="#000" stroke-width="1.5" stroke-linejoin="round" stroke-linecap="butt"/>
<path d="M1927,1541.2L1927,1575.2" fill="none" stroke="#000" stroke-width="1.5" stroke-linejoin="round" stroke-linecap="butt"/>
<path d="M1930,1542.4L1930,1576.4" fill="none" stroke="#000" stroke-width="1.5" stroke-linejoin="round" stroke-linecap="butt"/>
<path d="M1933,1543.6L1933,1577.6" fill="none" stroke="#000" stroke-width="1.5" stroke-linejoin="round" stroke-linecap="butt"/>
<path d="M1936,1544.8L1936,1578.8" fill="none" stroke="#000" stroke-width="1.5" stroke-linejoin="round" stroke-linecap="butt"/>
<ellipse cx="1944" cy="1568" rx="9" ry="14" fill="#fff" stroke="#000" stroke-width="2.5" transform="rotate(22 1944 1568)"/>
<path d="M1931,1488L1952.5,1426.4A2.9,4.8 -70.8 0 0 1943.5,1423.2L1922,1484.8Z" fill="#fff" stroke="#000" stroke-width="2.6" stroke-linejoin="round" stroke-linecap="round"/>
<ellipse cx="1926.5" cy="1486.4" rx="2.9" ry="4.8" fill="#fff" stroke="#000" stroke-width="2.6" transform="rotate(-70.75968609050302 1926.5 1486.4)"/>
<rect x="1970" y="1576" width="16" height="16" rx="4" fill="#111" transform="rotate(-25 1978 1584)"/>
<ellipse cx="1983" cy="1583" rx="3" ry="5" fill="#fff" stroke="#000" stroke-width="1.5" transform="rotate(-25 1983 1583)"/>
<path d="M1743.3,1758.8L1615.3,1810.8A2.7,4.5 157.9 0 0 1618.7,1819.2L1746.7,1767.2Z" fill="#fff" stroke="#000" stroke-width="2.4" stroke-linejoin="round" stroke-linecap="round"/>
<ellipse cx="1745" cy="1763" rx="2.7" ry="4.5" fill="#fff" stroke="#000" stroke-width="2.4" transform="rotate(157.89055165624833 1745 1763)"/>
<ellipse cx="1745" cy="1763" rx="5" ry="8" fill="#fff" stroke="#000" stroke-width="2.8" transform="rotate(-22 1745 1763)"/>
<line x1="1617" y1="1815" x2="1630" y2="1810" stroke="#000" stroke-width="9" stroke-linecap="round"/>
<line x1="1533" y1="1673" x2="1488" y2="1670.8" stroke="#000" stroke-width="12" stroke-linecap="round"/>
<line x1="1523.4" y1="1672.5" x2="1489.2" y2="1670.9" stroke="#3a3a3a" stroke-width="3.6" stroke-dasharray="1.2 2.2"/>
<ellipse cx="1533" cy="1673" rx="7.5" ry="11" fill="#fff" stroke="#000" stroke-width="3" transform="rotate(-177.19362974821178 1533 1673)"/>
<ellipse cx="1534.6" cy="1673.1" rx="2.8" ry="4.2" fill="#fff" stroke="#000" stroke-width="1.8" transform="rotate(-177.19362974821178 1534.6 1673.1)"/>
<line x1="1257.5" y1="1810.5" x2="1309.5" y2="1787.9" stroke="#000" stroke-width="12" stroke-linecap="round"/>
<line x1="1266.3" y1="1806.7" x2="1308.4" y2="1788.4" stroke="#3a3a3a" stroke-width="3.6" stroke-dasharray="1.2 2.2"/>
<ellipse cx="1257.5" cy="1810.5" rx="7.5" ry="11" fill="#fff" stroke="#000" stroke-width="3" transform="rotate(-23.498565675952097 1257.5 1810.5)"/>
<ellipse cx="1256" cy="1811.2" rx="2.8" ry="4.2" fill="#fff" stroke="#000" stroke-width="1.8" transform="rotate(-23.498565675952097 1256 1811.2)"/>
<ellipse cx="1240" cy="1873" rx="18" ry="9" fill="#fff" stroke="#000" stroke-width="3"/>
<ellipse cx="1240" cy="1871" rx="12" ry="5.5" fill="#fff" stroke="#000" stroke-width="2.5"/>
<line x1="1241" y1="1866" x2="1245" y2="1848" stroke="#000" stroke-width="14" stroke-linecap="round"/>
<ellipse cx="1245" cy="1846" rx="6" ry="3" fill="#333" stroke="#000" stroke-width="1.5"/>
<ellipse cx="1414" cy="1903" rx="12" ry="14" fill="#fff" stroke="#000" stroke-width="3"/>
<path d="M1400,1896L1407,1890L1418,1893L1421,1906L1414,1913L1403,1910Z" fill="#fff" stroke="#000" stroke-width="2.5" stroke-linejoin="round" stroke-linecap="round"/>
<ellipse cx="1408" cy="1904" rx="7" ry="8" fill="#fff" stroke="#000" stroke-width="2.8"/>
<ellipse cx="1408" cy="1905" rx="3" ry="3.5" fill="#000" stroke="#000" stroke-width="2"/>
<path d="M1992.9,1684.2L1993.1,1673.1L1993.8,1662.0L1995.1,1650.8L1997.0,1639.7L1999.5,1628.7L2002.5,1617.8L2006.0,1607.1L2010.1,1596.6L2014.7,1586.5L2019.7,1576.6L2025.2,1567.2L2031.2,1558.2L2037.5,1549.7L2044.2,1541.7L2051.2,1534.3L2058.6,1527.4L2066.2,1521.2L2074.0,1515.7L2082.0,1510.9L2090.2,1506.7L2098.5,1503.3L2106.8,1500.7L2115.2,1498.8L2123.6,1497.6L2131.9,1497.3L2140.1,1497.7L2148.2,1498.9L2156.1,1500.9L2163.8,1503.6L2252.8,1539.6L2260.3,1543.1L2267.5,1547.3L2274.4,1552.3L2280.9,1557.9L2287.0,1564.1L2292.7,1571.0L2298.0,1578.5L2302.8,1586.6L2307.1,1595.1L2310.9,1604.2L2314.2,1613.6L2316.9,1623.5L2319.0,1633.7L2320.6,1644.2L2321.7,1654.9L2322.1,1665.8L2321.9,1676.9L2321.2,1688.0L2319.9,1699.2L2318.0,1710.3L2315.5,1721.3L2312.5,1732.2L2309.0,1742.9L2304.9,1753.4L2300.3,1763.5L2295.3,1773.4L2289.8,1782.8L2283.8,1791.8L2277.5,1800.3L2270.8,1808.3L2263.8,1815.7L2256.4,1822.6L2248.8,1828.8L2241.0,1834.3L2233.0,1839.1L2224.8,1843.3L2216.5,1846.7L2208.2,1849.3L2199.8,1851.2L2191.4,1852.4L2183.1,1852.7L2174.9,1852.3L2166.8,1851.1L2158.9,1849.1L2151.2,1846.4L2062.2,1810.4L2054.7,1806.9L2047.5,1802.7L2040.6,1797.7L2034.1,1792.1L2028.0,1785.9L2022.3,1779.0L2017.0,1771.5L2012.2,1763.4L2007.9,1754.9L2004.1,1745.8L2000.8,1736.4L1998.1,1726.5L1996.0,1716.3L1994.4,1705.8L1993.3,1695.1Z" fill="#fff" stroke="#000" stroke-width="3" stroke-linejoin="round" stroke-linecap="round"/>
<ellipse cx="2128" cy="1659" rx="116" ry="160" fill="none" stroke="#000" stroke-width="2.4" transform="rotate(14 2128 1659)"/>
<ellipse cx="2139" cy="1661" rx="115" ry="159" fill="none" stroke="#000" stroke-width="2.4" transform="rotate(14 2139 1661)"/>
<ellipse cx="2198" cy="1692" rx="116" ry="161" fill="none" stroke="#000" stroke-width="2.2" transform="rotate(14 2198 1692)"/>
<ellipse cx="2202" cy="1693" rx="117" ry="162" fill="#fff" stroke="#000" stroke-width="3" transform="rotate(14 2202 1693)"/>
<ellipse cx="2204" cy="1694" rx="113" ry="158" fill="none" stroke="#000" stroke-width="2" transform="rotate(14 2204 1694)"/>
<ellipse cx="2212" cy="1699" rx="104" ry="143" fill="#fff" stroke="#000" stroke-width="2.5" transform="rotate(14 2212 1699)"/>
<ellipse cx="2219" cy="1705" rx="42" ry="59" fill="none" stroke="#000" stroke-width="2.5" transform="rotate(14 2219 1705)"/>
<ellipse cx="2216" cy="1708" rx="36" ry="52" fill="none" stroke="#000" stroke-width="2.2" transform="rotate(14 2216 1708)"/>
<ellipse cx="2209" cy="1697" rx="24" ry="40" fill="none" stroke="#000" stroke-width="2.2" transform="rotate(14 2209 1697)"/>
<ellipse cx="2203" cy="1697" rx="16" ry="23" fill="#fff" stroke="#000" stroke-width="2.5" transform="rotate(14 2203 1697)"/>
<path d="M2188,1690L2194,1676L2200,1680L2194,1708L2189,1710Z" fill="#fff" stroke="#000" stroke-width="2" stroke-linejoin="round" stroke-linecap="round"/>
<text x="2263" y="1683" font-family="Liberation Sans" font-weight="bold" font-style="italic" font-size="30" transform="rotate(-28 2263 1683)" fill="#fff" stroke="#000" stroke-width="2">TLR</text>
<ellipse cx="2052" cy="1748" rx="4" ry="6" fill="#fff" stroke="#000" stroke-width="2" transform="rotate(-10 2052 1748)"/>
<ellipse cx="2360" cy="1775" rx="28" ry="38" fill="#111" stroke="#000" stroke-width="3" transform="rotate(15 2360 1775)"/>
<path d="M2378,1775L2384,1775" fill="none" stroke="#fff" stroke-width="1.6" stroke-linejoin="round" stroke-linecap="butt"/>
<path d="M2375.6,1788L2380.8,1792" fill="none" stroke="#fff" stroke-width="1.6" stroke-linejoin="round" stroke-linecap="butt"/>
<path d="M2369,1797.5L2372,1804.4" fill="none" stroke="#fff" stroke-width="1.6" stroke-linejoin="round" stroke-linecap="butt"/>
<path d="M2360,1801L2360,1809" fill="none" stroke="#fff" stroke-width="1.6" stroke-linejoin="round" stroke-linecap="butt"/>
<path d="M2351,1797.5L2348,1804.4" fill="none" stroke="#fff" stroke-width="1.6" stroke-linejoin="round" stroke-linecap="butt"/>
<path d="M2344.4,1788L2339.2,1792" fill="none" stroke="#fff" stroke-width="1.6" stroke-linejoin="round" stroke-linecap="butt"/>
<path d="M2342,1775L2336,1775" fill="none" stroke="#fff" stroke-width="1.6" stroke-linejoin="round" stroke-linecap="butt"/>
<path d="M2344.4,1762L2339.2,1758" fill="none" stroke="#fff" stroke-width="1.6" stroke-linejoin="round" stroke-linecap="butt"/>
<path d="M2351,1752.5L2348,1745.6" fill="none" stroke="#fff" stroke-width="1.6" stroke-linejoin="round" stroke-linecap="butt"/>
<path d="M2360,1749L2360,1741" fill="none" stroke="#fff" stroke-width="1.6" stroke-linejoin="round" stroke-linecap="butt"/>
<path d="M2369,1752.5L2372,1745.6" fill="none" stroke="#fff" stroke-width="1.6" stroke-linejoin="round" stroke-linecap="butt"/>
<path d="M2375.6,1762L2380.8,1758" fill="none" stroke="#fff" stroke-width="1.6" stroke-linejoin="round" stroke-linecap="butt"/>
<ellipse cx="2370" cy="1778" rx="21" ry="31" fill="#fff" stroke="#000" stroke-width="3" transform="rotate(15 2370 1778)"/>
<ellipse cx="2372" cy="1779" rx="15" ry="23" fill="#fff" stroke="#000" stroke-width="2.5" transform="rotate(15 2372 1779)"/>
<line x1="2366" y1="1792" x2="2378" y2="1766" stroke="#000" stroke-width="4"/>
<path d="M2791.6,137L2791.6,168A42,12 0 0 0 2875.8,168L2875.8,137Z" fill="#fff" stroke="#000" stroke-width="3" stroke-linejoin="round" stroke-linecap="round"/>
<ellipse cx="2833.7" cy="136.8" rx="42" ry="19" fill="#fff" stroke="#000" stroke-width="3"/>
<ellipse cx="2833.7" cy="140" rx="33" ry="14" fill="#fff" stroke="#000" stroke-width="2"/>
<path d="M2814,140L2816,112Q2822,96 2834,96Q2848,98 2852,115L2856,142Z" fill="#fff" stroke="#000" stroke-width="3" stroke-linejoin="round" stroke-linecap="round"/>
<ellipse cx="2829" cy="118" rx="8" ry="13" fill="#fff" stroke="#000" stroke-width="3"/>
<ellipse cx="2845" cy="131" rx="5" ry="7" fill="#fff" stroke="#000" stroke-width="2.5"/>
<path d="M2810,145L2838,152L2860,140" fill="none" stroke="#000" stroke-width="2" stroke-linejoin="round" stroke-linecap="butt"/>
<text x="2800" y="170" font-family="Liberation Sans" font-weight="bold" font-style="italic" font-size="16" fill="#fff" stroke="#000" stroke-width="1.5" transform="rotate(10 2800 170)">TLR</text>
<ellipse cx="2864" cy="165" rx="1.5" ry="1.5" fill="#000" stroke="#000" stroke-width="1.5"/>
<ellipse cx="2891" cy="130.5" rx="6" ry="8" fill="#fff" stroke="#000" stroke-width="2.5"/>
<ellipse cx="2891" cy="130.5" rx="2.5" ry="4" fill="#fff" stroke="#000" stroke-width="1.5"/>
<ellipse cx="2920" cy="129" rx="7" ry="8" fill="#111" stroke="#000" stroke-width="3"/>
<ellipse cx="2924" cy="129" rx="4" ry="6" fill="#fff" stroke="#000" stroke-width="1.5"/>
<ellipse cx="2833.8" cy="222" rx="40" ry="21" fill="#fff" stroke="#000" stroke-width="3"/>
<ellipse cx="2833.8" cy="214.6" rx="39.8" ry="18.7" fill="#fff" stroke="#000" stroke-width="3"/>
<ellipse cx="2833.8" cy="217" rx="30" ry="13" fill="#fff" stroke="#000" stroke-width="2"/>
<ellipse cx="2833.5" cy="220" rx="24.5" ry="10" fill="#fff" stroke="#000" stroke-width="2.5"/>
<ellipse cx="2833.8" cy="289" rx="40" ry="21" fill="#fff" stroke="#000" stroke-width="3"/>
<ellipse cx="2833.8" cy="280.7" rx="39.8" ry="20.5" fill="#fff" stroke="#000" stroke-width="3"/>
<ellipse cx="2834" cy="281" rx="32" ry="15.5" fill="#fff" stroke="#000" stroke-width="2"/>
<path d="M2826,284Q2834,274 2842,284Q2838,292 2830,292Z" fill="#fff" stroke="#000" stroke-width="2.5" stroke-linejoin="round" stroke-linecap="round"/>
<path d="M2818,283L2826,284" fill="none" stroke="#000" stroke-width="2.5" stroke-linejoin="round" stroke-linecap="butt"/>
<path d="M2842,284L2849,278" fill="none" stroke="#000" stroke-width="2.5" stroke-linejoin="round" stroke-linecap="butt"/>
<path d="M2834,292L2834,296" fill="none" stroke="#000" stroke-width="2.5" stroke-linejoin="round" stroke-linecap="butt"/>
<line x1="2834" y1="333" x2="2834" y2="350" stroke="#000" stroke-width="8" stroke-linecap="round"/>
<ellipse cx="2834" cy="330.5" rx="7" ry="6" fill="#fff" stroke="#000" stroke-width="2.5"/>
<ellipse cx="2834" cy="329" rx="2" ry="1.5" fill="#fff" stroke="#000" stroke-width="1.2"/>
<ellipse cx="2833.7" cy="371" rx="12.9" ry="6" fill="#fff" stroke="#000" stroke-width="3"/>
<ellipse cx="2833.7" cy="369" rx="12.9" ry="6" fill="#fff" stroke="#000" stroke-width="2.5"/>
<ellipse cx="2833.7" cy="369" rx="3" ry="1.8" fill="#fff" stroke="#000" stroke-width="1.5"/>
<ellipse cx="2833.2" cy="409" rx="32" ry="16.5" fill="#fff" stroke="#000" stroke-width="3"/>
<ellipse cx="2833.2" cy="403" rx="32" ry="16.5" fill="#fff" stroke="#000" stroke-width="2.8"/>
<ellipse cx="2833.7" cy="405.3" rx="5" ry="3" fill="#fff" stroke="#000" stroke-width="2"/>
<ellipse cx="2812" cy="402" rx="3" ry="2" fill="#fff" stroke="#000" stroke-width="1.5"/>
<ellipse cx="2817" cy="413" rx="3" ry="2" fill="#fff" stroke="#000" stroke-width="1.5"/>
<ellipse cx="2845" cy="413" rx="3" ry="2" fill="#fff" stroke="#000" stroke-width="1.5"/>
<ellipse cx="2852" cy="401" rx="3" ry="2" fill="#fff" stroke="#000" stroke-width="1.5"/>
<text x="2836" y="400" font-family="Liberation Sans" font-weight="bold" font-size="8" transform="rotate(30 2836 400)">1.6</text>
<ellipse cx="2833.7" cy="446.2" rx="14.6" ry="8" fill="#fff" stroke="#000" stroke-width="3"/>
<ellipse cx="2833.7" cy="446" rx="5" ry="2.5" fill="#fff" stroke="#000" stroke-width="2"/>
<path d="M2826,475L2826,652A7.8,4 0 0 0 2841.6,652L2841.6,475Z" fill="#fff" stroke="#000" stroke-width="2.5" stroke-linejoin="round" stroke-linecap="round"/>
<path d="M2829.5,467L2829.5,477L2837.5,477L2837.5,467Z" fill="#fff" stroke="#000" stroke-width="2.2" stroke-linejoin="round" stroke-linecap="round"/>
<ellipse cx="2833.5" cy="467" rx="4" ry="2" fill="#fff" stroke="#000" stroke-width="1.5"/>
<rect x="2827" y="633" width="13.6" height="23" fill="#111"/>
<path d="M2830,480L2830,632" fill="none" stroke="#000" stroke-width="1.2" stroke-linejoin="round" stroke-linecap="butt"/>
<path d="M2794.6,715L2794.6,815L2798,848L2868,848L2872.2,815L2872.2,715Z" fill="#fff" stroke="#000" stroke-width="3" stroke-linejoin="round" stroke-linecap="round"/>
<path d="M2794.6,724L2794.6,813Q2833,826 2872.2,813L2872.2,724Z" fill="#0a0a0a" stroke="#000" stroke-width="2" stroke-linejoin="round" stroke-linecap="round"/>
<path d="M2790.5,700L2790.5,725Q2833,740 2876.3,725L2876.3,700Z" fill="#fff" stroke="#000" stroke-width="3" stroke-linejoin="round" stroke-linecap="round"/>
<ellipse cx="2834" cy="693" rx="38" ry="23" fill="#fff" stroke="#000" stroke-width="3"/>
<ellipse cx="2834" cy="692" rx="32.5" ry="16.6" fill="#fff" stroke="#000" stroke-width="2"/>
<path d="M2796,830L2810,830L2812,848" fill="none" stroke="#000" stroke-width="2" stroke-linejoin="round" stroke-linecap="butt"/>
<path d="M2856,848L2858,830L2870,830" fill="none" stroke="#000" stroke-width="2" stroke-linejoin="round" stroke-linecap="butt"/>
<path d="M2816,830L2816,846" fill="none" stroke="#000" stroke-width="2" stroke-linejoin="round" stroke-linecap="butt"/>
<path d="M2850,830L2850,846" fill="none" stroke="#000" stroke-width="2" stroke-linejoin="round" stroke-linecap="butt"/>
<path d="M2810,848L2810,866Q2834,874 2859,866L2859,848Z" fill="#fff" stroke="#000" stroke-width="2.8" stroke-linejoin="round" stroke-linecap="round"/>
<path d="M2811,853L2858,853" fill="none" stroke="#000" stroke-width="1.6" stroke-linejoin="round" stroke-linecap="butt"/>
<path d="M2811,858L2858,858" fill="none" stroke="#000" stroke-width="1.6" stroke-linejoin="round" stroke-linecap="butt"/>
<path d="M2811,863L2858,863" fill="none" stroke="#000" stroke-width="1.6" stroke-linejoin="round" stroke-linecap="butt"/>
<ellipse cx="2833.4" cy="897" rx="18" ry="10" fill="#fff" stroke="#000" stroke-width="3"/>
<path d="M2815.4,897L2815.4,897A18,10 0 0 0 2851.4,897L2851.4,897Z" fill="#fff" stroke="none" stroke-width="0" stroke-linejoin="round" stroke-linecap="round"/>
<ellipse cx="2833.4" cy="897" rx="18" ry="10" fill="#fff" stroke="#000" stroke-width="3"/>
<ellipse cx="2833.4" cy="897" rx="7.5" ry="3.3" fill="#fff" stroke="#000" stroke-width="2.5"/>
<ellipse cx="2833.4" cy="941" rx="18.4" ry="9" fill="#fff" stroke="#000" stroke-width="3"/>
<path d="M2815.0,934L2815.0,941A18.4,9 0 0 0 2851.8,941L2851.8,934Z" fill="#fff" stroke="none" stroke-width="0" stroke-linejoin="round" stroke-linecap="round"/>
<ellipse cx="2833.4" cy="934" rx="18.4" ry="9" fill="#fff" stroke="#000" stroke-width="3"/>
<ellipse cx="2833.4" cy="934" rx="11" ry="5" fill="#fff" stroke="#000" stroke-width="2.5"/>
<ellipse cx="2833.4" cy="934" rx="7" ry="3" fill="#fff" stroke="#000" stroke-width="2.2"/>
<ellipse cx="2833.4" cy="983" rx="18.4" ry="9" fill="#fff" stroke="#000" stroke-width="3"/>
<path d="M2815.0,976L2815.0,983A18.4,9 0 0 0 2851.8,983L2851.8,976Z" fill="#fff" stroke="none" stroke-width="0" stroke-linejoin="round" stroke-linecap="round"/>
<ellipse cx="2833.4" cy="976" rx="18.4" ry="9" fill="#fff" stroke="#000" stroke-width="3"/>
<ellipse cx="2833.4" cy="976" rx="6" ry="2.5" fill="#fff" stroke="#000" stroke-width="2.5"/>
<ellipse cx="2833.4" cy="1027" rx="18.4" ry="9" fill="#fff" stroke="#000" stroke-width="3"/>
<path d="M2815.0,1020L2815.0,1027A18.4,9 0 0 0 2851.8,1027L2851.8,1020Z" fill="#fff" stroke="none" stroke-width="0" stroke-linejoin="round" stroke-linecap="round"/>
<ellipse cx="2833.4" cy="1020" rx="18.4" ry="9" fill="#fff" stroke="#000" stroke-width="3"/>
<ellipse cx="2833.4" cy="1020" rx="11" ry="5" fill="#fff" stroke="#000" stroke-width="2.5"/>
<ellipse cx="2833.4" cy="1020" rx="7" ry="3" fill="#fff" stroke="#000" stroke-width="2.2"/>
<ellipse cx="2833.4" cy="1073" rx="22" ry="10" fill="#fff" stroke="#000" stroke-width="3"/>
<path d="M2811.4,1066L2811.4,1073A22,10 0 0 0 2855.4,1073L2855.4,1066Z" fill="#fff" stroke="none" stroke-width="0" stroke-linejoin="round" stroke-linecap="round"/>
<ellipse cx="2833.4" cy="1066" rx="22" ry="10" fill="#fff" stroke="#000" stroke-width="3"/>
<ellipse cx="2833.4" cy="1066" rx="16" ry="7" fill="#fff" stroke="#000" stroke-width="2.5"/>
<ellipse cx="2833.4" cy="1066" rx="6" ry="2.5" fill="#fff" stroke="#000" stroke-width="2.2"/>
<ellipse cx="2833.4" cy="1123.3" rx="27" ry="17" fill="#fff" stroke="#000" stroke-width="3"/>
<ellipse cx="2833.4" cy="1123.3" rx="21" ry="12" fill="#fff" stroke="#000" stroke-width="2.5"/>
<path d="M2803,1180L2803,1205Q2833,1228 2864,1205L2864,1180Z" fill="#111" stroke="#000" stroke-width="3" stroke-linejoin="round" stroke-linecap="round"/>
<ellipse cx="2833.4" cy="1178" rx="30.8" ry="17" fill="#111" stroke="#000" stroke-width="3"/>
<ellipse cx="2833.4" cy="1181" rx="25" ry="13" fill="#111" stroke="#fff" stroke-width="1.5"/>
<path d="M2803,1198L2864,1198" fill="none" stroke="#fff" stroke-width="1.5" stroke-linejoin="round" stroke-linecap="butt"/>
<path d="M2801.7,1272L2818,1375L2820.5,1422L2847,1422L2848,1375L2866,1272Z" fill="#fff" stroke="#000" stroke-width="3" stroke-linejoin="round" stroke-linecap="round"/>
<path d="M2820.5,1416A13.3,5 0 0 0 2847,1416" fill="none" stroke="#000" stroke-width="2.5" stroke-linejoin="round" stroke-linecap="round"/>
<path d="M2818,1375L2848,1375" fill="none" stroke="#000" stroke-width="2" stroke-linejoin="round" stroke-linecap="butt"/>
<ellipse cx="2833.9" cy="1272" rx="32" ry="20" fill="#fff" stroke="#000" stroke-width="3"/>
<ellipse cx="2833.9" cy="1268" rx="26" ry="14" fill="#fff" stroke="#000" stroke-width="2.2"/>
<ellipse cx="2833.9" cy="1270" rx="20" ry="10" fill="#fff" stroke="#000" stroke-width="2"/>
<path d="M2802,1284L2866,1284" fill="none" stroke="#000" stroke-width="0" stroke-linejoin="round" stroke-linecap="butt"/>
<path d="M2802,1283Q2834,1302 2866,1283" fill="none" stroke="#000" stroke-width="3" stroke-linejoin="round" stroke-linecap="round"/>
<ellipse cx="2833.7" cy="1480.7" rx="45.7" ry="28" fill="#fff" stroke="#000" stroke-width="3"/>
<ellipse cx="2833.7" cy="1480.7" rx="39" ry="22" fill="#fff" stroke="#000" stroke-width="2.5"/>
<path d="M2795.5,1580L2797,1600Q2833,1616 2868,1600L2868,1580Z" fill="#fff" stroke="#000" stroke-width="2.8" stroke-linejoin="round" stroke-linecap="round"/>
<path d="M2785.5,1559L2785.5,1575Q2833,1600 2882,1575L2882,1559Z" fill="#111" stroke="#000" stroke-width="3" stroke-linejoin="round" stroke-linecap="round"/>
<ellipse cx="2833.7" cy="1559" rx="48" ry="24" fill="#fff" stroke="#000" stroke-width="3"/>
<ellipse cx="2833.7" cy="1561" rx="39" ry="18" fill="#111" stroke="#000" stroke-width="3"/>
<ellipse cx="2833.7" cy="1565" rx="35" ry="14" fill="#fff" stroke="#000" stroke-width="2"/>
<ellipse cx="2833.7" cy="1652" rx="46" ry="13" fill="none" stroke="#000" stroke-width="3"/>
<ellipse cx="2833.7" cy="1665" rx="46" ry="13" fill="none" stroke="#000" stroke-width="3"/>
<ellipse cx="2833.7" cy="1703" rx="46" ry="13" fill="none" stroke="#000" stroke-width="3"/>
<ellipse cx="2833.7" cy="1743" rx="46" ry="13" fill="none" stroke="#000" stroke-width="3"/>
<ellipse cx="2833.7" cy="1783" rx="46" ry="13" fill="none" stroke="#000" stroke-width="3"/>
<ellipse cx="2833.7" cy="1823" rx="46" ry="13" fill="none" stroke="#000" stroke-width="3"/>
<ellipse cx="2833.7" cy="1863" rx="46" ry="13" fill="none" stroke="#000" stroke-width="3"/>
<ellipse cx="2833.7" cy="1880" rx="46" ry="13" fill="none" stroke="#000" stroke-width="3"/>
<path d="M2788,1684Q2786,1694 2790,1702" fill="none" stroke="#000" stroke-width="3" stroke-linejoin="round" stroke-linecap="round"/>
<path d="M2879,1684Q2881,1694 2877,1702" fill="none" stroke="#000" stroke-width="3" stroke-linejoin="round" stroke-linecap="round"/>
<path d="M2788,1723Q2786,1733 2790,1741" fill="none" stroke="#000" stroke-width="3" stroke-linejoin="round" stroke-linecap="round"/>
<path d="M2879,1723Q2881,1733 2877,1741" fill="none" stroke="#000" stroke-width="3" stroke-linejoin="round" stroke-linecap="round"/>
<path d="M2788,1763Q2786,1773 2790,1781" fill="none" stroke="#000" stroke-width="3" stroke-linejoin="round" stroke-linecap="round"/>
<path d="M2879,1763Q2881,1773 2877,1781" fill="none" stroke="#000" stroke-width="3" stroke-linejoin="round" stroke-linecap="round"/>
<path d="M2788,1803Q2786,1813 2790,1821" fill="none" stroke="#000" stroke-width="3" stroke-linejoin="round" stroke-linecap="round"/>
<path d="M2879,1803Q2881,1813 2877,1821" fill="none" stroke="#000" stroke-width="3" stroke-linejoin="round" stroke-linecap="round"/>
<path d="M2788,1843Q2786,1853 2790,1861" fill="none" stroke="#000" stroke-width="3" stroke-linejoin="round" stroke-linecap="round"/>
<path d="M2879,1843Q2881,1853 2877,1861" fill="none" stroke="#000" stroke-width="3" stroke-linejoin="round" stroke-linecap="round"/>
<path d="M2787,1932L2787,1960Q2800,1985 2834,1986Q2868,1985 2880.5,1960L2880.5,1932Z" fill="#fff" stroke="#000" stroke-width="3" stroke-linejoin="round" stroke-linecap="round"/>
<ellipse cx="2833.7" cy="1932" rx="46" ry="20" fill="#fff" stroke="#000" stroke-width="3"/>
<ellipse cx="2833.7" cy="1936" rx="38" ry="14" fill="#fff" stroke="#000" stroke-width="2.2"/>
<path d="M2808,1920L2812,1942L2850,1948" fill="none" stroke="#000" stroke-width="2" stroke-linejoin="round" stroke-linecap="round"/>
<path d="M2818,1985L2820,1993L2848,1993L2850,1985" fill="none" stroke="#000" stroke-width="2.5" stroke-linejoin="round" stroke-linecap="round"/>
<line x1="2730.5" y1="2013" x2="2758.2" y2="1998.1" stroke="#000" stroke-width="11" stroke-linecap="round"/>
<line x1="2738.2" y1="2008.8" x2="2757.2" y2="1998.6" stroke="#3a3a3a" stroke-width="3.3" stroke-dasharray="1.2 2.2"/>
<ellipse cx="2730.5" cy="2013" rx="6.1" ry="9" fill="#fff" stroke="#000" stroke-width="3" transform="rotate(-28.30075576600638 2730.5 2013)"/>
<ellipse cx="2729.3" cy="2013.6" rx="2.2" ry="3.4" fill="#fff" stroke="#000" stroke-width="1.8" transform="rotate(-28.30075576600638 2729.3 2013.6)"/>
<path d="M2808,2024L2820,2018L2838,2026L2840,2052Q2852,2060 2854,2085Q2852,2105 2832,2106Q2812,2100 2810,2080L2812,2050L2808,2040Z" fill="#fff" stroke="#000" stroke-width="3" stroke-linejoin="round" stroke-linecap="round"/>
<ellipse cx="2823" cy="2083" rx="12" ry="15" fill="#fff" stroke="#000" stroke-width="3"/>
<ellipse cx="2823" cy="2083" rx="6" ry="8" fill="#fff" stroke="#000" stroke-width="2.5"/>
<ellipse cx="2828" cy="2030" rx="7" ry="5" fill="#fff" stroke="#000" stroke-width="2.5"/>
<ellipse cx="2828" cy="2030" rx="3" ry="2" fill="#fff" stroke="#000" stroke-width="1.5"/>
<path d="M2808,2024L2818,2034L2838,2026" fill="none" stroke="#000" stroke-width="1.8" stroke-linejoin="round" stroke-linecap="butt"/>
<ellipse cx="2784" cy="2103" rx="13" ry="12" fill="#fff" stroke="#000" stroke-width="3"/>
<ellipse cx="2775" cy="2106" rx="7" ry="9" fill="#fff" stroke="#000" stroke-width="3"/>
<ellipse cx="2775" cy="2106" rx="3" ry="4.5" fill="#fff" stroke="#000" stroke-width="2"/>
<g><path d="M140,2080 L212,2080 Q232,2082 229,2100 L227,2112 L230,2118 L225,2136 Q218,2154 190,2155 L120,2155 Q106,2154 108,2140 L110,2124 L113,2118 L112,2108 Q116,2082 140,2080 Z" fill="#1a1a1a" stroke="#1a1a1a" stroke-width="12" stroke-linejoin="round" transform="translate(-1.5 2)"/><path d="M140,2080 L212,2080 Q232,2082 229,2100 L227,2112 L230,2118 L225,2136 Q218,2154 190,2155 L120,2155 Q106,2154 108,2140 L110,2124 L113,2118 L112,2108 Q116,2082 140,2080 Z" fill="#1a1a1a" stroke="#1a1a1a" stroke-width="11" stroke-linejoin="round"/><path d="M140,2080 L212,2080 Q232,2082 229,2100 L227,2112 L230,2118 L225,2136 Q218,2154 190,2155 L120,2155 Q106,2154 108,2140 L110,2124 L113,2118 L112,2108 Q116,2082 140,2080 Z" fill="#fff" stroke="#fff" stroke-width="4.2" stroke-linejoin="round"/><path d="M140,2080 L212,2080 Q232,2082 229,2100 L227,2112 L230,2118 L225,2136 Q218,2154 190,2155 L120,2155 Q106,2154 108,2140 L110,2124 L113,2118 L112,2108 Q116,2082 140,2080 Z" fill="#fff" stroke="#555" stroke-width="1.3" stroke-linejoin="round"/></g><g><path d="M243,2093 L260,2093 L249,2153 L231,2153 Z" fill="#1a1a1a" stroke="#1a1a1a" stroke-width="12" stroke-linejoin="round" transform="translate(-1.5 2)"/><path d="M243,2093 L260,2093 L249,2153 L231,2153 Z" fill="#1a1a1a" stroke="#1a1a1a" stroke-width="11" stroke-linejoin="round"/><path d="M243,2093 L260,2093 L249,2153 L231,2153 Z" fill="#fff" stroke="#fff" stroke-width="4.2" stroke-linejoin="round"/><path d="M243,2093 L260,2093 L249,2153 L231,2153 Z" fill="#fff" stroke="#555" stroke-width="1.3" stroke-linejoin="round"/></g><g><path d="M292,2093 L349,2093 L347,2106 L298,2106 Q291,2107 290,2112 L284,2141 L318,2141 Q325,2140 327,2128 L300,2128 L302,2117 L347,2117 L343,2136 Q337,2154 318,2154 L268,2154 Q261,2154 263,2146 L272,2106 Q276,2094 292,2093 Z" fill="#1a1a1a" stroke="#1a1a1a" stroke-width="12" stroke-linejoin="round" transform="translate(-1.5 2)"/><path d="M292,2093 L349,2093 L347,2106 L298,2106 Q291,2107 290,2112 L284,2141 L318,2141 Q325,2140 327,2128 L300,2128 L302,2117 L347,2117 L343,2136 Q337,2154 318,2154 L268,2154 Q261,2154 263,2146 L272,2106 Q276,2094 292,2093 Z" fill="#1a1a1a" stroke="#1a1a1a" stroke-width="11" stroke-linejoin="round"/><path d="M292,2093 L349,2093 L347,2106 L298,2106 Q291,2107 290,2112 L284,2141 L318,2141 Q325,2140 327,2128 L300,2128 L302,2117 L347,2117 L343,2136 Q337,2154 318,2154 L268,2154 Q261,2154 263,2146 L272,2106 Q276,2094 292,2093 Z" fill="#fff" stroke="#fff" stroke-width="4.2" stroke-linejoin="round"/><path d="M292,2093 L349,2093 L347,2106 L298,2106 Q291,2107 290,2112 L284,2141 L318,2141 Q325,2140 327,2128 L300,2128 L302,2117 L347,2117 L343,2136 Q337,2154 318,2154 L268,2154 Q261,2154 263,2146 L272,2106 Q276,2094 292,2093 Z" fill="#fff" stroke="#555" stroke-width="1.3" stroke-linejoin="round"/></g><g><path d="M352,2093 L377,2093 L372,2118 L416,2118 L421,2093 L440,2093 L428,2153 L408,2153 L413,2130 L369,2130 L365,2153 L342,2153 Z" fill="#1a1a1a" stroke="#1a1a1a" stroke-width="12" stroke-linejoin="round" transform="translate(-1.5 2)"/><path d="M352,2093 L377,2093 L372,2118 L416,2118 L421,2093 L440,2093 L428,2153 L408,2153 L413,2130 L369,2130 L365,2153 L342,2153 Z" fill="#1a1a1a" stroke="#1a1a1a" stroke-width="11" stroke-linejoin="round"/><path d="M352,2093 L377,2093 L372,2118 L416,2118 L421,2093 L440,2093 L428,2153 L408,2153 L413,2130 L369,2130 L365,2153 L342,2153 Z" fill="#fff" stroke="#fff" stroke-width="4.2" stroke-linejoin="round"/><path d="M352,2093 L377,2093 L372,2118 L416,2118 L421,2093 L440,2093 L428,2153 L408,2153 L413,2130 L369,2130 L365,2153 L342,2153 Z" fill="#fff" stroke="#555" stroke-width="1.3" stroke-linejoin="round"/></g><g><path d="M446,2093 L530,2093 L528,2103.5 L496,2103.5 L487,2153 L466,2153 L474,2103.5 L444,2103.5 Z" fill="#1a1a1a" stroke="#1a1a1a" stroke-width="12" stroke-linejoin="round" transform="translate(-1.5 2)"/><path d="M446,2093 L530,2093 L528,2103.5 L496,2103.5 L487,2153 L466,2153 L474,2103.5 L444,2103.5 Z" fill="#1a1a1a" stroke="#1a1a1a" stroke-width="11" stroke-linejoin="round"/><path d="M446,2093 L530,2093 L528,2103.5 L496,2103.5 L487,2153 L466,2153 L474,2103.5 L444,2103.5 Z" fill="#fff" stroke="#fff" stroke-width="4.2" stroke-linejoin="round"/><path d="M446,2093 L530,2093 L528,2103.5 L496,2103.5 L487,2153 L466,2153 L474,2103.5 L444,2103.5 Z" fill="#fff" stroke="#555" stroke-width="1.3" stroke-linejoin="round"/></g><path d="M149,2096.5 L199,2096.5 Q208,2097 205,2102 Q202,2107.5 195,2107.5 L144,2107.5 Q140,2107.5 141.5,2103.5 Q144,2097 149,2096.5 Z" fill="#1a1a1a" stroke="#fff" stroke-width="3"/><path d="M149,2096.5 L199,2096.5 Q208,2097 205,2102 Q202,2107.5 195,2107.5 L144,2107.5 Q140,2107.5 141.5,2103.5 Q144,2097 149,2096.5 Z" fill="#1a1a1a" stroke="#666" stroke-width="1"/><path d="M143,2125 L196,2125 Q201,2125 199.5,2129 Q196,2137.5 186,2137.5 L140,2137.5 Q136,2137.5 137,2132 Q138.5,2125 143,2125 Z" fill="#1a1a1a" stroke="#fff" stroke-width="3"/><path d="M143,2125 L196,2125 Q201,2125 199.5,2129 Q196,2137.5 186,2137.5 L140,2137.5 Q136,2137.5 137,2132 Q138.5,2125 143,2125 Z" fill="#1a1a1a" stroke="#666" stroke-width="1"/><g><path d="M511,2118 L537,2118 L535,2129 L509,2129 Z" fill="#1a1a1a" stroke="#1a1a1a" stroke-width="12" stroke-linejoin="round" transform="translate(-1.5 2)"/><path d="M511,2118 L537,2118 L535,2129 L509,2129 Z" fill="#1a1a1a" stroke="#1a1a1a" stroke-width="11" stroke-linejoin="round"/><path d="M511,2118 L537,2118 L535,2129 L509,2129 Z" fill="#fff" stroke="#fff" stroke-width="4.2" stroke-linejoin="round"/><path d="M511,2118 L537,2118 L535,2129 L509,2129 Z" fill="#fff" stroke="#555" stroke-width="1.3" stroke-linejoin="round"/></g><g><path d="M626,2096 L690,2096 Q694,2097 693,2101 L692,2104 L634,2104 L633,2111 L678,2111 L677,2119 L630,2119 Q629,2127 634,2129 L683,2129 L681,2139 L634,2139 Q618,2138 619,2122 Q620,2108 626,2096 Z" fill="#1a1a1a" stroke="#1a1a1a" stroke-width="12" stroke-linejoin="round" transform="translate(-1.5 2)"/><path d="M626,2096 L690,2096 Q694,2097 693,2101 L692,2104 L634,2104 L633,2111 L678,2111 L677,2119 L630,2119 Q629,2127 634,2129 L683,2129 L681,2139 L634,2139 Q618,2138 619,2122 Q620,2108 626,2096 Z" fill="#1a1a1a" stroke="#1a1a1a" stroke-width="11" stroke-linejoin="round"/><path d="M626,2096 L690,2096 Q694,2097 693,2101 L692,2104 L634,2104 L633,2111 L678,2111 L677,2119 L630,2119 Q629,2127 634,2129 L683,2129 L681,2139 L634,2139 Q618,2138 619,2122 Q620,2108 626,2096 Z" fill="#fff" stroke="#fff" stroke-width="4.2" stroke-linejoin="round"/><path d="M626,2096 L690,2096 Q694,2097 693,2101 L692,2104 L634,2104 L633,2111 L678,2111 L677,2119 L630,2119 Q629,2127 634,2129 L683,2129 L681,2139 L634,2139 Q618,2138 619,2122 Q620,2108 626,2096 Z" fill="#fff" stroke="#555" stroke-width="1.3" stroke-linejoin="round"/></g><g><path d="M508,2075 L512,2072.5 L549.7,2072.5 L576.8,2098.3 L605.1,2072.5 L642.7,2072.5 L595.3,2119.4 L642.1,2166.2 L597.9,2166.2 L570.2,2141.1 L546.4,2166.2 L508.2,2168.8 L554.4,2119.4 Z" fill="#1a1a1a" stroke="#1a1a1a" stroke-width="2" stroke-linejoin="miter"/><path d="M524,2077.2 L547.1,2077.2 L576.8,2105.5 L604.5,2077.2 L630.9,2077.2 L591.3,2119.4 L631.5,2161.6 L605.8,2161.6 L577.4,2133.2 L547.8,2161.6 L522.7,2161.6 L562.3,2120 Z" fill="#1a1a1a" stroke="#fff" stroke-width="2.6" stroke-linejoin="miter"/><path d="M511,2171 L555,2171 Q563,2171 563,2179 L563,2187 Q563,2191 556,2193 L533,2198.5 L563,2198.5 L563,2208 L511,2208 L511,2198.5 L545,2187 Q548,2186 548,2184 L548,2182 L511,2182 Z" fill="#1a1a1a" stroke="#1a1a1a" stroke-width="7" stroke-linejoin="round"/><path d="M565,2197.5 L584,2197.5 L584,2208.5 L565,2208.5 Z" fill="#1a1a1a" stroke="#1a1a1a" stroke-width="7" stroke-linejoin="round"/><path d="M595,2168.5 L636,2168.5 Q644,2168.5 644,2177 L644,2200 Q644,2208.5 636,2208.5 L595,2208.5 Q587,2208.5 587,2200 L587,2177 Q587,2168.5 595,2168.5 Z M602.5,2178 L602.5,2198.5 L627.6,2198.5 L627.6,2178 Z" fill="#1a1a1a" stroke="#1a1a1a" stroke-width="7" stroke-linejoin="round" fill-rule="evenodd"/><path d="M511,2171 L555,2171 Q563,2171 563,2179 L563,2187 Q563,2191 556,2193 L533,2198.5 L563,2198.5 L563,2208 L511,2208 L511,2198.5 L545,2187 Q548,2186 548,2184 L548,2182 L511,2182 Z" fill="#d6d6d8" stroke="#fff" stroke-width="1"/><path d="M565,2197.5 L584,2197.5 L584,2208.5 L565,2208.5 Z" fill="#d6d6d8" stroke="#fff" stroke-width="1"/><path d="M595,2168.5 L636,2168.5 Q644,2168.5 644,2177 L644,2200 Q644,2208.5 636,2208.5 L595,2208.5 Q587,2208.5 587,2200 L587,2177 Q587,2168.5 595,2168.5 Z M602.5,2178 L602.5,2198.5 L627.6,2198.5 L627.6,2178 Z" fill="#d6d6d8" stroke="#fff" stroke-width="1" fill-rule="evenodd"/><text x="646" y="2081" font-family="Liberation Sans" font-weight="bold" font-size="9">TM</text></g><g transform="translate(620 0)"><path d="M140,2080 L212,2080 Q232,2082 229,2100 L227,2112 L230,2118 L225,2136 Q218,2154 190,2155 L120,2155 Q106,2154 108,2140 L110,2124 L113,2118 L112,2108 Q116,2082 140,2080 Z" fill="#1a1a1a" stroke="#1a1a1a" stroke-width="12" stroke-linejoin="round" transform="translate(-1.5 2)"/><path d="M140,2080 L212,2080 Q232,2082 229,2100 L227,2112 L230,2118 L225,2136 Q218,2154 190,2155 L120,2155 Q106,2154 108,2140 L110,2124 L113,2118 L112,2108 Q116,2082 140,2080 Z" fill="#1a1a1a" stroke="#1a1a1a" stroke-width="11" stroke-linejoin="round"/><path d="M140,2080 L212,2080 Q232,2082 229,2100 L227,2112 L230,2118 L225,2136 Q218,2154 190,2155 L120,2155 Q106,2154 108,2140 L110,2124 L113,2118 L112,2108 Q116,2082 140,2080 Z" fill="#fff" stroke="#fff" stroke-width="4.2" stroke-linejoin="round"/><path d="M140,2080 L212,2080 Q232,2082 229,2100 L227,2112 L230,2118 L225,2136 Q218,2154 190,2155 L120,2155 Q106,2154 108,2140 L110,2124 L113,2118 L112,2108 Q116,2082 140,2080 Z" fill="#fff" stroke="#555" stroke-width="1.3" stroke-linejoin="round"/></g><g transform="translate(620 0)"><path d="M243,2093 L260,2093 L249,2153 L231,2153 Z" fill="#1a1a1a" stroke="#1a1a1a" stroke-width="12" stroke-linejoin="round" transform="translate(-1.5 2)"/><path d="M243,2093 L260,2093 L249,2153 L231,2153 Z" fill="#1a1a1a" stroke="#1a1a1a" stroke-width="11" stroke-linejoin="round"/><path d="M243,2093 L260,2093 L249,2153 L231,2153 Z" fill="#fff" stroke="#fff" stroke-width="4.2" stroke-linejoin="round"/><path d="M243,2093 L260,2093 L249,2153 L231,2153 Z" fill="#fff" stroke="#555" stroke-width="1.3" stroke-linejoin="round"/></g><g transform="translate(620 0)"><path d="M292,2093 L349,2093 L347,2106 L298,2106 Q291,2107 290,2112 L284,2141 L318,2141 Q325,2140 327,2128 L300,2128 L302,2117 L347,2117 L343,2136 Q337,2154 318,2154 L268,2154 Q261,2154 263,2146 L272,2106 Q276,2094 292,2093 Z" fill="#1a1a1a" stroke="#1a1a1a" stroke-width="12" stroke-linejoin="round" transform="translate(-1.5 2)"/><path d="M292,2093 L349,2093 L347,2106 L298,2106 Q291,2107 290,2112 L284,2141 L318,2141 Q325,2140 327,2128 L300,2128 L302,2117 L347,2117 L343,2136 Q337,2154 318,2154 L268,2154 Q261,2154 263,2146 L272,2106 Q276,2094 292,2093 Z" fill="#1a1a1a" stroke="#1a1a1a" stroke-width="11" stroke-linejoin="round"/><path d="M292,2093 L349,2093 L347,2106 L298,2106 Q291,2107 290,2112 L284,2141 L318,2141 Q325,2140 327,2128 L300,2128 L302,2117 L347,2117 L343,2136 Q337,2154 318,2154 L268,2154 Q261,2154 263,2146 L272,2106 Q276,2094 292,2093 Z" fill="#fff" stroke="#fff" stroke-width="4.2" stroke-linejoin="round"/><path d="M292,2093 L349,2093 L347,2106 L298,2106 Q291,2107 290,2112 L284,2141 L318,2141 Q325,2140 327,2128 L300,2128 L302,2117 L347,2117 L343,2136 Q337,2154 318,2154 L268,2154 Q261,2154 263,2146 L272,2106 Q276,2094 292,2093 Z" fill="#fff" stroke="#555" stroke-width="1.3" stroke-linejoin="round"/></g><g transform="translate(620 0)"><path d="M352,2093 L377,2093 L372,2118 L416,2118 L421,2093 L440,2093 L428,2153 L408,2153 L413,2130 L369,2130 L365,2153 L342,2153 Z" fill="#1a1a1a" stroke="#1a1a1a" stroke-width="12" stroke-linejoin="round" transform="translate(-1.5 2)"/><path d="M352,2093 L377,2093 L372,2118 L416,2118 L421,2093 L440,2093 L428,2153 L408,2153 L413,2130 L369,2130 L365,2153 L342,2153 Z" fill="#1a1a1a" stroke="#1a1a1a" stroke-width="11" stroke-linejoin="round"/><path d="M352,2093 L377,2093 L372,2118 L416,2118 L421,2093 L440,2093 L428,2153 L408,2153 L413,2130 L369,2130 L365,2153 L342,2153 Z" fill="#fff" stroke="#fff" stroke-width="4.2" stroke-linejoin="round"/><path d="M352,2093 L377,2093 L372,2118 L416,2118 L421,2093 L440,2093 L428,2153 L408,2153 L413,2130 L369,2130 L365,2153 L342,2153 Z" fill="#fff" stroke="#555" stroke-width="1.3" stroke-linejoin="round"/></g><g transform="translate(620 0)"><path d="M446,2093 L530,2093 L528,2103.5 L496,2103.5 L487,2153 L466,2153 L474,2103.5 L444,2103.5 Z" fill="#1a1a1a" stroke="#1a1a1a" stroke-width="12" stroke-linejoin="round" transform="translate(-1.5 2)"/><path d="M446,2093 L530,2093 L528,2103.5 L496,2103.5 L487,2153 L466,2153 L474,2103.5 L444,2103.5 Z" fill="#1a1a1a" stroke="#1a1a1a" stroke-width="11" stroke-linejoin="round"/><path d="M446,2093 L530,2093 L528,2103.5 L496,2103.5 L487,2153 L466,2153 L474,2103.5 L444,2103.5 Z" fill="#fff" stroke="#fff" stroke-width="4.2" stroke-linejoin="round"/><path d="M446,2093 L530,2093 L528,2103.5 L496,2103.5 L487,2153 L466,2153 L474,2103.5 L444,2103.5 Z" fill="#fff" stroke="#555" stroke-width="1.3" stroke-linejoin="round"/></g><path d="M149,2096.5 L199,2096.5 Q208,2097 205,2102 Q202,2107.5 195,2107.5 L144,2107.5 Q140,2107.5 141.5,2103.5 Q144,2097 149,2096.5 Z" fill="#1a1a1a" stroke="#fff" stroke-width="3" transform="translate(620 0)"/><path d="M149,2096.5 L199,2096.5 Q208,2097 205,2102 Q202,2107.5 195,2107.5 L144,2107.5 Q140,2107.5 141.5,2103.5 Q144,2097 149,2096.5 Z" fill="#1a1a1a" stroke="#666" stroke-width="1" transform="translate(620 0)"/><path d="M143,2125 L196,2125 Q201,2125 199.5,2129 Q196,2137.5 186,2137.5 L140,2137.5 Q136,2137.5 137,2132 Q138.5,2125 143,2125 Z" fill="#1a1a1a" stroke="#fff" stroke-width="3" transform="translate(620 0)"/><path d="M143,2125 L196,2125 Q201,2125 199.5,2129 Q196,2137.5 186,2137.5 L140,2137.5 Q136,2137.5 137,2132 Q138.5,2125 143,2125 Z" fill="#1a1a1a" stroke="#666" stroke-width="1" transform="translate(620 0)"/><g transform="translate(619 0)"><path d="M511,2118 L537,2118 L535,2129 L509,2129 Z" fill="#1a1a1a" stroke="#1a1a1a" stroke-width="12" stroke-linejoin="round" transform="translate(-1.5 2)"/><path d="M511,2118 L537,2118 L535,2129 L509,2129 Z" fill="#1a1a1a" stroke="#1a1a1a" stroke-width="11" stroke-linejoin="round"/><path d="M511,2118 L537,2118 L535,2129 L509,2129 Z" fill="#fff" stroke="#fff" stroke-width="4.2" stroke-linejoin="round"/><path d="M511,2118 L537,2118 L535,2129 L509,2129 Z" fill="#fff" stroke="#555" stroke-width="1.3" stroke-linejoin="round"/></g><g transform="translate(611 0)"><path d="M508,2075 L512,2072.5 L549.7,2072.5 L576.8,2098.3 L605.1,2072.5 L642.7,2072.5 L595.3,2119.4 L642.1,2166.2 L597.9,2166.2 L570.2,2141.1 L546.4,2166.2 L508.2,2168.8 L554.4,2119.4 Z" fill="#1a1a1a" stroke="#1a1a1a" stroke-width="2" stroke-linejoin="miter"/><path d="M524,2077.2 L547.1,2077.2 L576.8,2105.5 L604.5,2077.2 L630.9,2077.2 L591.3,2119.4 L631.5,2161.6 L605.8,2161.6 L577.4,2133.2 L547.8,2161.6 L522.7,2161.6 L562.3,2120 Z" fill="#1a1a1a" stroke="#fff" stroke-width="2.6" stroke-linejoin="miter"/><path d="M511,2171 L555,2171 Q563,2171 563,2179 L563,2187 Q563,2191 556,2193 L533,2198.5 L563,2198.5 L563,2208 L511,2208 L511,2198.5 L545,2187 Q548,2186 548,2184 L548,2182 L511,2182 Z" fill="#1a1a1a" stroke="#1a1a1a" stroke-width="7" stroke-linejoin="round"/><path d="M565,2197.5 L584,2197.5 L584,2208.5 L565,2208.5 Z" fill="#1a1a1a" stroke="#1a1a1a" stroke-width="7" stroke-linejoin="round"/><path d="M595,2168.5 L636,2168.5 Q644,2168.5 644,2177 L644,2200 Q644,2208.5 636,2208.5 L595,2208.5 Q587,2208.5 587,2200 L587,2177 Q587,2168.5 595,2168.5 Z M602.5,2178 L602.5,2198.5 L627.6,2198.5 L627.6,2178 Z" fill="#1a1a1a" stroke="#1a1a1a" stroke-width="7" stroke-linejoin="round" fill-rule="evenodd"/><path d="M511,2171 L555,2171 Q563,2171 563,2179 L563,2187 Q563,2191 556,2193 L533,2198.5 L563,2198.5 L563,2208 L511,2208 L511,2198.5 L545,2187 Q548,2186 548,2184 L548,2182 L511,2182 Z" fill="#d6d6d8" stroke="#fff" stroke-width="1"/><path d="M565,2197.5 L584,2197.5 L584,2208.5 L565,2208.5 Z" fill="#d6d6d8" stroke="#fff" stroke-width="1"/><path d="M595,2168.5 L636,2168.5 Q644,2168.5 644,2177 L644,2200 Q644,2208.5 636,2208.5 L595,2208.5 Q587,2208.5 587,2200 L587,2177 Q587,2168.5 595,2168.5 Z M602.5,2178 L602.5,2198.5 L627.6,2198.5 L627.6,2178 Z" fill="#d6d6d8" stroke="#fff" stroke-width="1" fill-rule="evenodd"/><text x="646" y="2081" font-family="Liberation Sans" font-weight="bold" font-size="9">TM</text></g>
<path d="M405.0,247.0L398.2,351.0M526.8,483.5L526.8,522.2L456.9,552.0M538.0,600.0L538.0,639.5L512.0,654.5M228.5,716.5L228.5,735.0L286.7,766.4M228.5,841.0L228.5,859.0L305.4,883.5M297.5,932.5L357.0,952.7M301.0,986.0L353.6,999.5M301.0,1047.5L354.5,1051.2M176.0,1185.0L176.0,1157.5L228.8,1141.3M176.0,1212.5L176.0,1227.5L218.0,1267.6M635.0,1255.0L604.5,1220.9M635.0,1255.0L571.3,1284.9M525.0,1357.5L449.0,1362.8M465.0,1395.0L448.3,1399.9M270.0,1424.0L305.6,1356.9M474.0,1452.5L446.9,1450.4M536.0,1547.5L499.0,1545.1M487.5,1652.5L460.5,1653.1M394.0,1939.0L396.8,1868.0M627.5,766.0L696.9,831.6M797.5,1050.0L790.3,949.0M1354.0,206.0L1318.3,286.1M1148.5,280.0L1158.0,336.3M1012.5,335.0L1061.5,386.0M1019.0,448.5L1092.5,448.5L1088.6,463.6M1092.5,448.5L1100.3,477.6M1459.0,445.0L1445.5,445.0M1511.0,556.0L1462.6,545.0M1334.0,660.0L1316.0,660.0L1308.2,617.7M1250.0,717.5L1232.5,717.5L1232.5,637.5L1203.3,581.0M1232.5,637.5L1244.9,621.7M1206.0,782.5L1172.5,782.5L1166.5,766.8M970.0,627.5L961.5,646.1M970.0,627.5L1007.3,695.2M1037.5,842.5L972.5,842.5L919.5,757.8M972.5,842.5L977.2,827.2M1706.0,660.0L1756.0,660.0L1820.0,798.7M1756.0,660.0L1899.6,862.8M1692.5,702.5L1722.5,702.5L1734.2,817.1M1854.0,685.0L1889.5,756.4M1595.0,764.0L1588.3,799.8M1472.5,832.5L1485.8,971.1M1385.0,884.0L1421.6,1027.6M1992.5,591.5L1999.6,634.7M2414.0,567.5L2317.9,557.0M2257.5,672.5L2190.2,660.6M2074.0,759.0L2039.5,746.9M2017.5,805.0L1985.1,783.8M2360.0,771.0L2339.0,771.0L2325.5,851.2M2602.5,795.0L2444.1,860.6M2602.5,795.0L2607.0,952.0M2360.0,950.0L2360.0,937.5L2387.8,907.2M2360.0,987.5L2360.0,1002.5L2190.4,982.1M2452.5,1015.0L2477.6,958.9M1986.0,952.5L1977.3,1069.5M2067.5,1077.0L2067.5,1098.7L1991.9,1117.9M2085.5,1187.7L1999.7,1125.9L1987.9,1133.0M2085.5,1187.7L2013.4,1168.7M2186.0,1085.0L2186.0,1062.5L2076.4,1012.5M1880.0,1011.0L1894.0,1011.0L1915.2,1087.7M1860.0,1056.0L1877.5,1056.0L1892.8,1177.1M1659.0,1100.0L1762.1,1109.4M1507.5,1167.5L1497.5,1239.7M1615.0,1195.0L1615.0,1167.5L1721.0,1166.2M2034.0,1255.0L2022.5,1255.0L2005.2,1237.7M2050.0,1302.5L1982.9,1296.6M1645.0,1306.0L1645.0,1325.0L1824.6,1347.7M1802.5,1380.0L1818.7,1387.5M1947.5,1375.0L1915.5,1376.6M1987.5,1465.0L1975.0,1465.0L1962.7,1462.5M1975.0,1465.0L1950.1,1518.7M2468.0,1152.5L2454.9,1151.4M2635.5,1191.0L2635.5,1177.5L2612.1,1077.5M2635.5,1225.0L2635.5,1239.0L2547.0,1239.0L2385.2,1187.9M2265.5,1211.0L2282.8,1095.3M1077.5,1127.5L1077.5,1170.0L1092.8,1186.7M846.5,1170.0L846.5,1197.5L899.7,1249.9M989.0,1174.0L989.0,1206.0L1038.0,1253.2M989.0,1206.0L1134.0,1302.4M806.0,1201.0L839.0,1201.0L877.1,1317.9M839.0,1201.0L949.6,1379.2M1385.0,1287.5L1393.1,1320.0M1250.0,1475.0L1266.6,1443.4M1324.0,1516.0L1343.6,1427.6M1165.0,1547.5L1146.9,1504.1M1680.0,1515.0L1680.0,1489.0L1623.0,1491.7M1580.0,1590.0L1557.9,1592.8M1772.5,1634.0L1789.2,1545.7M1772.5,1634.0L1823.4,1563.6M1591.0,1708.0L1557.1,1691.0M1911.0,1730.5L1962.7,1613.5M782.5,1574.0L795.3,1470.4M1022.5,1589.0L1022.5,1550.5M931.0,1659.0L943.3,1590.2M1144.0,1740.5L1233.4,1791.6M1096.0,1860.5L1230.2,1820.6M1227.5,1920.5L1230.7,1903.2M1692.5,1915.5L1682.0,1820.9M1476.0,1978.0L1479.1,1915.0M1316.0,2014.0L1383.9,1927.2M2475.5,1616.0L2346.0,1620.8M2472.0,1725.5L2410.3,1743.9M2733.0,134.0L2772.6,137.4M2930.5,200.0L2912.0,200.0L2898.9,162.0M2912.0,200.0L2916.5,167.8M2695.5,269.0L2695.5,256.0L2773.5,228.5M2929.0,266.0L2894.5,274.6M2929.0,317.5L2858.0,334.8M2932.0,359.0L2869.9,366.8M2932.0,406.0L2886.0,405.3M2932.0,450.0L2866.0,446.9M2932.0,562.5L2858.4,554.5M2929.0,756.0L2891.0,757.7M2927.0,894.0L2873.5,895.5M2927.0,932.5L2873.5,936.2M2927.0,972.5L2873.5,975.1M2927.0,1017.5L2873.4,1023.1M2927.0,1064.0L2875.9,1068.4M2924.0,1115.0L2880.9,1119.2M2925.5,1177.5L2885.7,1184.4M2925.5,1321.5L2880.0,1318.6M2929.0,1530.0L2909.0,1530.0L2892.1,1504.9M2909.0,1530.0L2896.7,1542.3M2925.5,1740.5L2899.2,1748.7M2689.0,1875.5L2689.0,1949.0L2767.5,1952.3M2689.0,1949.0L2727.3,1984.7M2688.0,2090.5L2798.1,2062.4M2688.0,2090.5L2747.7,2100.1" fill="none" stroke="#000" stroke-width="2.3" stroke-linejoin="miter"/>
<path d="M397.0,369.0L390.2,344.5L398.3,349.0L407.0,345.6ZM440.3,559.1L459.1,542.0L458.7,551.3L465.7,557.4ZM496.4,663.5L513.0,644.2L513.7,653.5L521.4,658.8ZM302.5,775.0L277.4,771.0L284.9,765.5L285.4,756.2ZM322.5,889.0L297.1,889.7L303.4,882.9L302.2,873.7ZM374.0,958.5L348.6,958.7L355.1,952.1L354.0,942.8ZM371.0,1004.0L345.7,1006.2L351.6,999.0L349.8,989.9ZM372.5,1052.5L348.0,1059.2L352.5,1051.1L349.1,1042.4ZM246.0,1136.0L225.5,1151.1L226.9,1141.9L220.6,1135.0ZM231.0,1280.0L207.8,1269.5L216.5,1266.2L219.4,1257.4ZM592.5,1207.5L614.8,1219.8L605.8,1222.4L602.2,1231.0ZM555.0,1292.5L573.2,1274.7L573.1,1284.0L580.3,1289.9ZM431.0,1364.0L454.4,1354.0L451.0,1362.6L455.5,1370.7ZM431.0,1405.0L451.7,1390.2L450.2,1399.4L456.4,1406.3ZM314.0,1341.0L310.2,1366.1L304.6,1358.7L295.3,1358.3ZM429.0,1449.0L453.6,1442.5L448.9,1450.6L452.3,1459.2ZM481.0,1544.0L505.5,1537.1L501.0,1545.3L504.4,1553.9ZM442.5,1653.5L466.3,1644.6L462.5,1653.1L466.7,1661.4ZM397.5,1850.0L405.0,1874.3L396.7,1870.0L388.2,1873.7ZM710.0,844.0L686.8,833.6L695.5,830.3L698.3,821.4ZM789.0,931.0L799.1,954.3L790.4,950.9L782.3,955.5ZM1311.0,302.5L1313.1,277.2L1319.1,284.2L1328.4,284.0ZM1161.0,354.0L1148.7,331.7L1157.7,334.3L1165.3,328.9ZM1074.0,399.0L1051.3,387.5L1060.1,384.6L1063.4,375.9ZM1084.0,481.0L1081.9,455.7L1089.1,461.7L1098.2,459.9ZM1105.0,495.0L1090.7,474.0L1099.8,475.7L1106.9,469.6ZM1427.5,445.0L1451.5,436.6L1447.5,445.0L1451.5,453.4ZM1445.0,541.0L1470.3,538.1L1464.5,545.4L1466.5,554.5ZM1305.0,600.0L1317.6,622.1L1308.6,619.7L1301.1,625.1ZM1195.0,565.0L1213.5,582.5L1204.2,582.8L1198.6,590.2ZM1256.0,607.5L1247.8,631.6L1243.7,623.2L1234.6,621.2ZM1160.0,750.0L1176.5,769.4L1167.2,768.7L1160.8,775.4ZM954.0,662.5L956.3,637.2L962.3,644.3L971.6,644.2ZM1016.0,711.0L997.1,694.0L1006.3,693.5L1011.8,685.9ZM910.0,742.5L929.8,758.4L920.6,759.5L915.6,767.3ZM982.5,810.0L983.5,835.4L976.6,829.1L967.4,830.5ZM1827.5,815.0L1809.8,796.7L1819.1,796.8L1825.1,789.7ZM1910.0,877.5L1889.3,862.8L1898.4,861.2L1903.0,853.1ZM1736.0,835.0L1725.2,812.0L1734.0,815.1L1741.9,810.3ZM1897.5,772.5L1879.3,754.7L1888.6,754.6L1894.3,747.3ZM1585.0,817.5L1581.2,792.4L1588.7,797.8L1597.7,795.5ZM1487.5,989.0L1476.8,965.9L1485.6,969.1L1493.6,964.3ZM1426.0,1045.0L1411.9,1023.8L1421.1,1025.6L1428.2,1019.7ZM2002.5,652.5L1990.3,630.2L1999.3,632.8L2006.9,627.5ZM2300.0,555.0L2324.8,549.3L2319.9,557.2L2322.9,566.0ZM2172.5,657.5L2197.6,653.4L2192.2,661.0L2194.7,669.9ZM2022.5,741.0L2047.9,741.0L2041.4,747.6L2042.4,756.8ZM1970.0,774.0L1994.7,780.1L1986.7,784.9L1985.5,794.2ZM2322.5,869.0L2318.2,843.9L2325.8,849.3L2334.8,846.7ZM2427.5,867.5L2446.5,850.6L2446.0,859.8L2452.9,866.1ZM2607.5,970.0L2598.4,946.2L2606.9,950.0L2615.2,945.8ZM2400.0,894.0L2389.9,917.4L2386.5,908.7L2377.6,906.0ZM2172.5,980.0L2197.3,974.5L2192.4,982.4L2195.3,991.2ZM2485.0,942.5L2482.8,967.8L2476.8,960.8L2467.5,961.0ZM1976.0,1087.5L1969.4,1062.9L1977.5,1067.6L1986.1,1064.2ZM1974.5,1122.3L1995.7,1108.3L1993.9,1117.4L1999.8,1124.5ZM1972.4,1142.2L1988.7,1122.7L1989.6,1131.9L1997.3,1137.1ZM1996.0,1164.1L2021.3,1162.1L2015.3,1169.2L2017.1,1178.3ZM2060.0,1005.0L2085.3,1007.3L2078.2,1013.3L2078.3,1022.6ZM1920.0,1105.0L1905.5,1084.1L1914.7,1085.7L1921.7,1079.6ZM1895.0,1195.0L1883.7,1172.2L1892.5,1175.2L1900.3,1170.1ZM1780.0,1111.0L1755.3,1117.2L1760.1,1109.2L1756.9,1100.5ZM1495.0,1257.5L1490.0,1232.6L1497.8,1237.7L1506.6,1234.9ZM1739.0,1166.0L1715.1,1174.7L1719.0,1166.2L1714.9,1157.9ZM1992.5,1225.0L2015.4,1236.0L2006.6,1239.1L2003.5,1247.9ZM1965.0,1295.0L1989.6,1288.7L1984.9,1296.8L1988.2,1305.5ZM1842.5,1350.0L1817.6,1355.3L1822.7,1347.5L1819.7,1338.7ZM1835.0,1395.0L1809.7,1392.6L1816.8,1386.6L1816.7,1377.3ZM1897.5,1377.5L1921.1,1367.9L1917.5,1376.5L1921.9,1384.7ZM1945.0,1459.0L1970.2,1455.5L1964.6,1462.9L1966.9,1471.9ZM1942.5,1535.0L1945.0,1509.7L1950.9,1516.9L1960.2,1516.8ZM2437.0,1150.0L2461.6,1143.6L2456.9,1151.6L2460.2,1160.3ZM2608.0,1060.0L2621.6,1081.5L2612.6,1079.5L2605.3,1085.3ZM2368.0,1182.5L2393.4,1181.7L2387.1,1188.5L2388.4,1197.7ZM2285.5,1077.5L2290.3,1102.5L2282.5,1097.3L2273.6,1100.0ZM1105.0,1200.0L1082.6,1188.0L1091.5,1185.3L1095.0,1176.6ZM912.5,1262.5L889.5,1251.6L898.3,1248.5L901.3,1239.7ZM1051.0,1265.7L1027.9,1255.1L1036.6,1251.8L1039.5,1243.0ZM1149.0,1312.4L1124.4,1306.1L1132.3,1301.3L1133.7,1292.1ZM882.7,1335.0L867.3,1314.8L876.5,1316.0L883.2,1309.6ZM959.1,1394.5L939.3,1378.5L948.6,1377.5L953.6,1369.7ZM1397.5,1337.5L1383.5,1316.3L1392.6,1318.1L1399.8,1312.2ZM1275.0,1427.5L1271.3,1452.7L1265.7,1445.2L1256.4,1444.8ZM1347.5,1410.0L1350.5,1435.2L1343.2,1429.5L1334.1,1431.6ZM1140.0,1487.5L1157.0,1506.4L1147.7,1506.0L1141.5,1512.9ZM1605.0,1492.5L1628.6,1483.0L1625.0,1491.6L1629.4,1499.8ZM1540.0,1595.0L1562.8,1583.7L1559.8,1592.5L1564.9,1600.4ZM1792.5,1528.0L1796.3,1553.1L1788.8,1547.7L1779.8,1550.0ZM1834.0,1549.0L1826.7,1573.4L1822.3,1565.2L1813.1,1563.5ZM1541.0,1683.0L1566.2,1686.2L1558.9,1691.9L1558.7,1701.2ZM1970.0,1597.0L1968.0,1622.3L1961.9,1615.3L1952.6,1615.6ZM797.5,1452.5L802.9,1477.3L795.0,1472.3L786.2,1475.3ZM1022.5,1532.5L1030.9,1556.5L1022.5,1552.5L1014.1,1556.5ZM946.5,1572.5L950.5,1597.6L943.0,1592.2L934.0,1594.6ZM1249.0,1800.5L1224.0,1795.9L1231.6,1790.6L1232.3,1781.3ZM1247.5,1815.5L1226.9,1830.4L1228.3,1821.2L1222.1,1814.3ZM1234.0,1885.5L1237.9,1910.6L1230.3,1905.2L1221.4,1907.6ZM1680.0,1803.0L1691.0,1825.9L1682.2,1822.9L1674.3,1827.8ZM1480.0,1897.0L1487.2,1921.4L1479.0,1917.0L1470.4,1920.6ZM1395.0,1913.0L1386.8,1937.1L1382.7,1928.8L1373.6,1926.7ZM2328.0,1621.5L2351.7,1612.2L2348.0,1620.8L2352.3,1629.0ZM2393.0,1749.0L2413.6,1734.1L2412.2,1743.3L2418.4,1750.2ZM2790.5,139.0L2765.9,145.3L2770.6,137.3L2767.3,128.6ZM2893.0,145.0L2908.8,164.9L2899.5,163.9L2892.9,170.4ZM2919.0,150.0L2924.0,174.9L2916.2,169.8L2907.4,172.6ZM2790.5,222.5L2770.7,238.4L2771.6,229.2L2765.1,222.6ZM2877.0,279.0L2898.2,265.0L2896.4,274.1L2902.3,281.3ZM2840.5,339.0L2861.8,325.2L2859.9,334.3L2865.8,341.5ZM2852.0,369.0L2874.8,357.7L2871.8,366.5L2876.9,374.4ZM2868.0,405.0L2892.1,397.0L2888.0,405.3L2891.9,413.8ZM2848.0,446.0L2872.4,438.8L2868.0,447.0L2871.6,455.5ZM2840.5,552.5L2865.3,546.8L2860.4,554.7L2863.4,563.5ZM2873.0,758.5L2896.6,749.0L2893.0,757.6L2897.4,765.8ZM2855.5,896.0L2879.3,886.9L2875.5,895.4L2879.7,903.7ZM2855.5,937.5L2878.9,927.4L2875.5,936.1L2880.0,944.2ZM2855.5,976.0L2879.1,966.4L2875.5,975.0L2879.9,983.2ZM2855.5,1025.0L2878.5,1014.1L2875.4,1022.9L2880.2,1030.9ZM2858.0,1070.0L2881.2,1059.6L2877.9,1068.3L2882.6,1076.3ZM2863.0,1121.0L2886.1,1110.3L2882.9,1119.0L2887.7,1127.0ZM2868.0,1187.5L2890.2,1175.1L2887.7,1184.1L2893.1,1191.7ZM2862.0,1317.5L2886.5,1310.6L2882.0,1318.8L2885.4,1327.4ZM2882.0,1490.0L2902.4,1505.2L2893.2,1506.6L2888.5,1514.6ZM2884.0,1555.0L2895.0,1532.1L2898.1,1540.9L2906.9,1544.0ZM2882.0,1754.0L2902.4,1738.9L2901.1,1748.1L2907.4,1754.9ZM2785.5,1953.0L2761.2,1960.4L2765.5,1952.2L2761.9,1943.6ZM2740.5,1997.0L2717.2,1986.8L2725.9,1983.4L2728.7,1974.5ZM2815.5,2058.0L2794.3,2072.1L2796.1,2062.9L2790.2,2055.8ZM2765.5,2103.0L2740.5,2107.5L2745.8,2099.8L2743.1,2090.9Z" fill="#231f20"/>
<g font-family="Liberation Sans" font-size="31.7" fill="#111" stroke="#fff" stroke-width="0.7">
<text x="346.2" y="236.6" textLength="40.8" lengthAdjust="spacingAndGlyphs">TLR</text>
<text x="388.2" y="236.6" textLength="84.6" lengthAdjust="spacingAndGlyphs">242051</text>
<text x="462.7" y="479.6" textLength="59.8" lengthAdjust="spacingAndGlyphs">LOSA</text>
<text x="523.7" y="479.6" textLength="59.4" lengthAdjust="spacingAndGlyphs">6948</text>
<text x="480.2" y="593.1" textLength="40.8" lengthAdjust="spacingAndGlyphs">TLR</text>
<text x="522.2" y="593.1" textLength="56.4" lengthAdjust="spacingAndGlyphs">5963</text>
<text x="167.7" y="710.1" textLength="40.8" lengthAdjust="spacingAndGlyphs">TLR</text>
<text x="209.7" y="710.1" textLength="84.6" lengthAdjust="spacingAndGlyphs">242027</text>
<text x="162.7" y="834.1" textLength="59.8" lengthAdjust="spacingAndGlyphs">LOSA</text>
<text x="223.7" y="834.1" textLength="59.4" lengthAdjust="spacingAndGlyphs">3505</text>
<text x="171.7" y="942.6" textLength="40.8" lengthAdjust="spacingAndGlyphs">TLR</text>
<text x="213.7" y="942.6" textLength="84.6" lengthAdjust="spacingAndGlyphs">242052</text>
<text x="170.2" y="994.1" textLength="59.8" lengthAdjust="spacingAndGlyphs">LOSA</text>
<text x="231.2" y="994.1" textLength="59.4" lengthAdjust="spacingAndGlyphs">3501</text>
<text x="166.7" y="1055.1" textLength="59.8" lengthAdjust="spacingAndGlyphs">LOSA</text>
<text x="227.7" y="1055.1" textLength="59.4" lengthAdjust="spacingAndGlyphs">3518</text>
<text x="114.2" y="1206.6" textLength="40.8" lengthAdjust="spacingAndGlyphs">TLR</text>
<text x="156.2" y="1206.6" textLength="84.6" lengthAdjust="spacingAndGlyphs">242045</text>
<text x="635.2" y="1264.1" textLength="40.8" lengthAdjust="spacingAndGlyphs">TLR</text>
<text x="677.2" y="1264.1" textLength="84.6" lengthAdjust="spacingAndGlyphs">242045</text>
<text x="530.2" y="1365.6" textLength="59.8" lengthAdjust="spacingAndGlyphs">LOSA</text>
<text x="591.2" y="1365.6" textLength="59.4" lengthAdjust="spacingAndGlyphs">3518</text>
<text x="470.2" y="1407.6" textLength="59.8" lengthAdjust="spacingAndGlyphs">LOSA</text>
<text x="531.2" y="1407.6" textLength="59.4" lengthAdjust="spacingAndGlyphs">3501</text>
<text x="209.2" y="1451.6" textLength="40.8" lengthAdjust="spacingAndGlyphs">TLR</text>
<text x="251.2" y="1451.6" textLength="84.6" lengthAdjust="spacingAndGlyphs">242046</text>
<text x="478.2" y="1462.6" textLength="40.8" lengthAdjust="spacingAndGlyphs">TLR</text>
<text x="520.2" y="1462.6" textLength="84.6" lengthAdjust="spacingAndGlyphs">242052</text>
<text x="539.2" y="1556.6" textLength="40.8" lengthAdjust="spacingAndGlyphs">TLR</text>
<text x="581.2" y="1556.6" textLength="84.6" lengthAdjust="spacingAndGlyphs">242045</text>
<text x="490.2" y="1663.1" textLength="59.8" lengthAdjust="spacingAndGlyphs">LOSA</text>
<text x="551.2" y="1663.1" textLength="59.4" lengthAdjust="spacingAndGlyphs">6948</text>
<text x="329.2" y="1968.1" textLength="40.8" lengthAdjust="spacingAndGlyphs">TLR</text>
<text x="371.2" y="1968.1" textLength="84.6" lengthAdjust="spacingAndGlyphs">242051</text>
<text x="565.7" y="760.1" textLength="40.8" lengthAdjust="spacingAndGlyphs">TLR</text>
<text x="607.7" y="760.1" textLength="84.6" lengthAdjust="spacingAndGlyphs">242045</text>
<text x="610.2" y="1016.6" textLength="40.8" lengthAdjust="spacingAndGlyphs">TLR</text>
<text x="652.2" y="1016.6" textLength="84.6" lengthAdjust="spacingAndGlyphs">244041</text>
<text x="836.7" y="962.6" textLength="40.8" lengthAdjust="spacingAndGlyphs">TLR</text>
<text x="878.7" y="962.6" textLength="84.6" lengthAdjust="spacingAndGlyphs">244041</text>
<text x="730.2" y="1080.6" textLength="40.8" lengthAdjust="spacingAndGlyphs">TLR</text>
<text x="772.2" y="1080.6" textLength="84.6" lengthAdjust="spacingAndGlyphs">242045</text>
<text x="1284.2" y="199.1" textLength="40.8" lengthAdjust="spacingAndGlyphs">TLR</text>
<text x="1326.2" y="199.1" textLength="84.6" lengthAdjust="spacingAndGlyphs">245017</text>
<text x="1083.2" y="273.1" textLength="40.8" lengthAdjust="spacingAndGlyphs">TLR</text>
<text x="1125.2" y="273.1" textLength="84.6" lengthAdjust="spacingAndGlyphs">244056</text>
<text x="945.2" y="330.6" textLength="40.8" lengthAdjust="spacingAndGlyphs">TLR</text>
<text x="987.2" y="330.6" textLength="84.6" lengthAdjust="spacingAndGlyphs">245016</text>
<text x="913.2" y="458.1" textLength="40.8" lengthAdjust="spacingAndGlyphs">TLR</text>
<text x="955.2" y="458.1" textLength="56.4" lengthAdjust="spacingAndGlyphs">5904</text>
<text x="1463.2" y="455.6" textLength="40.8" lengthAdjust="spacingAndGlyphs">TLR</text>
<text x="1505.2" y="455.6" textLength="84.6" lengthAdjust="spacingAndGlyphs">244079</text>
<text x="1515.2" y="564.1" textLength="40.8" lengthAdjust="spacingAndGlyphs">TLR</text>
<text x="1557.2" y="564.1" textLength="84.6" lengthAdjust="spacingAndGlyphs">245016</text>
<text x="1339.2" y="670.1" textLength="40.8" lengthAdjust="spacingAndGlyphs">TLR</text>
<text x="1381.2" y="670.1" textLength="56.4" lengthAdjust="spacingAndGlyphs">5911</text>
<text x="1253.2" y="726.6" textLength="40.8" lengthAdjust="spacingAndGlyphs">TLR</text>
<text x="1295.2" y="726.6" textLength="56.4" lengthAdjust="spacingAndGlyphs">5962</text>
<text x="1210.2" y="794.1" textLength="40.8" lengthAdjust="spacingAndGlyphs">TLR</text>
<text x="1252.2" y="794.1" textLength="84.6" lengthAdjust="spacingAndGlyphs">242025</text>
<text x="913.2" y="620.6" textLength="40.8" lengthAdjust="spacingAndGlyphs">TLR</text>
<text x="955.2" y="620.6" textLength="56.4" lengthAdjust="spacingAndGlyphs">5905</text>
<text x="1041.7" y="852.6" textLength="40.8" lengthAdjust="spacingAndGlyphs">TLR</text>
<text x="1083.7" y="852.6" textLength="56.4" lengthAdjust="spacingAndGlyphs">5909</text>
<text x="1567.7" y="669.1" textLength="43.3" lengthAdjust="spacingAndGlyphs">LOS</text>
<text x="1612.2" y="669.1" textLength="84.6" lengthAdjust="spacingAndGlyphs">255017</text>
<text x="1560.7" y="711.6" textLength="40.8" lengthAdjust="spacingAndGlyphs">TLR</text>
<text x="1602.7" y="711.6" textLength="84.6" lengthAdjust="spacingAndGlyphs">244082</text>
<text x="1790.2" y="675.6" textLength="40.8" lengthAdjust="spacingAndGlyphs">TLR</text>
<text x="1832.2" y="675.6" textLength="84.6" lengthAdjust="spacingAndGlyphs">242019</text>
<text x="1520.2" y="754.1" textLength="40.8" lengthAdjust="spacingAndGlyphs">TLR</text>
<text x="1562.2" y="754.1" textLength="84.6" lengthAdjust="spacingAndGlyphs">242025</text>
<text x="1403.2" y="824.1" textLength="59.8" lengthAdjust="spacingAndGlyphs">LOSA</text>
<text x="1464.2" y="824.1" textLength="59.4" lengthAdjust="spacingAndGlyphs">6955</text>
<text x="1316.2" y="876.6" textLength="59.8" lengthAdjust="spacingAndGlyphs">LOSA</text>
<text x="1377.2" y="876.6" textLength="59.4" lengthAdjust="spacingAndGlyphs">3508</text>
<text x="1931.7" y="582.6" textLength="40.8" lengthAdjust="spacingAndGlyphs">TLR</text>
<text x="1973.7" y="582.6" textLength="84.6" lengthAdjust="spacingAndGlyphs">245015</text>
<text x="2418.2" y="576.6" textLength="40.8" lengthAdjust="spacingAndGlyphs">TLR</text>
<text x="2460.2" y="576.6" textLength="84.6" lengthAdjust="spacingAndGlyphs">242048</text>
<text x="2265.7" y="683.1" textLength="40.8" lengthAdjust="spacingAndGlyphs">TLR</text>
<text x="2307.7" y="683.1" textLength="84.6" lengthAdjust="spacingAndGlyphs">222018</text>
<text x="2078.2" y="769.1" textLength="40.8" lengthAdjust="spacingAndGlyphs">TLR</text>
<text x="2120.2" y="769.1" textLength="84.6" lengthAdjust="spacingAndGlyphs">244028</text>
<text x="2020.2" y="815.6" textLength="59.8" lengthAdjust="spacingAndGlyphs">LOSA</text>
<text x="2081.2" y="815.6" textLength="59.4" lengthAdjust="spacingAndGlyphs">6947</text>
<text x="2364.2" y="781.6" textLength="40.8" lengthAdjust="spacingAndGlyphs">TLR</text>
<text x="2406.2" y="781.6" textLength="84.6" lengthAdjust="spacingAndGlyphs">244051</text>
<text x="2540.2" y="785.6" textLength="40.8" lengthAdjust="spacingAndGlyphs">TLR</text>
<text x="2582.2" y="785.6" textLength="84.6" lengthAdjust="spacingAndGlyphs">244068</text>
<text x="2295.7" y="979.6" textLength="40.8" lengthAdjust="spacingAndGlyphs">TLR</text>
<text x="2337.7" y="979.6" textLength="84.6" lengthAdjust="spacingAndGlyphs">244068</text>
<text x="2383.2" y="1044.1" textLength="40.8" lengthAdjust="spacingAndGlyphs">TLR</text>
<text x="2425.2" y="1044.1" textLength="84.6" lengthAdjust="spacingAndGlyphs">244054</text>
<text x="1924.7" y="942.6" textLength="40.8" lengthAdjust="spacingAndGlyphs">TLR</text>
<text x="1966.7" y="942.6" textLength="84.6" lengthAdjust="spacingAndGlyphs">245016</text>
<text x="2000.2" y="1071.6" textLength="40.8" lengthAdjust="spacingAndGlyphs">TLR</text>
<text x="2042.2" y="1071.6" textLength="84.6" lengthAdjust="spacingAndGlyphs">336007</text>
<text x="2125.7" y="1110.1" textLength="40.8" lengthAdjust="spacingAndGlyphs">TLR</text>
<text x="2167.7" y="1110.1" textLength="84.6" lengthAdjust="spacingAndGlyphs">244052</text>
<text x="1746.7" y="1020.6" textLength="40.8" lengthAdjust="spacingAndGlyphs">TLR</text>
<text x="1788.7" y="1020.6" textLength="84.6" lengthAdjust="spacingAndGlyphs">244045</text>
<text x="1722.7" y="1065.6" textLength="40.8" lengthAdjust="spacingAndGlyphs">TLR</text>
<text x="1764.7" y="1065.6" textLength="84.6" lengthAdjust="spacingAndGlyphs">244046</text>
<text x="1519.2" y="1108.1" textLength="43.3" lengthAdjust="spacingAndGlyphs">LOS</text>
<text x="1563.7" y="1108.1" textLength="84.6" lengthAdjust="spacingAndGlyphs">235024</text>
<text x="1441.7" y="1158.1" textLength="40.8" lengthAdjust="spacingAndGlyphs">TLR</text>
<text x="1483.7" y="1158.1" textLength="84.6" lengthAdjust="spacingAndGlyphs">242047</text>
<text x="1551.7" y="1226.6" textLength="40.8" lengthAdjust="spacingAndGlyphs">TLR</text>
<text x="1593.7" y="1226.6" textLength="84.6" lengthAdjust="spacingAndGlyphs">244042</text>
<text x="2033.2" y="1215.6" textLength="40.8" lengthAdjust="spacingAndGlyphs">TLR</text>
<text x="2075.2" y="1215.6" textLength="56.4" lengthAdjust="spacingAndGlyphs">5961</text>
<text x="2036.7" y="1268.1" textLength="40.8" lengthAdjust="spacingAndGlyphs">TLR</text>
<text x="2078.7" y="1268.1" textLength="84.6" lengthAdjust="spacingAndGlyphs">244078</text>
<text x="2055.2" y="1315.1" textLength="40.8" lengthAdjust="spacingAndGlyphs">TLR</text>
<text x="2097.2" y="1315.1" textLength="84.6" lengthAdjust="spacingAndGlyphs">244089</text>
<text x="1579.2" y="1299.1" textLength="40.8" lengthAdjust="spacingAndGlyphs">TLR</text>
<text x="1621.2" y="1299.1" textLength="84.6" lengthAdjust="spacingAndGlyphs">244046</text>
<text x="1668.2" y="1385.6" textLength="40.8" lengthAdjust="spacingAndGlyphs">TLR</text>
<text x="1710.2" y="1385.6" textLength="84.6" lengthAdjust="spacingAndGlyphs">244045</text>
<text x="1953.2" y="1385.6" textLength="40.8" lengthAdjust="spacingAndGlyphs">TLR</text>
<text x="1995.2" y="1385.6" textLength="56.4" lengthAdjust="spacingAndGlyphs">5911</text>
<text x="1989.2" y="1475.1" textLength="59.8" lengthAdjust="spacingAndGlyphs">LOSA</text>
<text x="2050.2" y="1475.1" textLength="59.4" lengthAdjust="spacingAndGlyphs">3530</text>
<text x="2471.2" y="1162.6" textLength="40.8" lengthAdjust="spacingAndGlyphs">TLR</text>
<text x="2513.2" y="1162.6" textLength="84.6" lengthAdjust="spacingAndGlyphs">244068</text>
<text x="2555.7" y="1216.6" textLength="40.8" lengthAdjust="spacingAndGlyphs">TLR</text>
<text x="2597.7" y="1216.6" textLength="84.6" lengthAdjust="spacingAndGlyphs">244052</text>
<text x="2203.7" y="1241.6" textLength="40.8" lengthAdjust="spacingAndGlyphs">TLR</text>
<text x="2245.7" y="1241.6" textLength="84.6" lengthAdjust="spacingAndGlyphs">244058</text>
<text x="1010.2" y="1120.1" textLength="40.8" lengthAdjust="spacingAndGlyphs">TLR</text>
<text x="1052.2" y="1120.1" textLength="84.6" lengthAdjust="spacingAndGlyphs">242025</text>
<text x="782.7" y="1164.1" textLength="40.8" lengthAdjust="spacingAndGlyphs">TLR</text>
<text x="824.7" y="1164.1" textLength="84.6" lengthAdjust="spacingAndGlyphs">244081</text>
<text x="929.2" y="1170.1" textLength="40.8" lengthAdjust="spacingAndGlyphs">TLR</text>
<text x="971.2" y="1170.1" textLength="56.4" lengthAdjust="spacingAndGlyphs">5934</text>
<text x="669.2" y="1210.6" textLength="43.3" lengthAdjust="spacingAndGlyphs">LOS</text>
<text x="713.7" y="1210.6" textLength="84.6" lengthAdjust="spacingAndGlyphs">255017</text>
<text x="1321.7" y="1280.6" textLength="40.8" lengthAdjust="spacingAndGlyphs">TLR</text>
<text x="1363.7" y="1280.6" textLength="84.6" lengthAdjust="spacingAndGlyphs">244085</text>
<text x="1179.7" y="1502.6" textLength="40.8" lengthAdjust="spacingAndGlyphs">TLR</text>
<text x="1221.7" y="1502.6" textLength="84.6" lengthAdjust="spacingAndGlyphs">244086</text>
<text x="1256.7" y="1540.1" textLength="40.8" lengthAdjust="spacingAndGlyphs">TLR</text>
<text x="1298.7" y="1540.1" textLength="84.6" lengthAdjust="spacingAndGlyphs">244042</text>
<text x="1103.2" y="1577.6" textLength="40.8" lengthAdjust="spacingAndGlyphs">TLR</text>
<text x="1145.2" y="1577.6" textLength="84.6" lengthAdjust="spacingAndGlyphs">244090</text>
<text x="1619.7" y="1544.1" textLength="40.8" lengthAdjust="spacingAndGlyphs">TLR</text>
<text x="1661.7" y="1544.1" textLength="84.6" lengthAdjust="spacingAndGlyphs">235009</text>
<text x="1586.2" y="1601.1" textLength="40.8" lengthAdjust="spacingAndGlyphs">TLR</text>
<text x="1628.2" y="1601.1" textLength="84.6" lengthAdjust="spacingAndGlyphs">244086</text>
<text x="1703.7" y="1662.1" textLength="59.8" lengthAdjust="spacingAndGlyphs">LOSA</text>
<text x="1764.7" y="1662.1" textLength="59.4" lengthAdjust="spacingAndGlyphs">6942</text>
<text x="1595.7" y="1718.6" textLength="40.8" lengthAdjust="spacingAndGlyphs">TLR</text>
<text x="1637.7" y="1718.6" textLength="56.4" lengthAdjust="spacingAndGlyphs">5910</text>
<text x="1846.7" y="1757.1" textLength="40.8" lengthAdjust="spacingAndGlyphs">TLR</text>
<text x="1888.7" y="1757.1" textLength="84.6" lengthAdjust="spacingAndGlyphs">245015</text>
<text x="722.7" y="1605.1" textLength="40.8" lengthAdjust="spacingAndGlyphs">TLR</text>
<text x="764.7" y="1605.1" textLength="84.6" lengthAdjust="spacingAndGlyphs">241033</text>
<text x="959.7" y="1618.1" textLength="40.8" lengthAdjust="spacingAndGlyphs">TLR</text>
<text x="1001.7" y="1618.1" textLength="84.6" lengthAdjust="spacingAndGlyphs">244086</text>
<text x="866.7" y="1688.1" textLength="40.8" lengthAdjust="spacingAndGlyphs">TLR</text>
<text x="908.7" y="1688.1" textLength="84.6" lengthAdjust="spacingAndGlyphs">244085</text>
<text x="1009.2" y="1751.1" textLength="40.8" lengthAdjust="spacingAndGlyphs">TLR</text>
<text x="1051.2" y="1751.1" textLength="84.6" lengthAdjust="spacingAndGlyphs">245006</text>
<text x="1009.2" y="1789.1" textLength="58.5" lengthAdjust="spacingAndGlyphs">Silver</text>
<text x="989.2" y="1869.6" textLength="40.8" lengthAdjust="spacingAndGlyphs">TLR</text>
<text x="1031.2" y="1869.6" textLength="56.4" lengthAdjust="spacingAndGlyphs">5911</text>
<text x="1163.2" y="1949.6" textLength="40.8" lengthAdjust="spacingAndGlyphs">TLR</text>
<text x="1205.2" y="1949.6" textLength="84.6" lengthAdjust="spacingAndGlyphs">245000</text>
<text x="1625.2" y="1944.6" textLength="40.8" lengthAdjust="spacingAndGlyphs">TLR</text>
<text x="1667.2" y="1944.6" textLength="84.6" lengthAdjust="spacingAndGlyphs">244044</text>
<text x="1410.2" y="2007.1" textLength="40.8" lengthAdjust="spacingAndGlyphs">TLR</text>
<text x="1452.2" y="2007.1" textLength="84.6" lengthAdjust="spacingAndGlyphs">244086</text>
<text x="1249.2" y="2042.1" textLength="40.8" lengthAdjust="spacingAndGlyphs">TLR</text>
<text x="1291.2" y="2042.1" textLength="84.6" lengthAdjust="spacingAndGlyphs">245016</text>
<text x="2482.2" y="1626.6" textLength="40.8" lengthAdjust="spacingAndGlyphs">TLR</text>
<text x="2524.2" y="1626.6" textLength="70.5" lengthAdjust="spacingAndGlyphs">44000</text>
<text x="2479.7" y="1729.6" textLength="40.8" lengthAdjust="spacingAndGlyphs">TLR</text>
<text x="2521.7" y="1729.6" textLength="56.4" lengthAdjust="spacingAndGlyphs">3538</text>
<text x="2598.2" y="145.6" textLength="40.8" lengthAdjust="spacingAndGlyphs">TLR</text>
<text x="2640.2" y="145.6" textLength="84.6" lengthAdjust="spacingAndGlyphs">243040</text>
<text x="2933.2" y="210.6" textLength="40.8" lengthAdjust="spacingAndGlyphs">TLR</text>
<text x="2975.2" y="210.6" textLength="84.6" lengthAdjust="spacingAndGlyphs">233043</text>
<text x="2631.2" y="297.6" textLength="40.8" lengthAdjust="spacingAndGlyphs">TLR</text>
<text x="2673.2" y="297.6" textLength="84.6" lengthAdjust="spacingAndGlyphs">243039</text>
<text x="2934.7" y="275.6" textLength="40.8" lengthAdjust="spacingAndGlyphs">TLR</text>
<text x="2976.7" y="275.6" textLength="84.6" lengthAdjust="spacingAndGlyphs">243004</text>
<text x="2934.7" y="326.6" textLength="40.8" lengthAdjust="spacingAndGlyphs">TLR</text>
<text x="2976.7" y="326.6" textLength="84.6" lengthAdjust="spacingAndGlyphs">243046</text>
<text x="2934.7" y="366.6" textLength="40.8" lengthAdjust="spacingAndGlyphs">TLR</text>
<text x="2976.7" y="366.6" textLength="84.6" lengthAdjust="spacingAndGlyphs">243046</text>
<text x="2934.7" y="414.1" textLength="40.8" lengthAdjust="spacingAndGlyphs">TLR</text>
<text x="2976.7" y="414.1" textLength="84.6" lengthAdjust="spacingAndGlyphs">243054</text>
<text x="2934.7" y="459.1" textLength="40.8" lengthAdjust="spacingAndGlyphs">TLR</text>
<text x="2976.7" y="459.1" textLength="84.6" lengthAdjust="spacingAndGlyphs">243046</text>
<text x="2934.7" y="571.6" textLength="40.8" lengthAdjust="spacingAndGlyphs">TLR</text>
<text x="2976.7" y="571.6" textLength="84.6" lengthAdjust="spacingAndGlyphs">344030</text>
<text x="2934.7" y="765.1" textLength="40.8" lengthAdjust="spacingAndGlyphs">TLR</text>
<text x="2976.7" y="765.1" textLength="84.6" lengthAdjust="spacingAndGlyphs">243052</text>
<text x="2929.7" y="901.6" textLength="40.8" lengthAdjust="spacingAndGlyphs">TLR</text>
<text x="2971.7" y="901.6" textLength="84.6" lengthAdjust="spacingAndGlyphs">344032</text>
<text x="2929.7" y="942.6" textLength="40.8" lengthAdjust="spacingAndGlyphs">TLR</text>
<text x="2971.7" y="942.6" textLength="84.6" lengthAdjust="spacingAndGlyphs">344033</text>
<text x="2929.7" y="982.6" textLength="40.8" lengthAdjust="spacingAndGlyphs">TLR</text>
<text x="2971.7" y="982.6" textLength="84.6" lengthAdjust="spacingAndGlyphs">344032</text>
<text x="2929.7" y="1026.6" textLength="40.8" lengthAdjust="spacingAndGlyphs">TLR</text>
<text x="2971.7" y="1026.6" textLength="84.6" lengthAdjust="spacingAndGlyphs">344033</text>
<text x="2929.7" y="1073.1" textLength="40.8" lengthAdjust="spacingAndGlyphs">TLR</text>
<text x="2971.7" y="1073.1" textLength="84.6" lengthAdjust="spacingAndGlyphs">344032</text>
<text x="2929.7" y="1124.1" textLength="40.8" lengthAdjust="spacingAndGlyphs">TLR</text>
<text x="2971.7" y="1124.1" textLength="84.6" lengthAdjust="spacingAndGlyphs">243024</text>
<text x="2928.2" y="1187.6" textLength="59.8" lengthAdjust="spacingAndGlyphs">LOSA</text>
<text x="2989.2" y="1187.6" textLength="59.4" lengthAdjust="spacingAndGlyphs">5421</text>
<text x="2929.7" y="1332.6" textLength="40.8" lengthAdjust="spacingAndGlyphs">TLR</text>
<text x="2971.7" y="1332.6" textLength="84.6" lengthAdjust="spacingAndGlyphs">243031</text>
<text x="2929.7" y="1541.6" textLength="40.8" lengthAdjust="spacingAndGlyphs">TLR</text>
<text x="2971.7" y="1541.6" textLength="84.6" lengthAdjust="spacingAndGlyphs">243045</text>
<text x="2931.2" y="1751.1" textLength="40.8" lengthAdjust="spacingAndGlyphs">TLR</text>
<text x="2973.2" y="1751.1" textLength="84.6" lengthAdjust="spacingAndGlyphs">243055</text>
<text x="2626.2" y="1868.6" textLength="40.8" lengthAdjust="spacingAndGlyphs">TLR</text>
<text x="2668.2" y="1868.6" textLength="84.6" lengthAdjust="spacingAndGlyphs">243038</text>
<text x="2553.2" y="2101.1" textLength="40.8" lengthAdjust="spacingAndGlyphs">TLR</text>
<text x="2595.2" y="2101.1" textLength="84.6" lengthAdjust="spacingAndGlyphs">243038</text>
</g>
</svg></body></html>
